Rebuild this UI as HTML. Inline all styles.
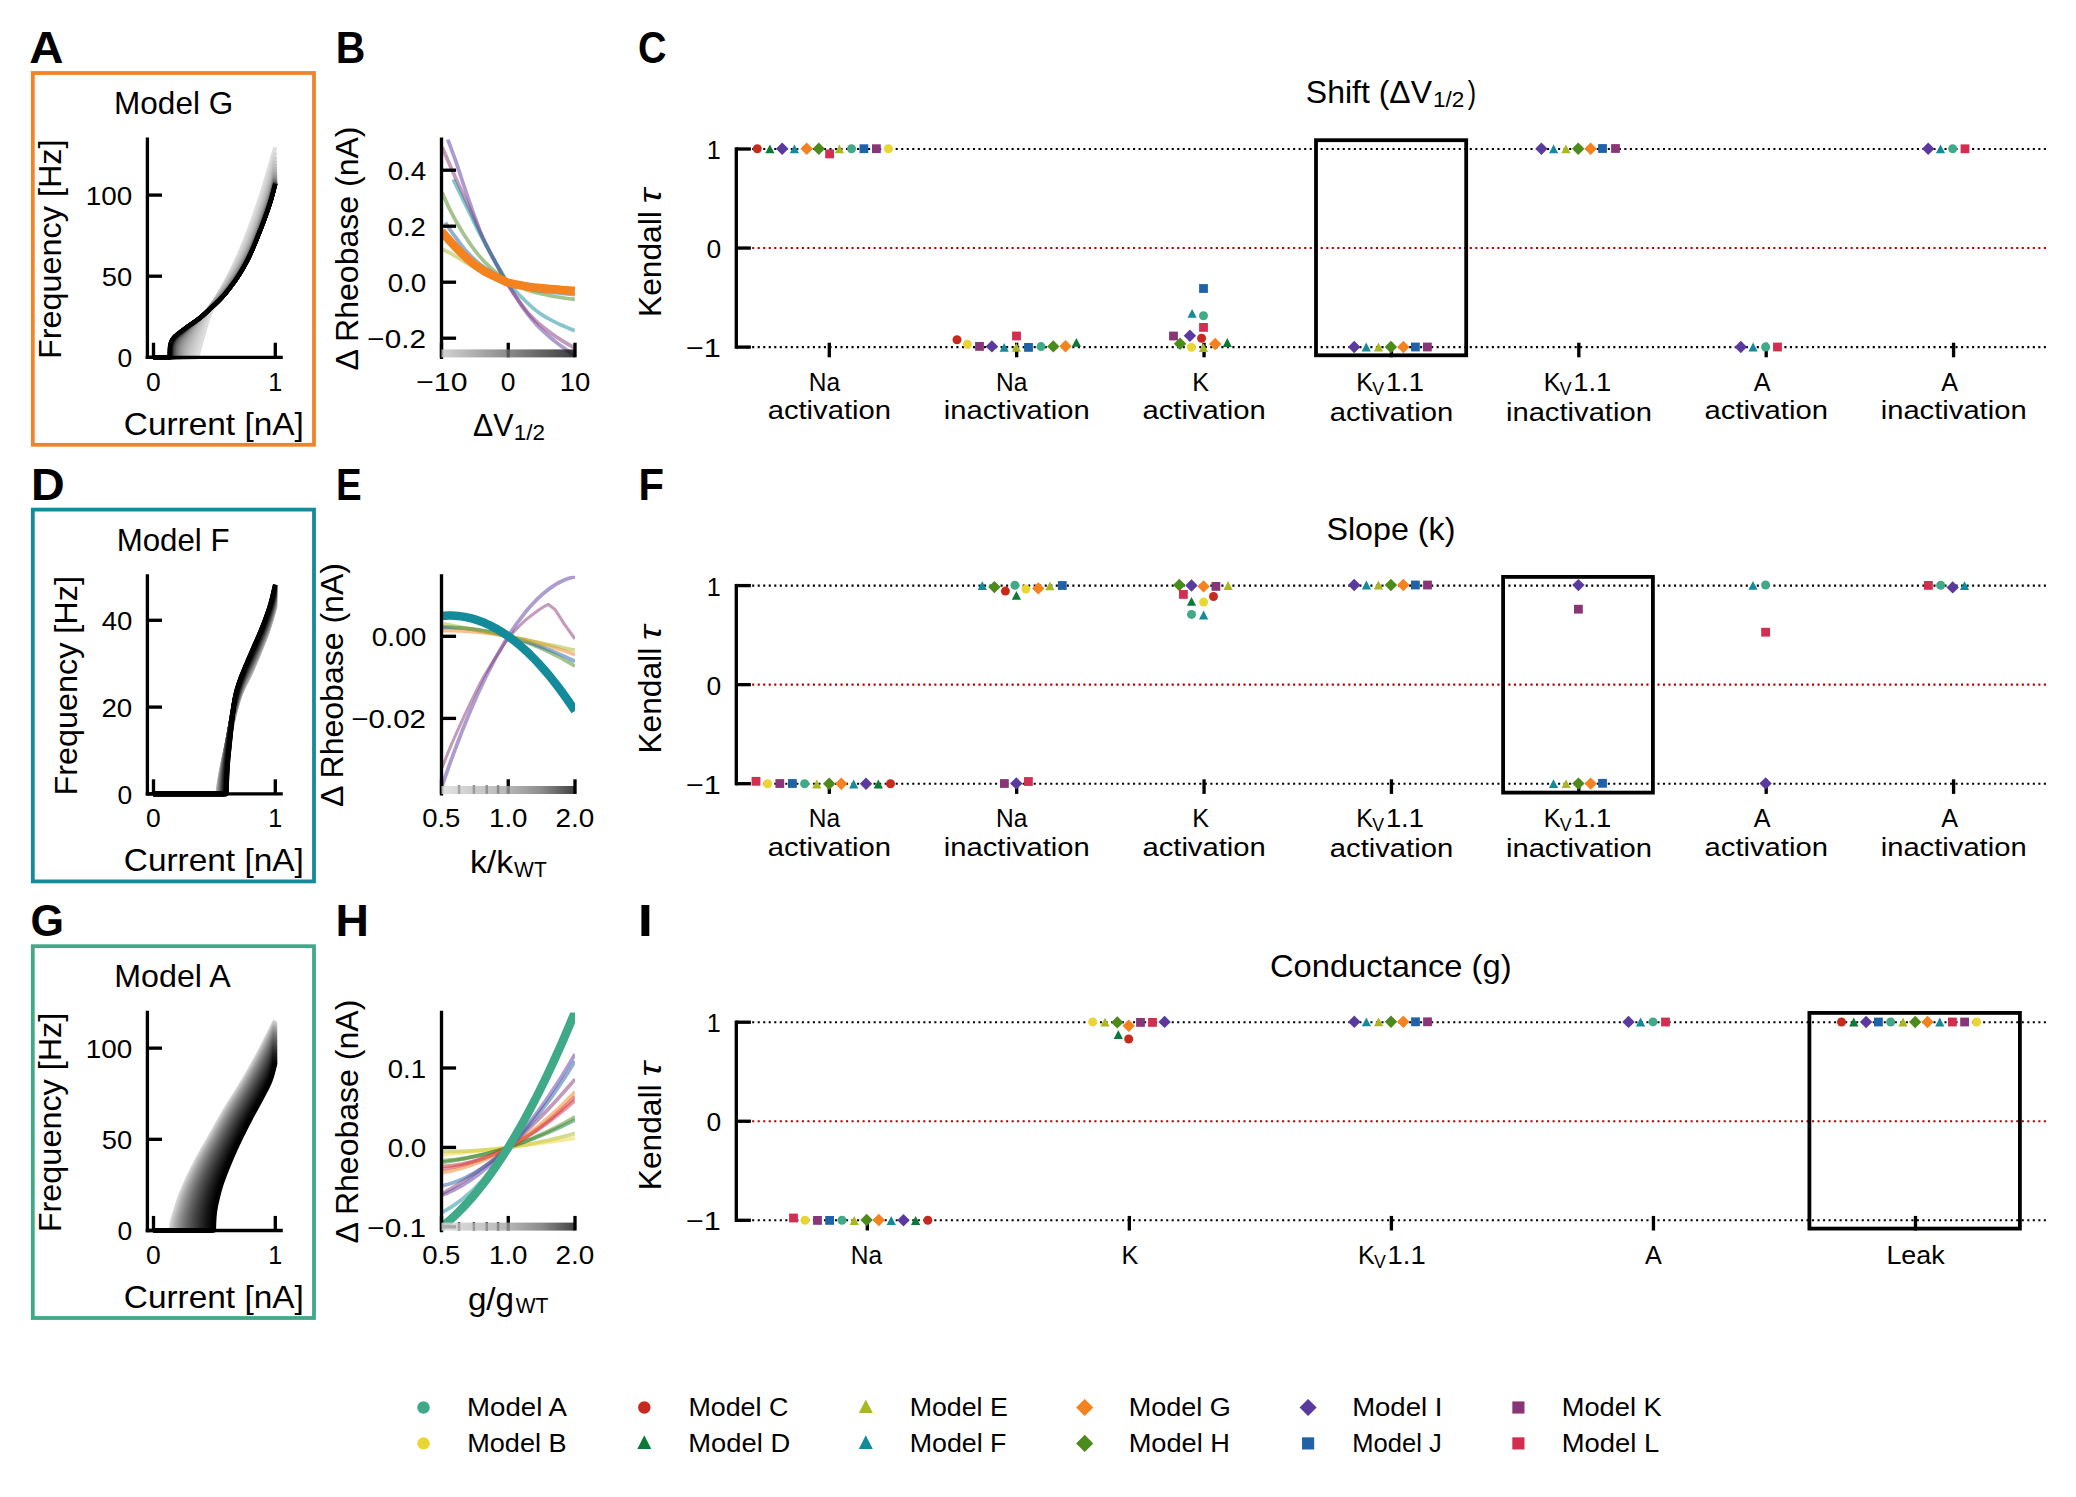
<!DOCTYPE html><html><head><meta charset="utf-8"><title>Figure</title><style>html,body{margin:0;padding:0;background:#fff;width:2076px;height:1497px;overflow:hidden}svg{display:block}text{font-family:"Liberation Sans",sans-serif}</style></head><body>
<svg width="2076" height="1497" viewBox="0 0 2076 1497" font-family="Liberation Sans, sans-serif">
<defs>
<linearGradient id="gbar" x1="0" x2="1" y1="0" y2="0"><stop offset="0" stop-color="#c7c7c7"/><stop offset="0.5" stop-color="#6d6d6d"/><stop offset="1" stop-color="#0e0e0e"/></linearGradient>
<linearGradient id="gbar2" x1="0" x2="1" y1="0" y2="0"><stop offset="0" stop-color="#dbdbdb"/><stop offset="0.5" stop-color="#a4a4a4"/><stop offset="0.75" stop-color="#6f6f6f"/><stop offset="1" stop-color="#131313"/></linearGradient>
<clipPath id="clipmid0"><rect x="441.5" y="139.2" width="133.5" height="218.1"/></clipPath>
<clipPath id="clipmid1"><rect x="441.5" y="575.8" width="133.5" height="218.1"/></clipPath>
<clipPath id="clipmid2"><rect x="441.5" y="1012.4" width="133.5" height="218.1"/></clipPath>
</defs>
<rect width="2076" height="1497" fill="#fff"/>
<text transform="translate(29.22 63) scale(1.0718 1)" font-size="44.25" font-weight="bold">A</text>
<text transform="translate(335.79 63) scale(0.9263 1)" font-size="44.25" font-weight="bold">B</text>
<text transform="translate(638.01 63) scale(0.8915 1)" font-size="44.25" font-weight="bold">C</text>
<text transform="translate(30.91 499.6) scale(1.0533 1)" font-size="44.25" font-weight="bold">D</text>
<text transform="translate(335.96 499.6) scale(0.8703 1)" font-size="44.25" font-weight="bold">E</text>
<text transform="translate(638.54 499.6) scale(0.9418 1)" font-size="44.25" font-weight="bold">F</text>
<text transform="translate(30.56 936.2) scale(0.9732 1)" font-size="44.25" font-weight="bold">G</text>
<text transform="translate(335.43 936.2) scale(1.0460 1)" font-size="44.25" font-weight="bold">H</text>
<text transform="translate(637.65 936.2) scale(1.2392 1)" font-size="44.25" font-weight="bold">I</text>
<rect x="32.8" y="73" width="281.2" height="371.8" fill="none" stroke="#f0842a" stroke-width="3.8"/>
<text transform="translate(114.1 114) scale(1.0178 1)" font-size="30.97">Model G</text>
<path d="M153.5 357.3 L197.28 357.3 L197.32 357.15 L197.4 356.83 L197.52 356.35 L197.68 355.74 L197.86 355.02 L198.07 354.19 L198.3 353.26 L198.56 352.24 L198.84 351.13 L199.15 349.96 L199.47 348.72 L199.82 347.44 L200.19 346.11 L200.58 344.73 L200.99 343.3 L201.42 341.81 L201.87 340.26 L202.34 338.64 L202.83 336.94 L203.33 335.14 L203.86 333.26 L204.4 331.31 L204.96 329.35 L205.53 327.39 L206.12 325.46 L206.73 323.49 L207.36 321.5 L208 319.51 L208.66 317.56 L209.34 315.68 L210.03 313.89 L210.73 312.2 L211.46 310.6 L212.19 309.04 L212.95 307.49 L213.72 305.9 L214.5 304.25 L215.3 302.54 L216.11 300.79 L216.94 299 L217.78 297.19 L218.64 295.37 L219.51 293.53 L220.4 291.7 L221.3 289.87 L222.21 288.05 L223.14 286.26 L224.08 284.47 L225.04 282.67 L226.01 280.86 L226.99 279.02 L227.99 277.14 L229 275.2 L230.02 273.2 L231.06 271.12 L232.11 268.96 L233.17 266.75 L234.25 264.49 L235.34 262.16 L236.44 259.78 L237.56 257.33 L238.69 254.8 L239.83 252.19 L240.98 249.5 L242.15 246.73 L243.33 243.88 L244.52 240.95 L245.73 237.93 L246.94 234.84 L248.17 231.66 L249.42 228.39 L250.67 225.03 L251.94 221.58 L253.22 218.04 L254.51 214.41 L255.81 210.69 L257.13 206.88 L258.45 202.98 L259.79 198.96 L261.14 194.82 L262.51 190.53 L263.88 186.11 L265.27 181.56 L266.67 176.93 L268.08 172.19 L269.5 167.33 L270.93 162.36 L272.38 157.32 L273.83 152.22 L275.3 147.24" fill="none" stroke="#dedede" stroke-width="4.2" stroke-linejoin="round" stroke-linecap="butt"/>
<path d="M153.5 357.3 L194.42 357.3 L194.45 356.8 L194.54 356.07 L194.66 355.39 L194.82 354.68 L195.01 353.9 L195.23 353.04 L195.47 352.11 L195.74 351.1 L196.03 350.03 L196.35 348.89 L196.69 347.7 L197.05 346.48 L197.43 345.22 L197.84 343.92 L198.26 342.58 L198.71 341.19 L199.17 339.74 L199.66 338.24 L200.16 336.67 L200.69 335.01 L201.23 333.27 L201.79 331.48 L202.37 329.67 L202.97 327.87 L203.58 326.09 L204.21 324.28 L204.86 322.45 L205.53 320.62 L206.21 318.83 L206.91 317.09 L207.63 315.44 L208.36 313.88 L209.11 312.4 L209.87 310.96 L210.65 309.52 L211.45 308.05 L212.26 306.53 L213.09 304.95 L213.93 303.34 L214.79 301.7 L215.67 300.03 L216.56 298.35 L217.46 296.65 L218.38 294.95 L219.31 293.25 L220.26 291.56 L221.22 289.88 L222.2 288.2 L223.19 286.51 L224.19 284.81 L225.21 283.08 L226.25 281.32 L227.29 279.49 L228.36 277.59 L229.43 275.61 L230.52 273.56 L231.62 271.46 L232.74 269.31 L233.87 267.09 L235.01 264.81 L236.17 262.46 L237.34 260.03 L238.52 257.52 L239.72 254.93 L240.93 252.25 L242.15 249.51 L243.39 246.68 L244.64 243.76 L245.9 240.77 L247.18 237.67 L248.46 234.49 L249.77 231.2 L251.08 227.82 L252.4 224.34 L253.74 220.76 L255.09 217.07 L256.46 213.26 L257.83 209.33 L259.22 205.27 L260.62 201.09 L262.04 196.77 L263.46 192.31 L264.9 187.73 L266.35 183.05 L267.81 178.25 L269.28 173.31 L270.77 168.24 L272.27 163.03 L273.78 157.64 L275.3 152.29" fill="none" stroke="#d7d7d7" stroke-width="4.2" stroke-linejoin="round" stroke-linecap="butt"/>
<path d="M153.5 357.3 L191.83 357.3 L191.87 356.48 L191.96 355.4 L192.09 354.52 L192.25 353.72 L192.44 352.9 L192.67 352.01 L192.92 351.07 L193.19 350.08 L193.5 349.03 L193.82 347.93 L194.17 346.79 L194.55 345.62 L194.94 344.43 L195.36 343.2 L195.8 341.93 L196.26 340.63 L196.74 339.29 L197.24 337.89 L197.76 336.43 L198.3 334.89 L198.86 333.29 L199.44 331.63 L200.04 329.96 L200.65 328.29 L201.29 326.65 L201.94 324.98 L202.61 323.29 L203.3 321.61 L204 319.95 L204.72 318.35 L205.46 316.82 L206.22 315.37 L206.99 313.99 L207.78 312.65 L208.59 311.31 L209.41 309.95 L210.25 308.54 L211.1 307.08 L211.97 305.59 L212.86 304.07 L213.76 302.52 L214.68 300.96 L215.61 299.39 L216.56 297.8 L217.52 296.21 L218.5 294.62 L219.49 293.03 L220.5 291.45 L221.52 289.86 L222.56 288.25 L223.61 286.61 L224.68 284.95 L225.76 283.21 L226.86 281.4 L227.97 279.51 L229.09 277.56 L230.23 275.55 L231.38 273.5 L232.55 271.37 L233.73 269.18 L234.92 266.91 L236.13 264.57 L237.35 262.14 L238.58 259.63 L239.83 257.05 L241.1 254.39 L242.37 251.65 L243.66 248.82 L244.96 245.91 L246.28 242.89 L247.61 239.77 L248.95 236.56 L250.3 233.23 L251.67 229.8 L253.05 226.26 L254.45 222.6 L255.86 218.79 L257.28 214.84 L258.71 210.75 L260.15 206.52 L261.61 202.18 L263.08 197.7 L264.57 193.09 L266.06 188.36 L267.57 183.51 L269.09 178.5 L270.63 173.33 L272.17 167.98 L273.73 162.33 L275.3 156.67" fill="none" stroke="#cfcfcf" stroke-width="4.2" stroke-linejoin="round" stroke-linecap="butt"/>
<path d="M153.5 357.3 L189.5 357.3 L189.54 356.19 L189.63 354.78 L189.76 353.74 L189.93 352.86 L190.13 351.99 L190.36 351.09 L190.62 350.14 L190.9 349.16 L191.21 348.13 L191.55 347.07 L191.91 345.97 L192.29 344.85 L192.7 343.71 L193.13 342.55 L193.58 341.36 L194.05 340.13 L194.55 338.88 L195.06 337.57 L195.6 336.22 L196.15 334.79 L196.73 333.3 L197.32 331.77 L197.94 330.22 L198.57 328.68 L199.22 327.15 L199.89 325.61 L200.58 324.04 L201.29 322.48 L202.01 320.95 L202.75 319.46 L203.51 318.04 L204.29 316.69 L205.09 315.4 L205.9 314.15 L206.73 312.9 L207.57 311.63 L208.43 310.32 L209.31 308.96 L210.2 307.57 L211.12 306.15 L212.04 304.72 L212.98 303.26 L213.94 301.79 L214.92 300.3 L215.91 298.8 L216.91 297.29 L217.93 295.79 L218.97 294.29 L220.02 292.77 L221.09 291.24 L222.17 289.68 L223.27 288.1 L224.38 286.44 L225.5 284.7 L226.64 282.89 L227.8 281.02 L228.97 279.1 L230.15 277.12 L231.35 275.08 L232.57 272.96 L233.79 270.77 L235.03 268.5 L236.29 266.15 L237.56 263.72 L238.84 261.21 L240.14 258.62 L241.45 255.96 L242.78 253.21 L244.12 250.37 L245.47 247.42 L246.83 244.36 L248.21 241.2 L249.61 237.93 L251.01 234.54 L252.43 231.04 L253.87 227.4 L255.31 223.59 L256.77 219.62 L258.24 215.49 L259.73 211.24 L261.23 206.87 L262.74 202.37 L264.27 197.73 L265.8 192.97 L267.36 188.07 L268.92 183 L270.49 177.75 L272.08 172.27 L273.69 166.4 L275.3 160.46" fill="none" stroke="#c8c8c8" stroke-width="4.2" stroke-linejoin="round" stroke-linecap="butt"/>
<path d="M153.5 357.3 L187.4 357.3 L187.44 355.93 L187.53 354.23 L187.67 353.04 L187.84 352.08 L188.04 351.18 L188.28 350.25 L188.54 349.3 L188.83 348.33 L189.15 347.33 L189.5 346.29 L189.87 345.23 L190.26 344.16 L190.68 343.07 L191.12 341.96 L191.58 340.84 L192.06 339.69 L192.57 338.51 L193.1 337.29 L193.65 336.02 L194.21 334.7 L194.8 333.31 L195.41 331.89 L196.04 330.45 L196.69 329.02 L197.36 327.6 L198.05 326.16 L198.75 324.71 L199.48 323.26 L200.22 321.83 L200.98 320.45 L201.76 319.12 L202.55 317.86 L203.37 316.65 L204.2 315.48 L205.05 314.3 L205.91 313.11 L206.8 311.88 L207.69 310.61 L208.61 309.31 L209.54 307.99 L210.49 306.64 L211.46 305.28 L212.44 303.89 L213.44 302.48 L214.45 301.06 L215.48 299.63 L216.53 298.2 L217.59 296.76 L218.67 295.31 L219.76 293.84 L220.87 292.35 L221.99 290.83 L223.13 289.24 L224.28 287.56 L225.45 285.83 L226.64 284.03 L227.83 282.18 L229.05 280.27 L230.28 278.29 L231.52 276.24 L232.78 274.12 L234.05 271.92 L235.33 269.63 L236.64 267.26 L237.95 264.81 L239.28 262.3 L240.62 259.7 L241.98 257.01 L243.35 254.23 L244.74 251.34 L246.14 248.34 L247.55 245.22 L248.98 241.99 L250.42 238.65 L251.87 235.18 L253.34 231.56 L254.82 227.75 L256.32 223.76 L257.83 219.61 L259.35 215.33 L260.89 210.94 L262.43 206.41 L264 201.76 L265.57 196.97 L267.16 192.03 L268.76 186.9 L270.38 181.58 L272.01 176 L273.65 169.94 L275.3 163.76" fill="none" stroke="#c0c0c0" stroke-width="4.2" stroke-linejoin="round" stroke-linecap="butt"/>
<path d="M153.5 357.3 L185.51 357.3 L185.55 355.69 L185.64 353.74 L185.78 352.41 L185.96 351.38 L186.17 350.44 L186.4 349.5 L186.67 348.55 L186.97 347.59 L187.3 346.6 L187.65 345.59 L188.03 344.57 L188.43 343.53 L188.85 342.49 L189.3 341.44 L189.78 340.37 L190.27 339.29 L190.79 338.18 L191.33 337.04 L191.89 335.85 L192.47 334.61 L193.07 333.32 L193.69 331.99 L194.34 330.65 L195 329.32 L195.68 328 L196.38 326.66 L197.1 325.3 L197.84 323.95 L198.6 322.62 L199.38 321.33 L200.17 320.08 L200.99 318.89 L201.82 317.76 L202.67 316.65 L203.53 315.54 L204.42 314.42 L205.32 313.26 L206.24 312.07 L207.17 310.85 L208.13 309.6 L209.1 308.33 L210.08 307.05 L211.09 305.73 L212.11 304.4 L213.14 303.04 L214.2 301.68 L215.26 300.3 L216.35 298.92 L217.45 297.52 L218.56 296.1 L219.7 294.66 L220.84 293.2 L222.01 291.67 L223.19 290.05 L224.38 288.37 L225.59 286.63 L226.81 284.85 L228.05 283 L229.31 281.08 L230.58 279.09 L231.86 277.02 L233.16 274.88 L234.47 272.65 L235.8 270.33 L237.15 267.94 L238.5 265.48 L239.88 262.94 L241.26 260.31 L242.66 257.59 L244.08 254.75 L245.51 251.79 L246.95 248.71 L248.41 245.52 L249.88 242.21 L251.37 238.76 L252.87 235.16 L254.38 231.36 L255.91 227.36 L257.45 223.18 L259.01 218.87 L260.57 214.47 L262.16 209.92 L263.75 205.25 L265.36 200.43 L266.99 195.46 L268.62 190.29 L270.27 184.91 L271.93 179.22 L273.61 173 L275.3 166.61" fill="none" stroke="#b9b9b9" stroke-width="4.2" stroke-linejoin="round" stroke-linecap="butt"/>
<path d="M153.5 357.3 L183.8 357.3 L183.84 355.48 L183.94 353.29 L184.08 351.84 L184.26 350.75 L184.47 349.78 L184.72 348.82 L184.99 347.87 L185.29 346.92 L185.62 345.95 L185.98 344.97 L186.37 343.97 L186.78 342.97 L187.21 341.97 L187.67 340.97 L188.15 339.95 L188.65 338.93 L189.18 337.88 L189.73 336.81 L190.3 335.7 L190.89 334.54 L191.51 333.33 L192.14 332.09 L192.8 330.84 L193.47 329.59 L194.17 328.35 L194.88 327.1 L195.62 325.83 L196.37 324.57 L197.14 323.32 L197.93 322.11 L198.75 320.94 L199.57 319.81 L200.42 318.74 L201.29 317.69 L202.17 316.64 L203.07 315.57 L203.99 314.48 L204.93 313.35 L205.88 312.2 L206.85 311.02 L207.84 309.82 L208.84 308.6 L209.87 307.35 L210.91 306.07 L211.96 304.77 L213.03 303.46 L214.12 302.14 L215.23 300.8 L216.35 299.44 L217.49 298.06 L218.64 296.67 L219.81 295.26 L220.99 293.77 L222.19 292.2 L223.41 290.57 L224.64 288.89 L225.89 287.16 L227.15 285.37 L228.43 283.5 L229.73 281.56 L231.04 279.54 L232.36 277.44 L233.7 275.26 L235.05 272.99 L236.42 270.65 L237.8 268.24 L239.2 265.75 L240.62 263.17 L242.04 260.49 L243.49 257.7 L244.94 254.77 L246.41 251.74 L247.9 248.58 L249.4 245.3 L250.91 241.87 L252.44 238.29 L253.98 234.49 L255.54 230.47 L257.11 226.27 L258.7 221.95 L260.29 217.52 L261.91 212.97 L263.53 208.27 L265.17 203.44 L266.83 198.43 L268.49 193.22 L270.18 187.79 L271.87 182.02 L273.58 175.65 L275.3 169.09" fill="none" stroke="#b2b2b2" stroke-width="4.2" stroke-linejoin="round" stroke-linecap="butt"/>
<path d="M153.5 357.3 L182.26 357.3 L182.31 355.29 L182.4 352.89 L182.55 351.32 L182.73 350.18 L182.94 349.19 L183.19 348.21 L183.47 347.26 L183.78 346.31 L184.12 345.36 L184.48 344.4 L184.87 343.43 L185.29 342.47 L185.73 341.51 L186.2 340.55 L186.68 339.58 L187.2 338.6 L187.73 337.62 L188.29 336.61 L188.87 335.56 L189.48 334.47 L190.1 333.34 L190.74 332.18 L191.41 331 L192.1 329.83 L192.8 328.67 L193.53 327.49 L194.28 326.3 L195.04 325.12 L195.83 323.95 L196.63 322.8 L197.46 321.69 L198.3 320.63 L199.16 319.61 L200.04 318.61 L200.94 317.61 L201.86 316.59 L202.79 315.55 L203.74 314.48 L204.71 313.39 L205.7 312.27 L206.71 311.13 L207.73 309.96 L208.77 308.76 L209.82 307.54 L210.9 306.29 L211.99 305.02 L213.09 303.74 L214.22 302.43 L215.36 301.11 L216.51 299.77 L217.69 298.41 L218.88 297.04 L220.08 295.59 L221.3 294.06 L222.54 292.48 L223.79 290.85 L225.06 289.16 L226.34 287.41 L227.64 285.59 L228.96 283.69 L230.29 281.72 L231.64 279.66 L233 277.52 L234.38 275.3 L235.77 273 L237.17 270.63 L238.6 268.18 L240.03 265.64 L241.48 263.01 L242.95 260.25 L244.43 257.36 L245.93 254.36 L247.44 251.23 L248.96 247.97 L250.5 244.57 L252.06 240.99 L253.63 237.19 L255.21 233.17 L256.81 228.95 L258.42 224.61 L260.04 220.17 L261.68 215.6 L263.34 210.89 L265 206.04 L266.68 201 L268.38 195.76 L270.09 190.28 L271.81 184.44 L273.55 177.95 L275.3 171.23" fill="none" stroke="#aaaaaa" stroke-width="4.2" stroke-linejoin="round" stroke-linecap="butt"/>
<path d="M153.5 357.3 L180.87 357.3 L180.92 355.11 L181.02 352.52 L181.17 350.86 L181.35 349.67 L181.57 348.65 L181.82 347.66 L182.1 346.71 L182.42 345.77 L182.76 344.84 L183.13 343.89 L183.52 342.95 L183.95 342.02 L184.39 341.09 L184.87 340.17 L185.36 339.24 L185.88 338.31 L186.43 337.38 L187 336.42 L187.58 335.44 L188.2 334.41 L188.83 333.34 L189.48 332.25 L190.16 331.15 L190.86 330.05 L191.57 328.95 L192.31 327.84 L193.07 326.72 L193.85 325.61 L194.64 324.5 L195.46 323.41 L196.3 322.36 L197.15 321.35 L198.03 320.37 L198.92 319.42 L199.83 318.46 L200.76 317.49 L201.71 316.5 L202.68 315.48 L203.66 314.43 L204.66 313.37 L205.68 312.27 L206.72 311.15 L207.78 310 L208.85 308.82 L209.94 307.61 L211.04 306.38 L212.17 305.13 L213.31 303.86 L214.46 302.57 L215.64 301.26 L216.83 299.93 L218.03 298.58 L219.26 297.17 L220.5 295.68 L221.75 294.13 L223.02 292.54 L224.31 290.89 L225.62 289.19 L226.93 287.4 L228.27 285.54 L229.62 283.6 L230.99 281.59 L232.37 279.48 L233.77 277.29 L235.18 275.03 L236.61 272.7 L238.05 270.29 L239.51 267.79 L240.98 265.19 L242.47 262.46 L243.97 259.6 L245.49 256.62 L247.02 253.52 L248.57 250.29 L250.13 246.9 L251.71 243.34 L253.3 239.54 L254.91 235.5 L256.53 231.27 L258.17 226.91 L259.82 222.46 L261.48 217.88 L263.16 213.16 L264.85 208.29 L266.56 203.23 L268.28 197.96 L270.01 192.44 L271.76 186.54 L273.52 179.94 L275.3 173.08" fill="none" stroke="#a3a3a3" stroke-width="4.2" stroke-linejoin="round" stroke-linecap="butt"/>
<path d="M153.5 357.3 L179.62 357.3 L179.67 354.96 L179.77 352.2 L179.92 350.44 L180.11 349.21 L180.33 348.17 L180.58 347.17 L180.87 346.21 L181.19 345.28 L181.53 344.36 L181.91 343.44 L182.31 342.52 L182.74 341.61 L183.19 340.71 L183.67 339.83 L184.17 338.94 L184.7 338.06 L185.25 337.17 L185.83 336.26 L186.42 335.33 L187.04 334.36 L187.69 333.35 L188.35 332.32 L189.03 331.28 L189.74 330.24 L190.47 329.2 L191.21 328.16 L191.98 327.1 L192.77 326.04 L193.58 324.99 L194.41 323.96 L195.25 322.96 L196.12 321.99 L197.01 321.05 L197.91 320.14 L198.83 319.22 L199.78 318.29 L200.74 317.34 L201.72 316.36 L202.71 315.35 L203.73 314.33 L204.76 313.28 L205.81 312.2 L206.88 311.09 L207.97 309.94 L209.07 308.77 L210.19 307.57 L211.33 306.35 L212.49 305.1 L213.66 303.83 L214.85 302.54 L216.05 301.24 L217.28 299.92 L218.52 298.54 L219.77 297.07 L221.04 295.56 L222.33 294.01 L223.64 292.39 L224.96 290.72 L226.29 288.97 L227.65 287.14 L229.02 285.24 L230.4 283.25 L231.8 281.18 L233.22 279.02 L234.65 276.79 L236.09 274.49 L237.56 272.11 L239.03 269.64 L240.53 267.07 L242.03 264.38 L243.56 261.54 L245.1 258.59 L246.65 255.51 L248.22 252.29 L249.8 248.92 L251.4 245.37 L253.01 241.57 L254.64 237.53 L256.28 233.28 L257.94 228.91 L259.61 224.45 L261.3 219.86 L263 215.13 L264.71 210.24 L266.44 205.16 L268.18 199.87 L269.94 194.31 L271.71 188.36 L273.5 181.66 L275.3 174.69" fill="none" stroke="#9b9b9b" stroke-width="4.2" stroke-linejoin="round" stroke-linecap="butt"/>
<path d="M153.5 357.3 L178.5 357.3 L178.54 354.82 L178.65 351.9 L178.8 350.06 L178.98 348.79 L179.21 347.73 L179.47 346.72 L179.76 345.76 L180.08 344.84 L180.43 343.94 L180.81 343.03 L181.21 342.13 L181.65 341.25 L182.11 340.38 L182.59 339.52 L183.1 338.67 L183.63 337.82 L184.19 336.98 L184.77 336.12 L185.38 335.23 L186 334.31 L186.65 333.35 L187.32 332.38 L188.02 331.4 L188.73 330.41 L189.47 329.43 L190.22 328.43 L191 327.43 L191.8 326.42 L192.62 325.43 L193.45 324.44 L194.31 323.48 L195.19 322.56 L196.08 321.66 L197 320.77 L197.93 319.89 L198.89 318.99 L199.86 318.07 L200.85 317.13 L201.86 316.16 L202.89 315.18 L203.93 314.16 L205 313.12 L206.08 312.04 L207.18 310.93 L208.29 309.78 L209.43 308.6 L210.58 307.4 L211.75 306.18 L212.93 304.93 L214.14 303.66 L215.36 302.38 L216.59 301.08 L217.85 299.72 L219.12 298.28 L220.41 296.8 L221.71 295.27 L223.03 293.69 L224.37 292.05 L225.72 290.33 L227.09 288.53 L228.47 286.65 L229.87 284.69 L231.29 282.65 L232.72 280.52 L234.17 278.31 L235.63 276.04 L237.11 273.69 L238.61 271.25 L240.12 268.7 L241.64 266.03 L243.18 263.22 L244.74 260.29 L246.31 257.22 L247.9 254.02 L249.5 250.67 L251.12 247.12 L252.75 243.33 L254.4 239.28 L256.06 235.02 L257.73 230.63 L259.43 226.17 L261.13 221.57 L262.85 216.83 L264.59 211.93 L266.34 206.83 L268.1 201.51 L269.88 195.93 L271.67 189.93 L273.48 183.15 L275.3 176.08" fill="none" stroke="#949494" stroke-width="4.2" stroke-linejoin="round" stroke-linecap="butt"/>
<path d="M153.5 357.3 L177.48 357.3 L177.53 354.69 L177.63 351.63 L177.78 349.73 L177.97 348.42 L178.2 347.34 L178.46 346.32 L178.76 345.36 L179.08 344.45 L179.43 343.55 L179.82 342.66 L180.23 341.78 L180.67 340.92 L181.13 340.08 L181.62 339.25 L182.13 338.43 L182.67 337.61 L183.24 336.81 L183.82 335.99 L184.43 335.14 L185.07 334.27 L185.72 333.36 L186.4 332.43 L187.1 331.5 L187.82 330.56 L188.57 329.63 L189.33 328.68 L190.12 327.72 L190.92 326.77 L191.75 325.81 L192.59 324.87 L193.46 323.95 L194.35 323.06 L195.25 322.19 L196.18 321.33 L197.12 320.47 L198.09 319.61 L199.07 318.72 L200.07 317.81 L201.09 316.87 L202.13 315.92 L203.18 314.94 L204.26 313.92 L205.35 312.87 L206.46 311.78 L207.59 310.66 L208.74 309.51 L209.9 308.33 L211.08 307.12 L212.28 305.89 L213.5 304.63 L214.73 303.36 L215.98 302.08 L217.25 300.74 L218.53 299.33 L219.83 297.87 L221.15 296.37 L222.48 294.82 L223.83 293.2 L225.2 291.5 L226.58 289.73 L227.98 287.87 L229.4 285.94 L230.83 283.92 L232.27 281.81 L233.74 279.63 L235.22 277.38 L236.71 275.05 L238.22 272.64 L239.75 270.12 L241.29 267.47 L242.85 264.68 L244.42 261.76 L246.01 258.71 L247.61 255.52 L249.23 252.18 L250.86 248.64 L252.51 244.84 L254.18 240.79 L255.86 236.52 L257.55 232.13 L259.26 227.65 L260.98 223.04 L262.72 218.29 L264.47 213.38 L266.24 208.27 L268.02 202.94 L269.82 197.33 L271.63 191.29 L273.46 184.44 L275.3 177.28" fill="none" stroke="#8d8d8d" stroke-width="4.2" stroke-linejoin="round" stroke-linecap="butt"/>
<path d="M153.5 357.3 L176.57 357.3 L176.61 354.58 L176.72 351.4 L176.87 349.42 L177.06 348.08 L177.29 346.99 L177.56 345.96 L177.85 345 L178.18 344.09 L178.54 343.21 L178.92 342.33 L179.34 341.46 L179.78 340.62 L180.25 339.8 L180.74 339 L181.26 338.21 L181.81 337.43 L182.38 336.65 L182.97 335.87 L183.58 335.06 L184.22 334.23 L184.89 333.36 L185.57 332.48 L186.28 331.59 L187.01 330.7 L187.76 329.81 L188.53 328.9 L189.32 327.99 L190.13 327.07 L190.97 326.16 L191.82 325.25 L192.7 324.37 L193.59 323.5 L194.5 322.66 L195.44 321.83 L196.39 320.99 L197.36 320.15 L198.35 319.29 L199.36 318.41 L200.39 317.5 L201.44 316.57 L202.51 315.62 L203.59 314.63 L204.7 313.6 L205.82 312.53 L206.96 311.43 L208.11 310.29 L209.29 309.13 L210.48 307.94 L211.69 306.72 L212.92 305.47 L214.16 304.22 L215.42 302.95 L216.7 301.62 L218 300.23 L219.31 298.8 L220.64 297.32 L221.99 295.79 L223.35 294.19 L224.73 292.51 L226.12 290.76 L227.54 288.93 L228.97 287.01 L230.41 285.01 L231.87 282.93 L233.35 280.76 L234.84 278.54 L236.35 276.23 L237.88 273.84 L239.42 271.34 L240.97 268.71 L242.54 265.93 L244.13 263.03 L245.73 259.99 L247.35 256.82 L248.99 253.48 L250.64 249.95 L252.3 246.16 L253.98 242.09 L255.67 237.82 L257.38 233.41 L259.11 228.93 L260.85 224.32 L262.6 219.56 L264.37 214.65 L266.16 209.52 L267.96 204.17 L269.77 198.53 L271.6 192.46 L273.44 185.56 L275.3 178.32" fill="none" stroke="#858585" stroke-width="4.2" stroke-linejoin="round" stroke-linecap="butt"/>
<path d="M153.5 357.3 L175.74 357.3 L175.79 354.48 L175.9 351.18 L176.05 349.14 L176.24 347.78 L176.47 346.67 L176.74 345.64 L177.04 344.68 L177.37 343.77 L177.73 342.9 L178.12 342.03 L178.54 341.18 L178.98 340.36 L179.45 339.56 L179.95 338.78 L180.48 338.01 L181.03 337.26 L181.6 336.52 L182.2 335.76 L182.82 334.99 L183.46 334.19 L184.13 333.37 L184.82 332.53 L185.53 331.68 L186.27 330.82 L187.02 329.96 L187.8 329.1 L188.6 328.22 L189.42 327.34 L190.26 326.46 L191.12 325.59 L192.01 324.73 L192.91 323.89 L193.83 323.07 L194.77 322.26 L195.73 321.45 L196.71 320.63 L197.71 319.79 L198.73 318.93 L199.77 318.05 L200.83 317.14 L201.9 316.21 L202.99 315.24 L204.11 314.24 L205.24 313.19 L206.39 312.1 L207.55 310.98 L208.74 309.83 L209.94 308.64 L211.16 307.43 L212.4 306.2 L213.65 304.96 L214.92 303.7 L216.21 302.39 L217.52 301.01 L218.84 299.6 L220.18 298.14 L221.54 296.62 L222.92 295.05 L224.31 293.39 L225.71 291.66 L227.14 289.84 L228.58 287.94 L230.04 285.96 L231.51 283.89 L233 281.74 L234.5 279.53 L236.02 277.25 L237.56 274.87 L239.12 272.39 L240.69 269.77 L242.27 267.01 L243.87 264.12 L245.49 261.1 L247.12 257.94 L248.77 254.61 L250.43 251.08 L252.11 247.29 L253.8 243.22 L255.51 238.94 L257.23 234.53 L258.97 230.04 L260.73 225.42 L262.5 220.66 L264.28 215.73 L266.08 210.59 L267.9 205.23 L269.72 199.58 L271.57 193.48 L273.43 186.52 L275.3 179.22" fill="none" stroke="#7e7e7e" stroke-width="4.2" stroke-linejoin="round" stroke-linecap="butt"/>
<path d="M153.5 357.3 L175 357.3 L175.05 354.38 L175.15 350.98 L175.31 348.9 L175.5 347.51 L175.74 346.38 L176 345.34 L176.31 344.38 L176.64 343.48 L177 342.62 L177.39 341.76 L177.81 340.93 L178.26 340.12 L178.74 339.34 L179.24 338.58 L179.77 337.84 L180.32 337.11 L180.9 336.39 L181.5 335.67 L182.13 334.93 L182.78 334.16 L183.45 333.37 L184.15 332.57 L184.86 331.75 L185.6 330.93 L186.37 330.11 L187.15 329.27 L187.95 328.43 L188.78 327.58 L189.63 326.73 L190.49 325.89 L191.38 325.06 L192.29 324.24 L193.22 323.44 L194.17 322.65 L195.14 321.86 L196.13 321.05 L197.13 320.23 L198.16 319.39 L199.2 318.53 L200.27 317.64 L201.35 316.73 L202.45 315.78 L203.57 314.79 L204.71 313.76 L205.87 312.69 L207.05 311.58 L208.24 310.43 L209.45 309.26 L210.68 308.06 L211.93 306.83 L213.19 305.6 L214.47 304.34 L215.77 303.04 L217.09 301.68 L218.42 300.28 L219.77 298.84 L221.14 297.35 L222.52 295.79 L223.93 294.14 L225.34 292.43 L226.78 290.63 L228.23 288.74 L229.7 286.78 L231.18 284.72 L232.68 282.59 L234.2 280.4 L235.73 278.13 L237.28 275.77 L238.85 273.3 L240.43 270.7 L242.02 267.95 L243.64 265.07 L245.26 262.06 L246.91 258.9 L248.57 255.58 L250.24 252.06 L251.93 248.27 L253.64 244.2 L255.36 239.9 L257.1 235.49 L258.85 231 L260.62 226.37 L262.4 221.61 L264.2 216.67 L266.01 211.52 L267.84 206.15 L269.68 200.48 L271.54 194.35 L273.41 187.35 L275.3 179.99" fill="none" stroke="#767676" stroke-width="4.2" stroke-linejoin="round" stroke-linecap="butt"/>
<path d="M153.5 357.3 L174.33 357.3 L174.38 354.3 L174.49 350.81 L174.64 348.67 L174.84 347.26 L175.07 346.12 L175.34 345.08 L175.64 344.12 L175.98 343.22 L176.34 342.36 L176.74 341.52 L177.16 340.7 L177.62 339.91 L178.09 339.15 L178.6 338.41 L179.13 337.68 L179.69 336.98 L180.27 336.28 L180.88 335.59 L181.51 334.87 L182.16 334.13 L182.84 333.37 L183.54 332.6 L184.26 331.81 L185 331.02 L185.77 330.23 L186.56 329.43 L187.37 328.61 L188.2 327.79 L189.05 326.97 L189.93 326.15 L190.82 325.34 L191.74 324.55 L192.67 323.76 L193.63 322.99 L194.6 322.21 L195.6 321.43 L196.61 320.62 L197.64 319.8 L198.7 318.95 L199.77 318.08 L200.86 317.19 L201.97 316.25 L203.1 315.28 L204.24 314.26 L205.41 313.19 L206.59 312.1 L207.79 310.96 L209.01 309.79 L210.25 308.6 L211.5 307.38 L212.78 306.15 L214.07 304.9 L215.37 303.61 L216.7 302.26 L218.04 300.88 L219.4 299.45 L220.78 297.97 L222.17 296.43 L223.58 294.8 L225.01 293.09 L226.45 291.3 L227.92 289.43 L229.39 287.48 L230.89 285.44 L232.4 283.32 L233.92 281.14 L235.47 278.89 L237.03 276.54 L238.6 274.08 L240.19 271.49 L241.8 268.75 L243.42 265.88 L245.06 262.88 L246.72 259.73 L248.39 256.42 L250.08 252.9 L251.78 249.11 L253.5 245.04 L255.23 240.74 L256.98 236.32 L258.74 231.82 L260.52 227.19 L262.32 222.42 L264.13 217.48 L265.95 212.32 L267.79 206.94 L269.65 201.25 L271.52 195.1 L273.4 188.06 L275.3 180.66" fill="none" stroke="#6f6f6f" stroke-width="4.2" stroke-linejoin="round" stroke-linecap="butt"/>
<path d="M153.5 357.3 L173.73 357.3 L173.77 354.23 L173.88 350.65 L174.04 348.47 L174.24 347.04 L174.47 345.89 L174.74 344.84 L175.05 343.88 L175.38 342.99 L175.75 342.14 L176.15 341.3 L176.58 340.5 L177.03 339.72 L177.51 338.97 L178.02 338.25 L178.56 337.54 L179.12 336.86 L179.7 336.19 L180.31 335.51 L180.94 334.82 L181.6 334.11 L182.28 333.38 L182.99 332.63 L183.71 331.87 L184.46 331.11 L185.24 330.34 L186.03 329.56 L186.84 328.78 L187.68 327.98 L188.54 327.18 L189.42 326.39 L190.32 325.6 L191.24 324.82 L192.18 324.05 L193.14 323.29 L194.12 322.53 L195.12 321.75 L196.14 320.96 L197.18 320.15 L198.24 319.32 L199.32 318.47 L200.41 317.59 L201.53 316.67 L202.66 315.7 L203.82 314.69 L204.99 313.64 L206.18 312.55 L207.39 311.42 L208.61 310.26 L209.86 309.07 L211.12 307.85 L212.4 306.62 L213.7 305.38 L215.02 304.1 L216.35 302.76 L217.7 301.39 L219.07 299.97 L220.45 298.5 L221.85 296.97 L223.27 295.36 L224.71 293.66 L226.16 291.89 L227.63 290.03 L229.12 288.09 L230.62 286.06 L232.14 283.95 L233.68 281.78 L235.23 279.54 L236.8 277.2 L238.38 274.75 L239.98 272.17 L241.6 269.44 L243.23 266.58 L244.88 263.59 L246.55 260.45 L248.23 257.14 L249.93 253.63 L251.64 249.83 L253.37 245.76 L255.11 241.45 L256.87 237.03 L258.64 232.53 L260.43 227.9 L262.24 223.12 L264.06 218.18 L265.89 213.01 L267.75 207.62 L269.61 201.92 L271.49 195.75 L273.39 188.68 L275.3 181.23" fill="none" stroke="#686868" stroke-width="4.2" stroke-linejoin="round" stroke-linecap="butt"/>
<path d="M153.5 357.3 L173.18 357.3 L173.23 354.16 L173.34 350.51 L173.5 348.29 L173.69 346.84 L173.93 345.68 L174.2 344.63 L174.51 343.67 L174.85 342.78 L175.22 341.94 L175.62 341.11 L176.05 340.31 L176.5 339.55 L176.99 338.81 L177.5 338.1 L178.04 337.41 L178.6 336.75 L179.19 336.1 L179.8 335.44 L180.44 334.78 L181.1 334.09 L181.78 333.38 L182.49 332.66 L183.22 331.93 L183.98 331.19 L184.75 330.44 L185.55 329.69 L186.37 328.92 L187.21 328.15 L188.07 327.37 L188.96 326.6 L189.86 325.82 L190.79 325.06 L191.73 324.3 L192.7 323.55 L193.68 322.8 L194.69 322.04 L195.72 321.26 L196.76 320.47 L197.82 319.65 L198.91 318.81 L200.01 317.93 L201.13 317.02 L202.27 316.07 L203.43 315.07 L204.61 314.02 L205.81 312.94 L207.02 311.81 L208.26 310.66 L209.51 309.47 L210.78 308.26 L212.06 307.03 L213.37 305.79 L214.69 304.52 L216.03 303.19 L217.39 301.83 L218.77 300.42 L220.16 298.97 L221.57 297.45 L222.99 295.84 L224.44 294.16 L225.9 292.39 L227.38 290.54 L228.87 288.61 L230.38 286.59 L231.91 284.49 L233.45 282.33 L235.01 280.1 L236.59 277.77 L238.18 275.33 L239.79 272.76 L241.42 270.04 L243.06 267.19 L244.72 264.2 L246.39 261.07 L248.08 257.76 L249.79 254.25 L251.51 250.46 L253.25 246.38 L255 242.07 L256.77 237.64 L258.55 233.14 L260.35 228.51 L262.17 223.73 L264 218.78 L265.84 213.6 L267.7 208.2 L269.58 202.49 L271.47 196.31 L273.38 189.21 L275.3 181.72" fill="none" stroke="#606060" stroke-width="4.2" stroke-linejoin="round" stroke-linecap="butt"/>
<path d="M153.5 357.3 L172.69 357.3 L172.74 354.1 L172.85 350.38 L173.01 348.13 L173.21 346.66 L173.44 345.49 L173.72 344.44 L174.03 343.48 L174.37 342.59 L174.74 341.75 L175.14 340.93 L175.57 340.15 L176.03 339.39 L176.52 338.67 L177.03 337.98 L177.57 337.3 L178.14 336.65 L178.73 336.02 L179.34 335.38 L179.98 334.74 L180.65 334.07 L181.34 333.38 L182.05 332.68 L182.78 331.97 L183.54 331.25 L184.32 330.53 L185.12 329.79 L185.94 329.05 L186.79 328.3 L187.65 327.54 L188.54 326.78 L189.45 326.02 L190.38 325.27 L191.33 324.53 L192.3 323.79 L193.29 323.05 L194.3 322.29 L195.33 321.53 L196.38 320.74 L197.45 319.93 L198.54 319.1 L199.65 318.24 L200.78 317.34 L201.92 316.39 L203.09 315.4 L204.27 314.36 L205.47 313.28 L206.7 312.16 L207.93 311 L209.19 309.82 L210.47 308.61 L211.76 307.38 L213.07 306.15 L214.4 304.88 L215.75 303.56 L217.11 302.21 L218.49 300.81 L219.89 299.36 L221.31 297.85 L222.74 296.25 L224.19 294.58 L225.66 292.82 L227.15 290.98 L228.65 289.05 L230.17 287.04 L231.7 284.95 L233.25 282.8 L234.82 280.58 L236.41 278.26 L238.01 275.83 L239.62 273.27 L241.26 270.55 L242.91 267.7 L244.57 264.72 L246.26 261.59 L247.95 258.29 L249.67 254.78 L251.4 250.99 L253.14 246.91 L254.9 242.6 L256.68 238.17 L258.47 233.66 L260.28 229.03 L262.11 224.24 L263.94 219.29 L265.8 214.11 L267.67 208.7 L269.55 202.99 L271.45 196.79 L273.37 189.66 L275.3 182.15" fill="none" stroke="#595959" stroke-width="4.2" stroke-linejoin="round" stroke-linecap="butt"/>
<path d="M153.5 357.3 L172.25 357.3 L172.3 354.04 L172.41 350.26 L172.57 347.98 L172.77 346.49 L173.01 345.32 L173.28 344.26 L173.59 343.3 L173.93 342.42 L174.3 341.59 L174.71 340.78 L175.14 340 L175.6 339.25 L176.09 338.54 L176.61 337.86 L177.15 337.2 L177.72 336.57 L178.31 335.95 L178.93 335.33 L179.57 334.7 L180.24 334.05 L180.93 333.38 L181.64 332.7 L182.38 332.01 L183.14 331.31 L183.93 330.61 L184.73 329.89 L185.56 329.16 L186.41 328.43 L187.28 327.69 L188.17 326.94 L189.08 326.2 L190.01 325.46 L190.97 324.72 L191.94 323.99 L192.94 323.26 L193.95 322.52 L194.99 321.76 L196.04 320.98 L197.12 320.18 L198.21 319.36 L199.32 318.5 L200.46 317.61 L201.61 316.67 L202.78 315.68 L203.97 314.65 L205.17 313.57 L206.4 312.45 L207.64 311.3 L208.91 310.12 L210.19 308.91 L211.49 307.69 L212.8 306.45 L214.14 305.18 L215.49 303.87 L216.86 302.53 L218.25 301.14 L219.65 299.7 L221.08 298.2 L222.52 296.6 L223.97 294.94 L225.45 293.19 L226.94 291.35 L228.45 289.44 L229.97 287.43 L231.51 285.35 L233.07 283.21 L234.65 280.99 L236.24 278.68 L237.85 276.25 L239.47 273.7 L241.11 270.99 L242.77 268.15 L244.44 265.17 L246.13 262.05 L247.84 258.75 L249.56 255.24 L251.29 251.45 L253.05 247.37 L254.82 243.05 L256.6 238.62 L258.4 234.11 L260.22 229.47 L262.05 224.69 L263.9 219.73 L265.76 214.55 L267.64 209.13 L269.53 203.41 L271.44 197.2 L273.36 190.05 L275.3 182.51" fill="none" stroke="#515151" stroke-width="4.2" stroke-linejoin="round" stroke-linecap="butt"/>
<path d="M153.5 357.3 L171.85 357.3 L171.9 353.99 L172.01 350.16 L172.17 347.85 L172.37 346.35 L172.61 345.17 L172.89 344.11 L173.2 343.15 L173.54 342.27 L173.91 341.44 L174.32 340.64 L174.75 339.86 L175.22 339.13 L175.71 338.43 L176.22 337.76 L176.77 337.11 L177.34 336.49 L177.93 335.88 L178.56 335.28 L179.2 334.67 L179.87 334.04 L180.57 333.39 L181.28 332.72 L182.02 332.05 L182.79 331.37 L183.57 330.68 L184.38 329.98 L185.21 329.26 L186.06 328.54 L186.94 327.82 L187.83 327.08 L188.75 326.35 L189.68 325.62 L190.64 324.89 L191.62 324.17 L192.62 323.45 L193.64 322.71 L194.68 321.96 L195.74 321.19 L196.81 320.4 L197.91 319.58 L199.03 318.73 L200.17 317.85 L201.32 316.91 L202.5 315.93 L203.69 314.9 L204.9 313.82 L206.13 312.71 L207.38 311.56 L208.65 310.38 L209.94 309.17 L211.24 307.95 L212.56 306.71 L213.9 305.45 L215.26 304.14 L216.64 302.8 L218.03 301.42 L219.44 299.99 L220.87 298.49 L222.31 296.91 L223.77 295.25 L225.25 293.5 L226.75 291.68 L228.27 289.76 L229.8 287.76 L231.34 285.69 L232.91 283.55 L234.49 281.34 L236.09 279.03 L237.7 276.62 L239.33 274.07 L240.98 271.36 L242.64 268.52 L244.32 265.55 L246.02 262.43 L247.73 259.14 L249.46 255.63 L251.2 251.84 L252.96 247.76 L254.74 243.44 L256.53 239 L258.34 234.49 L260.16 229.85 L262 225.06 L263.85 220.1 L265.72 214.92 L267.61 209.5 L269.51 203.77 L271.42 197.55 L273.35 190.38 L275.3 182.82" fill="none" stroke="#4a4a4a" stroke-width="4.2" stroke-linejoin="round" stroke-linecap="butt"/>
<path d="M153.5 357.3 L171.49 357.3 L171.54 353.95 L171.65 350.07 L171.81 347.73 L172.01 346.22 L172.25 345.03 L172.53 343.97 L172.84 343.01 L173.19 342.13 L173.56 341.31 L173.97 340.51 L174.4 339.74 L174.87 339.02 L175.36 338.33 L175.88 337.67 L176.43 337.03 L177 336.42 L177.6 335.83 L178.22 335.24 L178.87 334.64 L179.54 334.02 L180.24 333.39 L180.96 332.74 L181.7 332.08 L182.46 331.42 L183.25 330.74 L184.06 330.05 L184.9 329.35 L185.75 328.65 L186.63 327.93 L187.53 327.21 L188.45 326.49 L189.39 325.76 L190.35 325.05 L191.33 324.33 L192.33 323.61 L193.35 322.88 L194.4 322.13 L195.46 321.37 L196.54 320.59 L197.64 319.78 L198.76 318.93 L199.91 318.05 L201.07 317.12 L202.24 316.14 L203.44 315.11 L204.66 314.04 L205.89 312.93 L207.15 311.78 L208.42 310.6 L209.71 309.39 L211.02 308.17 L212.34 306.93 L213.69 305.67 L215.05 304.37 L216.43 303.04 L217.83 301.66 L219.24 300.24 L220.68 298.74 L222.13 297.16 L223.6 295.51 L225.08 293.77 L226.58 291.95 L228.1 290.04 L229.64 288.05 L231.19 285.98 L232.76 283.85 L234.35 281.64 L235.95 279.34 L237.57 276.93 L239.21 274.38 L240.86 271.68 L242.53 268.85 L244.21 265.88 L245.92 262.76 L247.63 259.47 L249.37 255.97 L251.12 252.17 L252.88 248.09 L254.67 243.77 L256.46 239.33 L258.28 234.82 L260.11 230.18 L261.95 225.39 L263.81 220.42 L265.69 215.24 L267.58 209.81 L269.49 204.08 L271.41 197.85 L273.35 190.66 L275.3 183.08" fill="none" stroke="#434343" stroke-width="4.2" stroke-linejoin="round" stroke-linecap="butt"/>
<path d="M153.5 357.3 L171.17 357.3 L171.22 353.91 L171.33 349.98 L171.49 347.62 L171.69 346.1 L171.93 344.91 L172.21 343.84 L172.52 342.88 L172.87 342.01 L173.24 341.19 L173.65 340.4 L174.09 339.64 L174.55 338.92 L175.05 338.23 L175.57 337.58 L176.12 336.96 L176.69 336.36 L177.29 335.78 L177.92 335.2 L178.57 334.61 L179.24 334.01 L179.94 333.39 L180.66 332.76 L181.41 332.11 L182.18 331.46 L182.97 330.79 L183.78 330.12 L184.62 329.43 L185.47 328.74 L186.35 328.03 L187.25 327.32 L188.18 326.61 L189.12 325.89 L190.08 325.18 L191.07 324.47 L192.07 323.75 L193.1 323.03 L194.14 322.29 L195.21 321.53 L196.3 320.75 L197.4 319.94 L198.53 319.11 L199.67 318.23 L200.83 317.3 L202.02 316.32 L203.22 315.3 L204.44 314.23 L205.68 313.12 L206.93 311.97 L208.21 310.79 L209.5 309.58 L210.82 308.36 L212.15 307.12 L213.5 305.86 L214.86 304.57 L216.25 303.24 L217.65 301.87 L219.07 300.44 L220.51 298.96 L221.96 297.38 L223.43 295.73 L224.92 294 L226.43 292.18 L227.95 290.28 L229.5 288.29 L231.05 286.22 L232.63 284.1 L234.22 281.89 L235.83 279.6 L237.45 277.19 L239.09 274.65 L240.75 271.95 L242.43 269.12 L244.12 266.16 L245.82 263.04 L247.55 259.75 L249.29 256.25 L251.04 252.46 L252.81 248.37 L254.6 244.05 L256.4 239.61 L258.22 235.09 L260.06 230.45 L261.91 225.66 L263.78 220.7 L265.66 215.51 L267.56 210.08 L269.47 204.34 L271.4 198.1 L273.34 190.9 L275.3 183.31" fill="none" stroke="#3b3b3b" stroke-width="4.2" stroke-linejoin="round" stroke-linecap="butt"/>
<path d="M153.5 357.3 L170.87 357.3 L170.92 353.87 L171.04 349.91 L171.2 347.52 L171.4 345.99 L171.64 344.8 L171.92 343.73 L172.23 342.77 L172.58 341.9 L172.96 341.08 L173.37 340.29 L173.81 339.54 L174.27 338.83 L174.77 338.15 L175.29 337.51 L175.84 336.89 L176.42 336.3 L177.02 335.73 L177.64 335.17 L178.3 334.59 L178.97 334 L179.67 333.39 L180.4 332.77 L181.14 332.14 L181.91 331.5 L182.71 330.84 L183.52 330.18 L184.36 329.5 L185.22 328.82 L186.1 328.12 L187.01 327.42 L187.93 326.71 L188.88 326 L189.84 325.3 L190.83 324.59 L191.84 323.88 L192.87 323.16 L193.92 322.42 L194.99 321.67 L196.07 320.89 L197.18 320.09 L198.31 319.26 L199.46 318.38 L200.62 317.46 L201.81 316.48 L203.02 315.46 L204.24 314.39 L205.48 313.28 L206.74 312.13 L208.02 310.95 L209.32 309.74 L210.64 308.52 L211.97 307.28 L213.32 306.02 L214.69 304.73 L216.08 303.41 L217.49 302.04 L218.91 300.62 L220.35 299.14 L221.81 297.57 L223.29 295.92 L224.78 294.19 L226.29 292.38 L227.82 290.48 L229.37 288.49 L230.93 286.43 L232.51 284.31 L234.1 282.11 L235.72 279.82 L237.35 277.41 L238.99 274.87 L240.65 272.18 L242.33 269.35 L244.03 266.39 L245.74 263.28 L247.47 259.99 L249.21 256.49 L250.97 252.7 L252.75 248.61 L254.54 244.29 L256.35 239.84 L258.18 235.33 L260.02 230.68 L261.87 225.89 L263.74 220.93 L265.63 215.73 L267.53 210.3 L269.45 204.56 L271.39 198.31 L273.34 191.11 L275.3 183.5" fill="none" stroke="#343434" stroke-width="4.2" stroke-linejoin="round" stroke-linecap="butt"/>
<path d="M153.5 357.3 L170.61 357.3 L170.66 353.84 L170.77 349.84 L170.93 347.44 L171.14 345.89 L171.38 344.7 L171.66 343.63 L171.97 342.67 L172.32 341.8 L172.7 340.99 L173.11 340.2 L173.55 339.45 L174.02 338.75 L174.51 338.08 L175.04 337.44 L175.59 336.83 L176.17 336.25 L176.77 335.69 L177.4 335.14 L178.05 334.57 L178.73 333.99 L179.43 333.39 L180.16 332.78 L180.91 332.16 L181.68 331.53 L182.47 330.89 L183.29 330.23 L184.13 329.56 L184.99 328.89 L185.88 328.2 L186.78 327.5 L187.71 326.8 L188.66 326.1 L189.63 325.4 L190.62 324.69 L191.63 323.99 L192.66 323.27 L193.71 322.54 L194.78 321.79 L195.88 321.02 L196.99 320.22 L198.12 319.39 L199.27 318.51 L200.44 317.59 L201.63 316.62 L202.83 315.59 L204.06 314.53 L205.31 313.41 L206.57 312.27 L207.85 311.08 L209.15 309.87 L210.47 308.65 L211.81 307.42 L213.17 306.16 L214.54 304.87 L215.93 303.55 L217.34 302.19 L218.77 300.77 L220.22 299.29 L221.68 297.72 L223.16 296.08 L224.66 294.35 L226.17 292.54 L227.7 290.65 L229.25 288.66 L230.82 286.6 L232.4 284.48 L234 282.29 L235.62 280 L237.25 277.6 L238.9 275.06 L240.57 272.37 L242.25 269.55 L243.95 266.59 L245.67 263.47 L247.4 260.19 L249.15 256.69 L250.91 252.9 L252.69 248.81 L254.49 244.49 L256.3 240.04 L258.13 235.53 L259.98 230.88 L261.84 226.09 L263.71 221.12 L265.61 215.92 L267.51 210.49 L269.44 204.74 L271.38 198.49 L273.33 191.28 L275.3 183.66" fill="none" stroke="#2c2c2c" stroke-width="4.2" stroke-linejoin="round" stroke-linecap="butt"/>
<path d="M153.5 357.3 L170.37 357.3 L170.42 353.81 L170.54 349.77 L170.7 347.36 L170.9 345.81 L171.14 344.61 L171.43 343.53 L171.74 342.58 L172.09 341.71 L172.47 340.9 L172.88 340.12 L173.32 339.38 L173.79 338.67 L174.29 338.01 L174.81 337.39 L175.36 336.78 L175.94 336.21 L176.55 335.66 L177.18 335.11 L177.83 334.55 L178.51 333.98 L179.21 333.39 L179.94 332.79 L180.69 332.18 L181.47 331.56 L182.26 330.92 L183.08 330.28 L183.93 329.62 L184.79 328.95 L185.68 328.27 L186.58 327.58 L187.51 326.88 L188.46 326.18 L189.44 325.49 L190.43 324.79 L191.44 324.08 L192.47 323.37 L193.53 322.64 L194.6 321.89 L195.7 321.12 L196.81 320.32 L197.94 319.5 L199.09 318.63 L200.27 317.71 L201.46 316.73 L202.67 315.71 L203.9 314.64 L205.15 313.53 L206.41 312.38 L207.7 311.2 L209 309.99 L210.33 308.76 L211.67 307.53 L213.03 306.27 L214.4 304.98 L215.8 303.67 L217.21 302.31 L218.64 300.89 L220.09 299.42 L221.56 297.85 L223.04 296.21 L224.54 294.49 L226.06 292.68 L227.59 290.79 L229.15 288.8 L230.72 286.75 L232.3 284.63 L233.91 282.44 L235.53 280.15 L237.16 277.75 L238.82 275.22 L240.49 272.53 L242.18 269.71 L243.88 266.75 L245.6 263.64 L247.34 260.36 L249.09 256.86 L250.86 253.06 L252.64 248.97 L254.44 244.65 L256.26 240.2 L258.09 235.69 L259.94 231.04 L261.81 226.25 L263.69 221.28 L265.58 216.08 L267.5 210.65 L269.42 204.9 L271.37 198.64 L273.33 191.42 L275.3 183.79" fill="none" stroke="#252525" stroke-width="4.2" stroke-linejoin="round" stroke-linecap="butt"/>
<path d="M153.5 357.3 L170.16 357.3 L170.21 353.78 L170.32 349.72 L170.48 347.29 L170.69 345.73 L170.93 344.53 L171.21 343.45 L171.53 342.49 L171.88 341.63 L172.26 340.82 L172.67 340.05 L173.11 339.31 L173.58 338.61 L174.08 337.95 L174.61 337.33 L175.16 336.73 L175.74 336.17 L176.35 335.63 L176.98 335.09 L177.63 334.54 L178.31 333.97 L179.02 333.39 L179.75 332.8 L180.5 332.2 L181.28 331.58 L182.07 330.96 L182.9 330.32 L183.74 329.67 L184.61 329 L185.49 328.33 L186.4 327.65 L187.33 326.95 L188.29 326.26 L189.26 325.56 L190.25 324.87 L191.27 324.16 L192.31 323.45 L193.36 322.72 L194.44 321.98 L195.53 321.21 L196.65 320.42 L197.78 319.59 L198.94 318.72 L200.11 317.8 L201.31 316.83 L202.52 315.81 L203.75 314.74 L205 313.63 L206.27 312.48 L207.56 311.29 L208.87 310.08 L210.19 308.86 L211.54 307.62 L212.9 306.36 L214.28 305.08 L215.68 303.76 L217.09 302.41 L218.53 301 L219.98 299.52 L221.45 297.96 L222.93 296.32 L224.44 294.6 L225.96 292.79 L227.5 290.9 L229.05 288.92 L230.63 286.87 L232.22 284.75 L233.82 282.56 L235.45 280.28 L237.09 277.88 L238.74 275.35 L240.42 272.66 L242.11 269.84 L243.82 266.88 L245.54 263.78 L247.28 260.49 L249.04 256.99 L250.81 253.2 L252.6 249.11 L254.4 244.79 L256.22 240.34 L258.06 235.82 L259.91 231.18 L261.78 226.38 L263.66 221.41 L265.56 216.21 L267.48 210.78 L269.41 205.02 L271.36 198.77 L273.32 191.54 L275.3 183.9" fill="none" stroke="#1e1e1e" stroke-width="4.2" stroke-linejoin="round" stroke-linecap="butt"/>
<path d="M153.5 357.3 L169.97 357.3 L170.02 353.76 L170.13 349.67 L170.29 347.22 L170.5 345.66 L170.74 344.45 L171.02 343.38 L171.34 342.42 L171.69 341.56 L172.07 340.75 L172.48 339.98 L172.92 339.24 L173.4 338.55 L173.89 337.9 L174.42 337.29 L174.98 336.69 L175.56 336.13 L176.16 335.6 L176.8 335.07 L177.45 334.52 L178.14 333.97 L178.84 333.39 L179.57 332.81 L180.33 332.21 L181.1 331.61 L181.9 330.99 L182.73 330.35 L183.57 329.71 L184.44 329.05 L185.33 328.38 L186.24 327.7 L187.17 327.01 L188.13 326.32 L189.1 325.63 L190.1 324.93 L191.12 324.23 L192.15 323.52 L193.21 322.8 L194.29 322.05 L195.39 321.29 L196.5 320.49 L197.64 319.67 L198.8 318.8 L199.98 317.88 L201.17 316.91 L202.39 315.89 L203.62 314.82 L204.87 313.71 L206.15 312.56 L207.44 311.37 L208.75 310.16 L210.07 308.93 L211.42 307.69 L212.78 306.44 L214.17 305.16 L215.57 303.84 L216.99 302.49 L218.42 301.08 L219.88 299.61 L221.35 298.05 L222.84 296.41 L224.34 294.69 L225.87 292.88 L227.41 290.99 L228.97 289.02 L230.54 286.97 L232.14 284.85 L233.75 282.66 L235.37 280.38 L237.02 277.99 L238.68 275.46 L240.35 272.77 L242.05 269.95 L243.76 266.99 L245.48 263.89 L247.23 260.6 L248.99 257.11 L250.76 253.31 L252.55 249.22 L254.36 244.9 L256.19 240.45 L258.03 235.93 L259.88 231.29 L261.75 226.49 L263.64 221.52 L265.55 216.32 L267.47 210.88 L269.4 205.13 L271.35 198.87 L273.32 191.63 L275.3 183.99" fill="none" stroke="#161616" stroke-width="4.2" stroke-linejoin="round" stroke-linecap="butt"/>
<path d="M153.5 357.3 L169.79 357.3 L169.84 353.74 L169.96 349.62 L170.12 347.16 L170.32 345.6 L170.57 344.39 L170.85 343.31 L171.17 342.35 L171.52 341.49 L171.9 340.69 L172.31 339.92 L172.76 339.19 L173.23 338.5 L173.73 337.85 L174.26 337.24 L174.81 336.66 L175.39 336.1 L176 335.57 L176.63 335.05 L177.29 334.51 L177.98 333.96 L178.68 333.39 L179.41 332.82 L180.17 332.23 L180.95 331.63 L181.75 331.01 L182.57 330.38 L183.42 329.74 L184.29 329.09 L185.18 328.42 L186.09 327.75 L187.03 327.06 L187.98 326.37 L188.96 325.68 L189.96 324.99 L190.98 324.29 L192.02 323.58 L193.08 322.86 L194.16 322.11 L195.26 321.35 L196.37 320.56 L197.51 319.73 L198.67 318.87 L199.85 317.95 L201.05 316.97 L202.27 315.95 L203.5 314.88 L204.76 313.77 L206.03 312.62 L207.33 311.43 L208.64 310.22 L209.97 308.99 L211.32 307.75 L212.68 306.5 L214.07 305.22 L215.47 303.9 L216.89 302.55 L218.33 301.14 L219.79 299.67 L221.26 298.11 L222.75 296.48 L224.26 294.76 L225.79 292.96 L227.33 291.07 L228.89 289.09 L230.47 287.04 L232.07 284.93 L233.68 282.74 L235.31 280.46 L236.95 278.07 L238.62 275.54 L240.3 272.85 L241.99 270.03 L243.71 267.08 L245.44 263.97 L247.18 260.69 L248.94 257.19 L250.72 253.4 L252.52 249.31 L254.33 244.98 L256.16 240.53 L258 236.02 L259.86 231.37 L261.73 226.57 L263.62 221.6 L265.53 216.4 L267.45 210.96 L269.39 205.21 L271.35 198.95 L273.31 191.7 L275.3 184.05" fill="none" stroke="#0f0f0f" stroke-width="4.2" stroke-linejoin="round" stroke-linecap="butt"/>
<path d="M153.5 357.3 L169.64 357.3 L169.69 353.72 L169.8 349.58 L169.96 347.11 L170.17 345.54 L170.41 344.33 L170.7 343.25 L171.01 342.29 L171.36 341.43 L171.75 340.63 L172.16 339.87 L172.6 339.14 L173.08 338.46 L173.58 337.81 L174.11 337.21 L174.66 336.62 L175.24 336.08 L175.85 335.55 L176.49 335.03 L177.15 334.5 L177.83 333.95 L178.54 333.4 L179.27 332.82 L180.03 332.24 L180.81 331.64 L181.61 331.03 L182.44 330.41 L183.28 329.77 L184.15 329.12 L185.05 328.46 L185.96 327.79 L186.9 327.11 L187.85 326.42 L188.83 325.73 L189.83 325.04 L190.85 324.34 L191.89 323.63 L192.95 322.91 L194.03 322.16 L195.14 321.4 L196.26 320.61 L197.4 319.78 L198.56 318.92 L199.74 318 L200.94 317.03 L202.16 316 L203.4 314.93 L204.65 313.82 L205.93 312.67 L207.22 311.48 L208.54 310.27 L209.87 309.04 L211.22 307.8 L212.59 306.54 L213.98 305.26 L215.38 303.95 L216.8 302.6 L218.24 301.19 L219.7 299.72 L221.18 298.16 L222.67 296.53 L224.18 294.81 L225.71 293.01 L227.26 291.12 L228.82 289.15 L230.4 287.1 L232 284.99 L233.62 282.8 L235.25 280.52 L236.9 278.13 L238.56 275.6 L240.24 272.92 L241.94 270.1 L243.66 267.14 L245.39 264.04 L247.14 260.76 L248.9 257.26 L250.69 253.47 L252.48 249.37 L254.3 245.05 L256.13 240.6 L257.97 236.08 L259.83 231.43 L261.71 226.64 L263.61 221.67 L265.52 216.46 L267.44 211.03 L269.38 205.27 L271.34 199 L273.31 191.76 L275.3 184.11" fill="none" stroke="#070707" stroke-width="4.2" stroke-linejoin="round" stroke-linecap="butt"/>
<path d="M153.5 357.3 L169.5 357.3 L169.55 353.7 L169.66 349.55 L169.82 347.07 L170.03 345.49 L170.27 344.28 L170.56 343.2 L170.87 342.24 L171.22 341.38 L171.61 340.59 L172.02 339.82 L172.47 339.1 L172.94 338.42 L173.44 337.78 L173.97 337.18 L174.53 336.6 L175.11 336.05 L175.72 335.53 L176.36 335.02 L177.02 334.49 L177.7 333.95 L178.41 333.4 L179.14 332.83 L179.9 332.25 L180.68 331.66 L181.49 331.05 L182.31 330.43 L183.16 329.8 L184.03 329.15 L184.93 328.49 L185.84 327.82 L186.78 327.14 L187.74 326.45 L188.72 325.76 L189.72 325.07 L190.74 324.37 L191.78 323.66 L192.84 322.94 L193.93 322.2 L195.03 321.43 L196.15 320.64 L197.29 319.82 L198.46 318.95 L199.64 318.03 L200.84 317.06 L202.06 316.03 L203.3 314.96 L204.56 313.85 L205.84 312.69 L207.13 311.51 L208.45 310.29 L209.78 309.06 L211.13 307.82 L212.51 306.56 L213.89 305.29 L215.3 303.98 L216.73 302.62 L218.17 301.22 L219.63 299.75 L221.11 298.19 L222.6 296.56 L224.12 294.84 L225.65 293.04 L227.2 291.15 L228.76 289.18 L230.34 287.13 L231.94 285.02 L233.56 282.83 L235.19 280.55 L236.85 278.16 L238.51 275.63 L240.2 272.95 L241.9 270.13 L243.62 267.18 L245.35 264.07 L247.1 260.79 L248.87 257.29 L250.65 253.5 L252.45 249.41 L254.27 245.08 L256.1 240.63 L257.95 236.12 L259.81 231.47 L261.69 226.67 L263.59 221.7 L265.5 216.5 L267.43 211.06 L269.37 205.3 L271.33 199.04 L273.31 191.79 L275.3 184.13" fill="none" stroke="#000000" stroke-width="4.2" stroke-linejoin="round" stroke-linecap="butt"/>
<line x1="147.4" y1="139.2" x2="147.4" y2="357.3" stroke="#000" stroke-width="3.33" stroke-linecap="square"/>
<line x1="147.4" y1="357.3" x2="281.1" y2="357.3" stroke="#000" stroke-width="3.33" stroke-linecap="square"/>
<line x1="147.4" y1="357.3" x2="161.98" y2="357.3" stroke="#000" stroke-width="3.33" stroke-linecap="butt"/>
<text transform="translate(117.48 367.2) scale(0.9960 1)" font-size="26.55">0</text>
<line x1="147.4" y1="276.2" x2="161.98" y2="276.2" stroke="#000" stroke-width="3.33" stroke-linecap="butt"/>
<text transform="translate(101.85 286.1) scale(1.0307 1)" font-size="26.55">50</text>
<line x1="147.4" y1="195.1" x2="161.98" y2="195.1" stroke="#000" stroke-width="3.33" stroke-linecap="butt"/>
<text transform="translate(85.76 205) scale(1.0493 1)" font-size="26.55">100</text>
<line x1="153.5" y1="357.3" x2="153.5" y2="342.72" stroke="#000" stroke-width="3.33" stroke-linecap="butt"/>
<text transform="translate(146.11 390.8) scale(0.9960 1)" font-size="26.55">0</text>
<line x1="275.3" y1="357.3" x2="275.3" y2="342.72" stroke="#000" stroke-width="3.33" stroke-linecap="butt"/>
<text transform="translate(268.21 390.8) scale(0.9472 1)" font-size="26.55">1</text>
<text transform="translate(123.85 434.6) scale(1.0780 1)" font-size="30.97">Current [nA]</text>
<text transform="translate(61.1 0) rotate(-90) translate(-358.98 0) scale(1.0455 1)" font-size="30.97">Frequency [Hz]</text>
<rect x="32.8" y="509.6" width="281.2" height="371.8" fill="none" stroke="#16899a" stroke-width="3.8"/>
<text transform="translate(116.67 550.6) scale(1.0092 1)" font-size="30.97">Model F</text>
<path d="M153.5 793.9 L217.67 793.9 L217.7 793.69 L217.76 793.21 L217.85 792.5 L217.96 791.59 L218.09 790.51 L218.25 789.28 L218.42 787.94 L218.61 786.52 L218.82 785.05 L219.05 783.55 L219.29 782.03 L219.55 780.47 L219.82 778.84 L220.11 777.16 L220.41 775.42 L220.73 773.63 L221.06 771.81 L221.41 769.96 L221.77 768.09 L222.14 766.23 L222.53 764.37 L222.93 762.54 L223.34 760.73 L223.76 758.92 L224.2 757.1 L224.65 755.26 L225.11 753.39 L225.59 751.48 L226.08 749.51 L226.57 747.48 L227.08 745.43 L227.61 743.37 L228.14 741.27 L228.69 739.13 L229.24 736.92 L229.81 734.62 L230.39 732.2 L230.98 729.63 L231.58 726.93 L232.19 724.15 L232.81 721.34 L233.45 718.56 L234.09 715.87 L234.74 713.27 L235.41 710.71 L236.08 708.19 L236.77 705.77 L237.47 703.44 L238.17 701.2 L238.89 699.03 L239.61 696.93 L240.35 694.91 L241.1 692.97 L241.85 691.12 L242.62 689.32 L243.4 687.61 L244.18 686.01 L244.98 684.46 L245.78 682.93 L246.6 681.38 L247.42 679.8 L248.26 678.15 L249.1 676.42 L249.95 674.59 L250.81 672.68 L251.68 670.72 L252.57 668.71 L253.46 666.66 L254.35 664.56 L255.26 662.43 L256.18 660.26 L257.11 658.05 L258.04 655.8 L258.99 653.51 L259.94 651.2 L260.9 648.87 L261.88 646.51 L262.86 644.11 L263.84 641.66 L264.84 639.13 L265.85 636.51 L266.87 633.77 L267.89 630.89 L268.92 627.78 L269.96 624.49 L271.01 621.05 L272.07 617.5 L273.14 613.84 L274.22 610.13 L275.3 606.58" fill="none" stroke="#bdbdbd" stroke-width="4.6" stroke-linejoin="round" stroke-linecap="butt"/>
<path d="M153.5 793.9 L218.03 793.9 L218.06 793.67 L218.12 793.15 L218.21 792.37 L218.32 791.38 L218.45 790.21 L218.6 788.9 L218.78 787.47 L218.97 785.98 L219.17 784.42 L219.4 782.83 L219.64 781.26 L219.89 779.65 L220.17 777.99 L220.45 776.26 L220.75 774.49 L221.07 772.66 L221.4 770.8 L221.74 768.91 L222.1 767 L222.47 765.08 L222.86 763.17 L223.25 761.28 L223.66 759.4 L224.09 757.52 L224.52 755.63 L224.97 753.73 L225.43 751.8 L225.9 749.83 L226.38 747.8 L226.88 745.72 L227.39 743.63 L227.9 741.54 L228.43 739.42 L228.98 737.28 L229.53 735.07 L230.09 732.79 L230.67 730.4 L231.25 727.87 L231.85 725.21 L232.46 722.48 L233.08 719.72 L233.71 716.99 L234.35 714.35 L235 711.8 L235.66 709.28 L236.33 706.81 L237.01 704.42 L237.7 702.13 L238.4 699.92 L239.12 697.78 L239.84 695.71 L240.57 693.71 L241.31 691.79 L242.06 689.95 L242.82 688.17 L243.59 686.46 L244.38 684.86 L245.17 683.31 L245.97 681.78 L246.78 680.23 L247.6 678.65 L248.42 677 L249.26 675.27 L250.11 673.45 L250.97 671.54 L251.83 669.59 L252.71 667.6 L253.59 665.56 L254.49 663.48 L255.39 661.36 L256.3 659.21 L257.22 657.01 L258.15 654.78 L259.09 652.51 L260.04 650.21 L260.99 647.88 L261.96 645.54 L262.93 643.15 L263.92 640.7 L264.91 638.18 L265.91 635.57 L266.92 632.84 L267.94 629.97 L268.96 626.88 L270 623.6 L271.04 620.17 L272.09 616.61 L273.15 612.95 L274.22 609.23 L275.3 605.67" fill="none" stroke="#b5b5b5" stroke-width="4.6" stroke-linejoin="round" stroke-linecap="butt"/>
<path d="M153.5 793.9 L218.39 793.9 L218.42 793.65 L218.48 793.08 L218.57 792.23 L218.68 791.17 L218.81 789.92 L218.96 788.52 L219.13 787 L219.32 785.43 L219.53 783.78 L219.75 782.12 L219.99 780.49 L220.24 778.84 L220.51 777.13 L220.8 775.37 L221.1 773.56 L221.41 771.7 L221.74 769.8 L222.08 767.86 L222.43 765.91 L222.8 763.94 L223.19 761.98 L223.58 760.02 L223.99 758.08 L224.41 756.13 L224.84 754.17 L225.28 752.2 L225.74 750.21 L226.21 748.17 L226.69 746.09 L227.18 743.95 L227.69 741.82 L228.2 739.7 L228.73 737.58 L229.27 735.43 L229.82 733.23 L230.38 730.96 L230.95 728.6 L231.53 726.1 L232.12 723.49 L232.73 720.81 L233.34 718.1 L233.97 715.42 L234.6 712.83 L235.25 710.33 L235.91 707.85 L236.57 705.42 L237.25 703.07 L237.94 700.82 L238.64 698.64 L239.34 696.53 L240.06 694.48 L240.79 692.51 L241.52 690.6 L242.27 688.78 L243.03 687.01 L243.79 685.31 L244.57 683.71 L245.36 682.16 L246.15 680.63 L246.96 679.08 L247.77 677.5 L248.59 675.85 L249.43 674.12 L250.27 672.3 L251.12 670.41 L251.98 668.47 L252.85 666.49 L253.73 664.46 L254.62 662.4 L255.51 660.3 L256.42 658.16 L257.33 655.98 L258.26 653.76 L259.19 651.5 L260.13 649.21 L261.08 646.9 L262.04 644.56 L263.01 642.18 L263.99 639.75 L264.97 637.23 L265.97 634.63 L266.97 631.91 L267.98 629.05 L269 625.98 L270.03 622.71 L271.07 619.29 L272.11 615.73 L273.17 612.06 L274.23 608.33 L275.3 604.75" fill="none" stroke="#adadad" stroke-width="4.6" stroke-linejoin="round" stroke-linecap="butt"/>
<path d="M153.5 793.9 L218.75 793.9 L218.78 793.63 L218.84 793.01 L218.92 792.1 L219.03 790.95 L219.17 789.63 L219.32 788.13 L219.49 786.53 L219.67 784.88 L219.88 783.14 L220.1 781.4 L220.34 779.71 L220.59 778.02 L220.86 776.28 L221.14 774.48 L221.44 772.63 L221.75 770.73 L222.08 768.79 L222.42 766.82 L222.77 764.81 L223.14 762.8 L223.51 760.78 L223.91 758.76 L224.31 756.75 L224.73 754.74 L225.16 752.71 L225.6 750.67 L226.05 748.62 L226.52 746.52 L227 744.37 L227.49 742.19 L227.99 740.02 L228.5 737.87 L229.02 735.73 L229.56 733.57 L230.1 731.38 L230.66 729.13 L231.23 726.79 L231.81 724.34 L232.4 721.77 L233 719.13 L233.61 716.48 L234.23 713.85 L234.86 711.31 L235.5 708.85 L236.16 706.42 L236.82 704.04 L237.49 701.73 L238.17 699.51 L238.87 697.36 L239.57 695.28 L240.28 693.26 L241.01 691.3 L241.74 689.42 L242.48 687.61 L243.23 685.85 L243.99 684.16 L244.76 682.57 L245.54 681.02 L246.33 679.48 L247.13 677.93 L247.94 676.34 L248.76 674.7 L249.59 672.97 L250.43 671.16 L251.27 669.28 L252.13 667.35 L252.99 665.38 L253.86 663.37 L254.75 661.32 L255.64 659.23 L256.54 657.11 L257.45 654.94 L258.37 652.74 L259.29 650.5 L260.23 648.22 L261.17 645.92 L262.13 643.59 L263.09 641.22 L264.06 638.79 L265.04 636.29 L266.03 633.69 L267.02 630.99 L268.03 628.14 L269.04 625.08 L270.06 621.83 L271.09 618.41 L272.13 614.85 L273.18 611.17 L274.24 607.42 L275.3 603.84" fill="none" stroke="#a5a5a5" stroke-width="4.6" stroke-linejoin="round" stroke-linecap="butt"/>
<path d="M153.5 793.9 L219.11 793.9 L219.14 793.61 L219.2 792.94 L219.28 791.96 L219.39 790.74 L219.52 789.33 L219.67 787.75 L219.84 786.06 L220.03 784.34 L220.23 782.51 L220.45 780.69 L220.69 778.94 L220.94 777.2 L221.2 775.42 L221.49 773.59 L221.78 771.7 L222.09 769.76 L222.42 767.78 L222.75 765.77 L223.1 763.72 L223.47 761.65 L223.84 759.58 L224.23 757.5 L224.64 755.43 L225.05 753.34 L225.48 751.25 L225.92 749.14 L226.37 747.03 L226.83 744.87 L227.3 742.66 L227.79 740.43 L228.29 738.22 L228.8 736.04 L229.32 733.88 L229.85 731.72 L230.39 729.54 L230.94 727.3 L231.51 724.99 L232.08 722.57 L232.67 720.05 L233.27 717.46 L233.87 714.86 L234.49 712.29 L235.12 709.79 L235.76 707.38 L236.4 704.99 L237.06 702.65 L237.73 700.38 L238.41 698.19 L239.1 696.09 L239.8 694.03 L240.51 692.03 L241.22 690.1 L241.95 688.24 L242.69 686.44 L243.44 684.7 L244.19 683.01 L244.96 681.42 L245.73 679.87 L246.52 678.33 L247.31 676.78 L248.12 675.19 L248.93 673.55 L249.75 671.82 L250.58 670.02 L251.42 668.14 L252.27 666.23 L253.13 664.27 L254 662.27 L254.88 660.24 L255.76 658.17 L256.66 656.06 L257.56 653.91 L258.47 651.72 L259.39 649.49 L260.32 647.23 L261.26 644.93 L262.21 642.61 L263.17 640.25 L264.13 637.83 L265.1 635.34 L266.09 632.76 L267.08 630.06 L268.07 627.22 L269.08 624.18 L270.1 620.94 L271.12 617.53 L272.15 613.96 L273.19 610.28 L274.24 606.52 L275.3 602.92" fill="none" stroke="#9d9d9d" stroke-width="4.6" stroke-linejoin="round" stroke-linecap="butt"/>
<path d="M153.5 793.9 L219.47 793.9 L219.5 793.59 L219.56 792.87 L219.64 791.83 L219.75 790.53 L219.88 789.04 L220.03 787.37 L220.2 785.59 L220.38 783.79 L220.58 781.87 L220.8 779.97 L221.04 778.17 L221.29 776.38 L221.55 774.57 L221.83 772.69 L222.12 770.77 L222.43 768.8 L222.75 766.78 L223.09 764.72 L223.44 762.63 L223.8 760.51 L224.17 758.38 L224.56 756.25 L224.96 754.1 L225.37 751.95 L225.8 749.78 L226.23 747.61 L226.68 745.43 L227.14 743.22 L227.61 740.95 L228.09 738.67 L228.59 736.41 L229.09 734.21 L229.61 732.04 L230.14 729.87 L230.68 727.69 L231.23 725.48 L231.79 723.19 L232.36 720.81 L232.94 718.33 L233.54 715.79 L234.14 713.24 L234.75 710.72 L235.38 708.27 L236.01 705.91 L236.65 703.56 L237.31 701.27 L237.97 699.04 L238.65 696.88 L239.33 694.81 L240.02 692.78 L240.73 690.81 L241.44 688.9 L242.16 687.05 L242.9 685.27 L243.64 683.54 L244.39 681.86 L245.15 680.27 L245.92 678.72 L246.7 677.18 L247.49 675.63 L248.29 674.04 L249.1 672.39 L249.92 670.68 L250.74 668.88 L251.58 667.01 L252.42 665.11 L253.27 663.16 L254.14 661.18 L255.01 659.16 L255.89 657.1 L256.78 655.01 L257.67 652.87 L258.58 650.7 L259.5 648.49 L260.42 646.23 L261.35 643.95 L262.29 641.64 L263.24 639.29 L264.2 636.88 L265.17 634.39 L266.14 631.82 L267.13 629.13 L268.12 626.31 L269.12 623.28 L270.13 620.05 L271.15 616.64 L272.17 613.08 L273.21 609.39 L274.25 605.61 L275.3 602.01" fill="none" stroke="#959595" stroke-width="4.6" stroke-linejoin="round" stroke-linecap="butt"/>
<path d="M153.5 793.9 L219.83 793.9 L219.86 793.57 L219.91 792.8 L220 791.69 L220.11 790.32 L220.24 788.75 L220.38 786.99 L220.55 785.13 L220.73 783.24 L220.94 781.23 L221.15 779.25 L221.39 777.4 L221.63 775.57 L221.9 773.71 L222.17 771.8 L222.47 769.84 L222.77 767.83 L223.09 765.77 L223.42 763.67 L223.77 761.53 L224.13 759.37 L224.5 757.18 L224.89 754.99 L225.28 752.78 L225.69 750.56 L226.11 748.32 L226.55 746.09 L226.99 743.84 L227.45 741.57 L227.92 739.24 L228.4 736.9 L228.89 734.61 L229.39 732.38 L229.91 730.19 L230.43 728.02 L230.97 725.84 L231.51 723.65 L232.07 721.39 L232.64 719.05 L233.22 716.61 L233.8 714.12 L234.4 711.62 L235.01 709.15 L235.63 706.75 L236.26 704.43 L236.9 702.13 L237.55 699.88 L238.21 697.69 L238.88 695.57 L239.56 693.53 L240.25 691.53 L240.95 689.58 L241.66 687.7 L242.38 685.87 L243.11 684.1 L243.84 682.38 L244.59 680.71 L245.35 679.13 L246.11 677.58 L246.89 676.03 L247.67 674.48 L248.47 672.89 L249.27 671.24 L250.08 669.53 L250.9 667.73 L251.73 665.88 L252.57 663.98 L253.42 662.05 L254.27 660.08 L255.14 658.08 L256.01 656.04 L256.9 653.96 L257.79 651.84 L258.69 649.68 L259.6 647.48 L260.52 645.24 L261.44 642.97 L262.38 640.67 L263.32 638.32 L264.27 635.92 L265.23 633.45 L266.2 630.88 L267.18 628.21 L268.17 625.39 L269.16 622.38 L270.16 619.17 L271.17 615.76 L272.19 612.2 L273.22 608.5 L274.26 604.71 L275.3 601.09" fill="none" stroke="#8e8e8e" stroke-width="4.6" stroke-linejoin="round" stroke-linecap="butt"/>
<path d="M153.5 793.9 L220.19 793.9 L220.21 793.54 L220.27 792.73 L220.36 791.56 L220.47 790.1 L220.59 788.46 L220.74 786.61 L220.91 784.66 L221.09 782.69 L221.29 780.6 L221.5 778.54 L221.74 776.63 L221.98 774.75 L222.24 772.85 L222.52 770.91 L222.81 768.91 L223.11 766.87 L223.43 764.77 L223.76 762.62 L224.11 760.44 L224.46 758.23 L224.83 755.99 L225.21 753.73 L225.61 751.45 L226.01 749.16 L226.43 746.86 L226.86 744.56 L227.31 742.25 L227.76 739.91 L228.23 737.53 L228.7 735.14 L229.19 732.81 L229.69 730.55 L230.2 728.34 L230.72 726.17 L231.25 724 L231.8 721.82 L232.35 719.59 L232.91 717.28 L233.49 714.89 L234.07 712.45 L234.67 710 L235.27 707.58 L235.89 705.24 L236.52 702.96 L237.15 700.71 L237.8 698.5 L238.45 696.35 L239.12 694.26 L239.79 692.25 L240.48 690.28 L241.17 688.36 L241.88 686.49 L242.59 684.69 L243.31 682.93 L244.05 681.22 L244.79 679.57 L245.54 677.98 L246.3 676.43 L247.07 674.89 L247.85 673.33 L248.64 671.74 L249.44 670.09 L250.24 668.38 L251.06 666.59 L251.88 664.75 L252.72 662.86 L253.56 660.94 L254.41 658.99 L255.27 657 L256.14 654.97 L257.02 652.91 L257.9 650.81 L258.8 648.66 L259.7 646.48 L260.61 644.25 L261.53 641.98 L262.46 639.69 L263.4 637.36 L264.35 634.96 L265.3 632.5 L266.26 629.94 L267.23 627.28 L268.21 624.48 L269.2 621.48 L270.2 618.28 L271.2 614.88 L272.21 611.32 L273.23 607.61 L274.26 603.81 L275.3 600.17" fill="none" stroke="#868686" stroke-width="4.6" stroke-linejoin="round" stroke-linecap="butt"/>
<path d="M153.5 793.9 L220.55 793.9 L220.57 793.52 L220.63 792.66 L220.72 791.42 L220.82 789.89 L220.95 788.16 L221.1 786.22 L221.26 784.19 L221.44 782.15 L221.64 779.96 L221.85 777.82 L222.08 775.85 L222.33 773.93 L222.59 772 L222.86 770.02 L223.15 767.99 L223.45 765.9 L223.77 763.76 L224.1 761.58 L224.44 759.35 L224.79 757.08 L225.16 754.79 L225.54 752.47 L225.93 750.13 L226.34 747.77 L226.75 745.4 L227.18 743.03 L227.62 740.66 L228.07 738.26 L228.53 735.82 L229.01 733.38 L229.49 731 L229.99 728.72 L230.49 726.5 L231.01 724.32 L231.54 722.15 L232.08 719.99 L232.63 717.79 L233.19 715.52 L233.76 713.17 L234.34 710.78 L234.93 708.38 L235.53 706.01 L236.15 703.72 L236.77 701.48 L237.4 699.28 L238.04 697.11 L238.69 695 L239.35 692.95 L240.03 690.97 L240.71 689.03 L241.4 687.13 L242.1 685.29 L242.8 683.5 L243.52 681.77 L244.25 680.07 L244.99 678.42 L245.73 676.83 L246.49 675.28 L247.26 673.74 L248.03 672.18 L248.81 670.58 L249.61 668.94 L250.41 667.23 L251.22 665.45 L252.04 663.61 L252.86 661.74 L253.7 659.83 L254.55 657.89 L255.4 655.92 L256.26 653.9 L257.14 651.86 L258.02 649.77 L258.9 647.64 L259.8 645.47 L260.71 643.25 L261.62 641 L262.55 638.72 L263.48 636.39 L264.42 634.01 L265.36 631.55 L266.32 629.01 L267.29 626.35 L268.26 623.56 L269.24 620.58 L270.23 617.39 L271.23 614 L272.23 610.43 L273.25 606.72 L274.27 602.9 L275.3 599.26" fill="none" stroke="#7e7e7e" stroke-width="4.6" stroke-linejoin="round" stroke-linecap="butt"/>
<path d="M153.5 793.9 L220.91 793.9 L220.93 793.5 L220.99 792.6 L221.08 791.29 L221.18 789.68 L221.31 787.87 L221.45 785.84 L221.62 783.72 L221.8 781.6 L221.99 779.32 L222.21 777.11 L222.43 775.08 L222.68 773.12 L222.94 771.14 L223.21 769.13 L223.49 767.06 L223.79 764.93 L224.11 762.75 L224.43 760.53 L224.77 758.25 L225.13 755.94 L225.49 753.59 L225.87 751.21 L226.26 748.8 L226.66 746.37 L227.07 743.94 L227.5 741.5 L227.93 739.07 L228.38 736.61 L228.84 734.11 L229.31 731.62 L229.79 729.2 L230.29 726.88 L230.79 724.65 L231.3 722.46 L231.83 720.31 L232.36 718.16 L232.91 715.99 L233.47 713.75 L234.03 711.45 L234.61 709.11 L235.2 706.76 L235.8 704.44 L236.4 702.2 L237.02 700.01 L237.65 697.85 L238.29 695.72 L238.93 693.65 L239.59 691.64 L240.26 689.69 L240.93 687.78 L241.62 685.91 L242.31 684.09 L243.02 682.32 L243.73 680.6 L244.46 678.91 L245.19 677.27 L245.93 675.69 L246.68 674.14 L247.44 672.59 L248.21 671.03 L248.99 669.43 L249.77 667.79 L250.57 666.08 L251.37 664.3 L252.19 662.48 L253.01 660.62 L253.84 658.72 L254.68 656.8 L255.53 654.84 L256.39 652.84 L257.25 650.81 L258.13 648.74 L259.01 646.62 L259.9 644.46 L260.8 642.26 L261.71 640.02 L262.63 637.74 L263.55 635.43 L264.49 633.05 L265.43 630.6 L266.38 628.07 L267.34 625.43 L268.31 622.65 L269.28 619.68 L270.26 616.51 L271.25 613.12 L272.25 609.55 L273.26 605.83 L274.28 602 L275.3 598.34" fill="none" stroke="#767676" stroke-width="4.6" stroke-linejoin="round" stroke-linecap="butt"/>
<path d="M153.5 793.9 L221.27 793.9 L221.29 793.48 L221.35 792.53 L221.43 791.15 L221.54 789.47 L221.66 787.58 L221.81 785.46 L221.97 783.25 L222.15 781.05 L222.35 778.69 L222.56 776.39 L222.78 774.31 L223.03 772.3 L223.28 770.29 L223.55 768.23 L223.84 766.13 L224.13 763.97 L224.45 761.75 L224.77 759.48 L225.11 757.16 L225.46 754.8 L225.82 752.39 L226.19 749.95 L226.58 747.47 L226.98 744.98 L227.39 742.47 L227.81 739.97 L228.25 737.48 L228.69 734.96 L229.15 732.4 L229.61 729.86 L230.09 727.4 L230.58 725.05 L231.08 722.8 L231.59 720.61 L232.12 718.46 L232.65 716.33 L233.19 714.19 L233.74 711.99 L234.31 709.73 L234.88 707.44 L235.46 705.14 L236.06 702.88 L236.66 700.68 L237.27 698.54 L237.9 696.42 L238.53 694.34 L239.17 692.31 L239.83 690.33 L240.49 688.41 L241.16 686.53 L241.84 684.69 L242.53 682.89 L243.23 681.13 L243.94 679.43 L244.66 677.75 L245.39 676.12 L246.12 674.54 L246.87 672.99 L247.62 671.44 L248.39 669.88 L249.16 668.28 L249.94 666.64 L250.73 664.93 L251.53 663.16 L252.34 661.35 L253.16 659.5 L253.98 657.61 L254.82 655.7 L255.66 653.76 L256.51 651.77 L257.37 649.76 L258.24 647.7 L259.12 645.6 L260.01 643.46 L260.9 641.27 L261.8 639.04 L262.71 636.77 L263.63 634.46 L264.56 632.09 L265.5 629.66 L266.44 627.13 L267.39 624.5 L268.35 621.73 L269.32 618.78 L270.3 615.62 L271.28 612.24 L272.27 608.67 L273.27 604.93 L274.28 601.09 L275.3 597.43" fill="none" stroke="#6e6e6e" stroke-width="4.6" stroke-linejoin="round" stroke-linecap="butt"/>
<path d="M153.5 793.9 L221.63 793.9 L221.65 793.46 L221.71 792.46 L221.79 791.02 L221.9 789.26 L222.02 787.29 L222.16 785.08 L222.33 782.78 L222.5 780.5 L222.7 778.05 L222.91 775.68 L223.13 773.54 L223.37 771.48 L223.63 769.43 L223.9 767.34 L224.18 765.2 L224.47 763 L224.78 760.74 L225.11 758.43 L225.44 756.07 L225.79 753.65 L226.15 751.19 L226.52 748.69 L226.91 746.15 L227.3 743.59 L227.71 741.01 L228.13 738.44 L228.56 735.89 L229 733.31 L229.45 730.69 L229.92 728.09 L230.39 725.59 L230.88 723.22 L231.38 720.95 L231.88 718.76 L232.4 716.62 L232.93 714.51 L233.47 712.39 L234.02 710.23 L234.58 708.01 L235.15 705.76 L235.73 703.52 L236.32 701.31 L236.92 699.16 L237.53 697.06 L238.15 694.99 L238.78 692.95 L239.41 690.96 L240.06 689.02 L240.72 687.13 L241.39 685.28 L242.06 683.46 L242.75 681.68 L243.44 679.95 L244.15 678.26 L244.86 676.6 L245.59 674.97 L246.32 673.39 L247.06 671.84 L247.81 670.29 L248.57 668.73 L249.33 667.13 L250.11 665.48 L250.9 663.78 L251.69 662.02 L252.49 660.21 L253.31 658.37 L254.13 656.51 L254.95 654.61 L255.79 652.67 L256.64 650.71 L257.49 648.71 L258.36 646.67 L259.23 644.58 L260.11 642.45 L261 640.27 L261.89 638.05 L262.8 635.8 L263.71 633.5 L264.63 631.14 L265.56 628.71 L266.5 626.19 L267.44 623.57 L268.4 620.82 L269.36 617.87 L270.33 614.73 L271.31 611.36 L272.29 607.79 L273.29 604.04 L274.29 600.19 L275.3 596.51" fill="none" stroke="#666666" stroke-width="4.6" stroke-linejoin="round" stroke-linecap="butt"/>
<path d="M153.5 793.9 L221.99 793.9 L222.01 793.44 L222.07 792.39 L222.15 790.88 L222.25 789.04 L222.38 786.99 L222.52 784.7 L222.68 782.31 L222.86 779.96 L223.05 777.41 L223.26 774.96 L223.48 772.76 L223.72 770.66 L223.97 768.58 L224.24 766.45 L224.52 764.27 L224.82 762.03 L225.12 759.74 L225.44 757.38 L225.78 754.97 L226.12 752.51 L226.48 749.99 L226.85 747.43 L227.23 744.82 L227.62 742.19 L228.03 739.55 L228.44 736.91 L228.87 734.3 L229.31 731.65 L229.76 728.98 L230.22 726.33 L230.69 723.79 L231.18 721.39 L231.67 719.11 L232.18 716.91 L232.69 714.77 L233.22 712.68 L233.75 710.59 L234.3 708.46 L234.85 706.29 L235.42 704.09 L235.99 701.9 L236.58 699.74 L237.18 697.64 L237.78 695.59 L238.4 693.56 L239.02 691.57 L239.65 689.62 L240.3 687.71 L240.95 685.85 L241.61 684.02 L242.29 682.24 L242.97 680.48 L243.66 678.77 L244.36 677.09 L245.07 675.44 L245.78 673.82 L246.51 672.25 L247.25 670.7 L247.99 669.14 L248.75 667.57 L249.51 665.97 L250.28 664.33 L251.06 662.63 L251.85 660.88 L252.65 659.08 L253.45 657.25 L254.27 655.4 L255.09 653.51 L255.92 651.59 L256.76 649.64 L257.61 647.66 L258.47 645.63 L259.34 643.57 L260.21 641.45 L261.09 639.28 L261.98 637.07 L262.88 634.82 L263.79 632.53 L264.7 630.18 L265.63 627.76 L266.56 625.25 L267.5 622.65 L268.44 619.9 L269.4 616.97 L270.36 613.85 L271.33 610.48 L272.31 606.9 L273.3 603.15 L274.3 599.29 L275.3 595.6" fill="none" stroke="#5e5e5e" stroke-width="4.6" stroke-linejoin="round" stroke-linecap="butt"/>
<path d="M153.5 793.9 L222.35 793.9 L222.37 793.42 L222.43 792.32 L222.51 790.75 L222.61 788.83 L222.74 786.7 L222.88 784.32 L223.04 781.84 L223.21 779.41 L223.4 776.78 L223.61 774.24 L223.83 771.99 L224.07 769.85 L224.32 767.72 L224.59 765.56 L224.86 763.34 L225.16 761.07 L225.46 758.73 L225.78 756.34 L226.11 753.88 L226.45 751.37 L226.81 748.8 L227.17 746.17 L227.55 743.5 L227.94 740.8 L228.35 738.09 L228.76 735.38 L229.19 732.71 L229.62 730 L230.07 727.27 L230.53 724.57 L231 721.99 L231.48 719.56 L231.97 717.26 L232.47 715.06 L232.98 712.93 L233.5 710.85 L234.03 708.79 L234.57 706.7 L235.13 704.57 L235.69 702.42 L236.26 700.28 L236.84 698.17 L237.43 696.12 L238.03 694.12 L238.64 692.14 L239.27 690.18 L239.9 688.27 L240.53 686.4 L241.18 684.57 L241.84 682.77 L242.51 681.01 L243.19 679.28 L243.87 677.58 L244.57 675.92 L245.27 674.28 L245.98 672.67 L246.71 671.1 L247.44 669.55 L248.18 667.99 L248.93 666.42 L249.68 664.82 L250.45 663.18 L251.22 661.48 L252.01 659.73 L252.8 657.95 L253.6 656.13 L254.41 654.29 L255.23 652.42 L256.05 650.51 L256.89 648.58 L257.73 646.61 L258.58 644.6 L259.44 642.55 L260.31 640.44 L261.19 638.28 L262.07 636.09 L262.96 633.85 L263.87 631.56 L264.77 629.22 L265.69 626.81 L266.62 624.32 L267.55 621.72 L268.49 618.99 L269.44 616.07 L270.4 612.96 L271.36 609.6 L272.33 606.02 L273.32 602.26 L274.3 598.38 L275.3 594.68" fill="none" stroke="#565656" stroke-width="4.6" stroke-linejoin="round" stroke-linecap="butt"/>
<path d="M153.5 793.9 L222.71 793.9 L222.73 793.4 L222.79 792.25 L222.87 790.61 L222.97 788.62 L223.09 786.41 L223.23 783.93 L223.39 781.37 L223.56 778.86 L223.76 776.14 L223.96 773.53 L224.18 771.22 L224.42 769.03 L224.67 766.87 L224.93 764.67 L225.21 762.41 L225.5 760.1 L225.8 757.72 L226.12 755.29 L226.44 752.79 L226.78 750.22 L227.14 747.6 L227.5 744.91 L227.88 742.17 L228.27 739.41 L228.67 736.62 L229.08 733.85 L229.5 731.11 L229.93 728.35 L230.38 725.55 L230.83 722.81 L231.3 720.18 L231.77 717.73 L232.26 715.41 L232.76 713.21 L233.27 711.08 L233.78 709.02 L234.31 706.99 L234.85 704.93 L235.4 702.85 L235.96 700.75 L236.52 698.66 L237.1 696.6 L237.69 694.6 L238.29 692.64 L238.89 690.71 L239.51 688.8 L240.14 686.93 L240.77 685.09 L241.42 683.29 L242.07 681.52 L242.73 679.79 L243.4 678.08 L244.09 676.4 L244.78 674.75 L245.47 673.12 L246.18 671.52 L246.9 669.96 L247.63 668.4 L248.36 666.85 L249.1 665.27 L249.86 663.67 L250.62 662.03 L251.39 660.33 L252.17 658.59 L252.95 656.81 L253.75 655.01 L254.55 653.18 L255.36 651.32 L256.18 649.43 L257.01 647.51 L257.85 645.56 L258.7 643.56 L259.55 641.53 L260.41 639.44 L261.28 637.29 L262.16 635.1 L263.05 632.87 L263.94 630.6 L264.85 628.27 L265.76 625.87 L266.68 623.38 L267.6 620.79 L268.54 618.07 L269.48 615.17 L270.43 612.07 L271.39 608.72 L272.35 605.14 L273.33 601.37 L274.31 597.48 L275.3 593.77" fill="none" stroke="#4f4f4f" stroke-width="4.6" stroke-linejoin="round" stroke-linecap="butt"/>
<path d="M153.5 793.9 L223.07 793.9 L223.09 793.38 L223.15 792.18 L223.23 790.48 L223.33 788.41 L223.45 786.11 L223.59 783.55 L223.75 780.9 L223.92 778.31 L224.11 775.5 L224.31 772.81 L224.53 770.45 L224.76 768.21 L225.01 766.01 L225.27 763.77 L225.55 761.48 L225.84 759.13 L226.14 756.72 L226.45 754.24 L226.78 751.69 L227.12 749.08 L227.47 746.4 L227.83 743.65 L228.2 740.85 L228.59 738.01 L228.98 735.16 L229.39 732.33 L229.81 729.52 L230.24 726.7 L230.68 723.84 L231.13 721.04 L231.6 718.38 L232.07 715.89 L232.55 713.57 L233.05 711.35 L233.55 709.24 L234.07 707.19 L234.59 705.19 L235.13 703.17 L235.67 701.13 L236.23 699.08 L236.79 697.04 L237.36 695.03 L237.95 693.08 L238.54 691.17 L239.14 689.28 L239.75 687.41 L240.38 685.58 L241.01 683.78 L241.65 682.01 L242.3 680.27 L242.95 678.56 L243.62 676.87 L244.3 675.22 L244.98 673.58 L245.68 671.97 L246.38 670.37 L247.09 668.81 L247.82 667.26 L248.55 665.7 L249.28 664.12 L250.03 662.52 L250.79 660.88 L251.55 659.18 L252.32 657.45 L253.11 655.68 L253.9 653.89 L254.69 652.07 L255.5 650.23 L256.32 648.35 L257.14 646.45 L257.97 644.51 L258.81 642.53 L259.66 640.51 L260.51 638.43 L261.38 636.3 L262.25 634.12 L263.13 631.9 L264.02 629.63 L264.92 627.31 L265.82 624.92 L266.73 622.44 L267.65 619.86 L268.58 617.16 L269.52 614.27 L270.46 611.19 L271.42 607.84 L272.37 604.25 L273.34 600.48 L274.32 596.57 L275.3 592.85" fill="none" stroke="#474747" stroke-width="4.6" stroke-linejoin="round" stroke-linecap="butt"/>
<path d="M153.5 793.9 L223.42 793.9 L223.45 793.36 L223.51 792.12 L223.58 790.34 L223.69 788.19 L223.81 785.82 L223.94 783.17 L224.1 780.43 L224.27 777.77 L224.46 774.87 L224.66 772.1 L224.88 769.68 L225.11 767.4 L225.36 765.15 L225.62 762.88 L225.89 760.55 L226.18 758.17 L226.48 755.71 L226.79 753.19 L227.11 750.6 L227.45 747.94 L227.8 745.2 L228.15 742.39 L228.53 739.52 L228.91 736.62 L229.3 733.7 L229.71 730.8 L230.12 727.93 L230.55 725.05 L230.99 722.13 L231.44 719.28 L231.9 716.58 L232.37 714.06 L232.85 711.72 L233.34 709.5 L233.84 707.39 L234.35 705.36 L234.87 703.39 L235.4 701.4 L235.94 699.41 L236.49 697.41 L237.05 695.42 L237.62 693.47 L238.2 691.56 L238.79 689.7 L239.39 687.85 L240 686.03 L240.62 684.23 L241.24 682.47 L241.88 680.73 L242.52 679.02 L243.18 677.34 L243.84 675.67 L244.51 674.03 L245.19 672.41 L245.88 670.81 L246.58 669.22 L247.29 667.66 L248 666.11 L248.73 664.55 L249.46 662.97 L250.2 661.37 L250.96 659.72 L251.71 658.04 L252.48 656.31 L253.26 654.55 L254.04 652.76 L254.84 650.96 L255.64 649.13 L256.45 647.27 L257.26 645.38 L258.09 643.46 L258.92 641.49 L259.77 639.49 L260.62 637.42 L261.47 635.3 L262.34 633.14 L263.22 630.93 L264.1 628.67 L264.99 626.35 L265.89 623.97 L266.79 621.5 L267.71 618.94 L268.63 616.24 L269.56 613.37 L270.5 610.3 L271.44 606.95 L272.39 603.37 L273.36 599.59 L274.32 595.67 L275.3 591.94" fill="none" stroke="#3f3f3f" stroke-width="4.6" stroke-linejoin="round" stroke-linecap="butt"/>
<path d="M153.5 793.9 L223.78 793.9 L223.81 793.34 L223.86 792.05 L223.94 790.21 L224.04 787.98 L224.16 785.53 L224.3 782.79 L224.45 779.96 L224.63 777.22 L224.81 774.23 L225.01 771.38 L225.23 768.9 L225.46 766.58 L225.71 764.3 L225.96 761.99 L226.23 759.63 L226.52 757.2 L226.81 754.71 L227.12 752.14 L227.45 749.51 L227.78 746.8 L228.12 744 L228.48 741.13 L228.85 738.2 L229.23 735.23 L229.62 732.24 L230.02 729.27 L230.44 726.34 L230.86 723.39 L231.3 720.42 L231.74 717.52 L232.2 714.77 L232.67 712.23 L233.14 709.87 L233.63 707.65 L234.13 705.55 L234.63 703.53 L235.15 701.59 L235.68 699.64 L236.22 697.69 L236.76 695.74 L237.32 693.8 L237.89 691.9 L238.46 690.04 L239.05 688.22 L239.64 686.42 L240.24 684.64 L240.86 682.89 L241.48 681.16 L242.11 679.46 L242.75 677.77 L243.4 676.11 L244.06 674.47 L244.73 672.85 L245.4 671.25 L246.09 669.65 L246.78 668.07 L247.48 666.52 L248.19 664.96 L248.91 663.4 L249.64 661.82 L250.38 660.21 L251.12 658.57 L251.88 656.89 L252.64 655.16 L253.41 653.41 L254.19 651.64 L254.98 649.85 L255.77 648.03 L256.58 646.19 L257.39 644.32 L258.21 642.41 L259.04 640.46 L259.87 638.47 L260.72 636.42 L261.57 634.31 L262.43 632.15 L263.3 629.95 L264.18 627.7 L265.06 625.4 L265.95 623.02 L266.85 620.57 L267.76 618.01 L268.68 615.33 L269.6 612.47 L270.53 609.41 L271.47 606.07 L272.41 602.49 L273.37 598.7 L274.33 594.77 L275.3 591.02" fill="none" stroke="#373737" stroke-width="4.6" stroke-linejoin="round" stroke-linecap="butt"/>
<path d="M153.5 793.9 L224.14 793.9 L224.17 793.32 L224.22 791.98 L224.3 790.07 L224.4 787.77 L224.52 785.24 L224.66 782.41 L224.81 779.49 L224.98 776.67 L225.16 773.59 L225.36 770.67 L225.58 768.13 L225.81 765.76 L226.05 763.44 L226.31 761.1 L226.58 758.7 L226.86 756.23 L227.15 753.7 L227.46 751.1 L227.78 748.41 L228.11 745.65 L228.45 742.8 L228.81 739.87 L229.17 736.87 L229.55 733.83 L229.94 730.77 L230.34 727.74 L230.75 724.75 L231.17 721.74 L231.6 718.71 L232.05 715.76 L232.5 712.97 L232.96 710.4 L233.44 708.03 L233.92 705.8 L234.41 703.7 L234.92 701.71 L235.43 699.78 L235.96 697.88 L236.49 695.97 L237.03 694.06 L237.58 692.18 L238.15 690.33 L238.72 688.52 L239.3 686.75 L239.89 684.99 L240.49 683.26 L241.1 681.54 L241.71 679.85 L242.34 678.18 L242.98 676.52 L243.62 674.89 L244.28 673.27 L244.94 671.66 L245.61 670.08 L246.29 668.5 L246.98 666.92 L247.68 665.37 L248.38 663.82 L249.1 662.25 L249.82 660.67 L250.55 659.06 L251.29 657.42 L252.04 655.74 L252.8 654.02 L253.56 652.28 L254.34 650.52 L255.12 648.74 L255.91 646.94 L256.71 645.11 L257.51 643.25 L258.33 641.36 L259.15 639.42 L259.98 637.45 L260.82 635.41 L261.67 633.32 L262.52 631.17 L263.38 628.98 L264.25 626.74 L265.13 624.44 L266.02 622.08 L266.91 619.63 L267.81 617.08 L268.72 614.41 L269.64 611.57 L270.56 608.53 L271.5 605.19 L272.44 601.61 L273.38 597.81 L274.34 593.86 L275.3 590.11" fill="none" stroke="#2f2f2f" stroke-width="4.6" stroke-linejoin="round" stroke-linecap="butt"/>
<path d="M153.5 793.9 L224.5 793.9 L224.53 793.3 L224.58 791.91 L224.66 789.94 L224.76 787.56 L224.88 784.94 L225.01 782.02 L225.16 779.02 L225.33 776.12 L225.52 772.96 L225.72 769.95 L225.93 767.36 L226.16 764.94 L226.4 762.59 L226.65 760.2 L226.92 757.77 L227.2 755.27 L227.49 752.69 L227.8 750.05 L228.11 747.32 L228.44 744.51 L228.78 741.61 L229.14 738.61 L229.5 735.55 L229.87 732.44 L230.26 729.31 L230.66 726.21 L231.06 723.16 L231.48 720.09 L231.91 717 L232.35 713.99 L232.8 711.17 L233.26 708.57 L233.73 706.18 L234.21 703.95 L234.7 701.86 L235.2 699.88 L235.71 697.98 L236.23 696.11 L236.76 694.25 L237.3 692.39 L237.85 690.56 L238.41 688.76 L238.98 687 L239.55 685.27 L240.14 683.56 L240.73 681.87 L241.34 680.2 L241.95 678.54 L242.57 676.9 L243.2 675.27 L243.85 673.66 L244.49 672.07 L245.15 670.48 L245.82 668.91 L246.49 667.34 L247.18 665.77 L247.87 664.22 L248.57 662.67 L249.28 661.1 L250 659.52 L250.73 657.91 L251.46 656.27 L252.2 654.59 L252.96 652.88 L253.72 651.15 L254.48 649.4 L255.26 647.63 L256.05 645.84 L256.84 644.03 L257.64 642.19 L258.45 640.31 L259.26 638.39 L260.09 636.43 L260.92 634.41 L261.76 632.32 L262.61 630.19 L263.47 628 L264.33 625.77 L265.2 623.48 L266.08 621.13 L266.97 618.69 L267.87 616.16 L268.77 613.5 L269.68 610.67 L270.6 607.64 L271.52 604.31 L272.46 600.72 L273.4 596.92 L274.34 592.96 L275.3 589.19" fill="none" stroke="#272727" stroke-width="4.6" stroke-linejoin="round" stroke-linecap="butt"/>
<path d="M153.5 793.9 L224.86 793.9 L224.89 793.28 L224.94 791.84 L225.02 789.8 L225.12 787.35 L225.23 784.65 L225.37 781.64 L225.52 778.55 L225.69 775.58 L225.87 772.32 L226.07 769.23 L226.28 766.59 L226.5 764.13 L226.74 761.73 L227 759.31 L227.26 756.84 L227.54 754.3 L227.83 751.69 L228.13 749 L228.45 746.23 L228.77 743.37 L229.11 740.41 L229.46 737.35 L229.82 734.22 L230.2 731.04 L230.58 727.85 L230.97 724.68 L231.38 721.57 L231.79 718.44 L232.22 715.29 L232.66 712.23 L233.1 709.36 L233.56 706.74 L234.03 704.33 L234.5 702.1 L234.99 700.01 L235.49 698.05 L235.99 696.18 L236.51 694.35 L237.03 692.53 L237.57 690.72 L238.11 688.94 L238.67 687.19 L239.23 685.48 L239.81 683.8 L240.39 682.14 L240.98 680.49 L241.58 678.85 L242.19 677.23 L242.81 675.62 L243.43 674.02 L244.07 672.44 L244.71 670.86 L245.37 669.3 L246.03 667.74 L246.7 666.18 L247.38 664.63 L248.07 663.08 L248.76 661.52 L249.47 659.95 L250.18 658.37 L250.9 656.76 L251.63 655.12 L252.37 653.44 L253.11 651.73 L253.87 650.01 L254.63 648.28 L255.4 646.52 L256.18 644.75 L256.97 642.95 L257.76 641.12 L258.57 639.26 L259.38 637.36 L260.2 635.41 L261.02 633.4 L261.86 631.33 L262.7 629.2 L263.55 627.03 L264.41 624.81 L265.27 622.53 L266.15 620.18 L267.03 617.75 L267.92 615.23 L268.81 612.58 L269.72 609.77 L270.63 606.75 L271.55 603.43 L272.48 599.84 L273.41 596.02 L274.35 592.05 L275.3 588.28" fill="none" stroke="#1f1f1f" stroke-width="4.6" stroke-linejoin="round" stroke-linecap="butt"/>
<path d="M153.5 793.9 L225.22 793.9 L225.25 793.26 L225.3 791.77 L225.38 789.67 L225.47 787.13 L225.59 784.36 L225.72 781.26 L225.87 778.08 L226.04 775.03 L226.22 771.69 L226.42 768.52 L226.63 765.82 L226.85 763.31 L227.09 760.88 L227.34 758.42 L227.6 755.91 L227.88 753.33 L228.17 750.68 L228.47 747.95 L228.78 745.13 L229.11 742.22 L229.44 739.21 L229.79 736.09 L230.15 732.9 L230.52 729.65 L230.9 726.39 L231.29 723.15 L231.69 719.98 L232.1 716.79 L232.53 713.58 L232.96 710.47 L233.4 707.56 L233.86 704.91 L234.32 702.48 L234.79 700.25 L235.28 698.17 L235.77 696.22 L236.27 694.38 L236.79 692.58 L237.31 690.81 L237.84 689.05 L238.38 687.32 L238.93 685.62 L239.49 683.96 L240.06 682.33 L240.64 680.71 L241.22 679.1 L241.82 677.5 L242.42 675.92 L243.04 674.34 L243.66 672.77 L244.29 671.21 L244.93 669.66 L245.58 668.11 L246.24 666.57 L246.9 665.02 L247.58 663.48 L248.26 661.93 L248.95 660.37 L249.65 658.81 L250.36 657.22 L251.07 655.61 L251.8 653.96 L252.53 652.29 L253.27 650.59 L254.02 648.88 L254.78 647.15 L255.54 645.41 L256.32 643.65 L257.1 641.87 L257.89 640.05 L258.69 638.21 L259.49 636.32 L260.3 634.39 L261.13 632.4 L261.95 630.34 L262.79 628.22 L263.63 626.06 L264.49 623.84 L265.35 621.57 L266.21 619.23 L267.09 616.82 L267.97 614.3 L268.86 611.66 L269.76 608.87 L270.66 605.87 L271.58 602.55 L272.5 598.96 L273.42 595.13 L274.36 591.15 L275.3 587.36" fill="none" stroke="#181818" stroke-width="4.6" stroke-linejoin="round" stroke-linecap="butt"/>
<path d="M153.5 793.9 L225.58 793.9 L225.61 793.23 L225.66 791.7 L225.74 789.53 L225.83 786.92 L225.95 784.06 L226.08 780.88 L226.23 777.61 L226.39 774.48 L226.57 771.05 L226.77 767.8 L226.98 765.04 L227.2 762.49 L227.44 760.02 L227.68 757.53 L227.95 754.98 L228.22 752.37 L228.51 749.68 L228.81 746.9 L229.12 744.04 L229.44 741.08 L229.77 738.01 L230.12 734.83 L230.47 731.57 L230.84 728.26 L231.22 724.92 L231.6 721.62 L232 718.38 L232.41 715.13 L232.83 711.87 L233.26 708.71 L233.7 705.76 L234.15 703.07 L234.61 700.64 L235.08 698.39 L235.56 696.32 L236.05 694.39 L236.55 692.58 L237.06 690.82 L237.58 689.09 L238.11 687.38 L238.65 685.7 L239.19 684.06 L239.75 682.44 L240.31 680.85 L240.88 679.28 L241.47 677.72 L242.06 676.16 L242.66 674.61 L243.27 673.06 L243.89 671.52 L244.51 669.99 L245.15 668.46 L245.79 666.93 L246.44 665.4 L247.11 663.87 L247.78 662.33 L248.45 660.78 L249.14 659.23 L249.83 657.66 L250.54 656.07 L251.25 654.45 L251.97 652.81 L252.7 651.14 L253.43 649.45 L254.17 647.75 L254.93 646.03 L255.69 644.3 L256.45 642.56 L257.23 640.79 L258.01 638.99 L258.81 637.16 L259.6 635.29 L260.41 633.37 L261.23 631.39 L262.05 629.34 L262.88 627.24 L263.72 625.08 L264.56 622.88 L265.42 620.62 L266.28 618.29 L267.15 615.88 L268.02 613.38 L268.91 610.75 L269.8 607.97 L270.7 604.98 L271.6 601.67 L272.52 598.07 L273.44 594.24 L274.36 590.25 L275.3 586.44" fill="none" stroke="#101010" stroke-width="4.6" stroke-linejoin="round" stroke-linecap="butt"/>
<path d="M153.5 793.9 L225.94 793.9 L225.97 793.21 L226.02 791.64 L226.09 789.4 L226.19 786.71 L226.3 783.77 L226.44 780.5 L226.58 777.14 L226.75 773.94 L226.93 770.41 L227.12 767.09 L227.33 764.27 L227.55 761.68 L227.78 759.17 L228.03 756.64 L228.29 754.05 L228.56 751.4 L228.85 748.67 L229.14 745.86 L229.45 742.95 L229.77 739.94 L230.1 736.81 L230.44 733.57 L230.8 730.25 L231.16 726.86 L231.53 723.46 L231.92 720.1 L232.32 716.79 L232.72 713.48 L233.14 710.16 L233.57 706.94 L234 703.95 L234.45 701.24 L234.91 698.79 L235.38 696.54 L235.85 694.48 L236.34 692.56 L236.83 690.78 L237.34 689.06 L237.85 687.37 L238.38 685.71 L238.91 684.08 L239.45 682.49 L240 680.92 L240.56 679.38 L241.13 677.85 L241.71 676.33 L242.3 674.81 L242.9 673.3 L243.5 671.78 L244.11 670.26 L244.74 668.76 L245.37 667.26 L246.01 665.75 L246.65 664.23 L247.31 662.71 L247.97 661.18 L248.65 659.64 L249.33 658.08 L250.02 656.51 L250.72 654.92 L251.42 653.3 L252.14 651.66 L252.86 649.99 L253.59 648.31 L254.33 646.61 L255.07 644.91 L255.83 643.2 L256.59 641.46 L257.36 639.71 L258.14 637.92 L258.92 636.11 L259.72 634.25 L260.52 632.35 L261.33 630.38 L262.15 628.35 L262.97 626.25 L263.8 624.11 L264.64 621.91 L265.49 619.66 L266.34 617.34 L267.21 614.94 L268.08 612.45 L268.95 609.83 L269.84 607.07 L270.73 604.09 L271.63 600.79 L272.54 597.19 L273.45 593.35 L274.37 589.34 L275.3 585.53" fill="none" stroke="#080808" stroke-width="4.6" stroke-linejoin="round" stroke-linecap="butt"/>
<path d="M153.5 793.9 L226.3 793.9 L226.32 793.19 L226.38 791.57 L226.45 789.26 L226.55 786.5 L226.66 783.48 L226.79 780.11 L226.94 776.67 L227.1 773.39 L227.28 769.78 L227.47 766.37 L227.68 763.5 L227.9 760.86 L228.13 758.31 L228.37 755.74 L228.63 753.12 L228.9 750.44 L229.18 747.67 L229.48 744.81 L229.78 741.85 L230.1 738.79 L230.43 735.61 L230.77 732.31 L231.12 728.92 L231.48 725.47 L231.85 722 L232.24 718.57 L232.63 715.2 L233.03 711.83 L233.45 708.45 L233.87 705.18 L234.31 702.15 L234.75 699.41 L235.2 696.94 L235.67 694.69 L236.14 692.63 L236.62 690.74 L237.11 688.98 L237.62 687.29 L238.13 685.65 L238.65 684.04 L239.18 682.46 L239.71 680.92 L240.26 679.4 L240.82 677.91 L241.38 676.42 L241.96 674.94 L242.54 673.47 L243.13 671.99 L243.73 670.5 L244.34 669.01 L244.96 667.54 L245.58 666.05 L246.22 664.56 L246.86 663.06 L247.51 661.55 L248.17 660.03 L248.84 658.49 L249.52 656.93 L250.2 655.36 L250.9 653.77 L251.6 652.15 L252.31 650.51 L253.02 648.84 L253.75 647.16 L254.48 645.48 L255.22 643.79 L255.97 642.09 L256.73 640.37 L257.49 638.63 L258.26 636.86 L259.04 635.06 L259.83 633.22 L260.63 631.33 L261.43 629.38 L262.24 627.36 L263.06 625.27 L263.89 623.13 L264.72 620.95 L265.56 618.7 L266.41 616.39 L267.26 614 L268.13 611.52 L269 608.92 L269.88 606.17 L270.76 603.21 L271.66 599.91 L272.56 596.31 L273.46 592.46 L274.38 588.44 L275.3 584.61" fill="none" stroke="#000000" stroke-width="4.6" stroke-linejoin="round" stroke-linecap="butt"/>
<path d="M153.5 793.9 L226.3 793.9 L226.32 793.19 L226.38 791.57 L226.45 789.26 L226.55 786.5 L226.66 783.48 L226.79 780.11 L226.94 776.67 L227.1 773.39 L227.28 769.78 L227.47 766.37 L227.68 763.5 L227.9 760.86 L228.13 758.31 L228.37 755.74 L228.63 753.12 L228.9 750.44 L229.18 747.67 L229.48 744.81 L229.78 741.85 L230.1 738.79 L230.43 735.61 L230.77 732.31 L231.12 728.92 L231.48 725.47 L231.85 722 L232.24 718.57 L232.63 715.2 L233.03 711.83 L233.45 708.45 L233.87 705.18 L234.31 702.15 L234.75 699.41 L235.2 696.94 L235.67 694.69 L236.14 692.63 L236.62 690.74 L237.11 688.98 L237.62 687.29 L238.13 685.65 L238.65 684.04 L239.18 682.46 L239.71 680.92 L240.26 679.4 L240.82 677.91 L241.38 676.42 L241.96 674.94 L242.54 673.47 L243.13 671.99 L243.73 670.5 L244.34 669.01 L244.96 667.54 L245.58 666.05 L246.22 664.56 L246.86 663.06 L247.51 661.55 L248.17 660.03 L248.84 658.49 L249.52 656.93 L250.2 655.36 L250.9 653.77 L251.6 652.15 L252.31 650.51 L253.02 648.84 L253.75 647.16 L254.48 645.48 L255.22 643.79 L255.97 642.09 L256.73 640.37 L257.49 638.63 L258.26 636.86 L259.04 635.06 L259.83 633.22 L260.63 631.33 L261.43 629.38 L262.24 627.36 L263.06 625.27 L263.89 623.13 L264.72 620.95 L265.56 618.7 L266.41 616.39 L267.26 614 L268.13 611.52 L269 608.92 L269.88 606.17 L270.76 603.21 L271.66 599.91 L272.56 596.31 L273.46 592.46 L274.38 588.44 L275.3 584.61" fill="none" stroke="#000" stroke-width="4.6" stroke-linejoin="round" stroke-linecap="butt"/>
<line x1="147.4" y1="575.8" x2="147.4" y2="793.9" stroke="#000" stroke-width="3.33" stroke-linecap="square"/>
<line x1="147.4" y1="793.9" x2="281.1" y2="793.9" stroke="#000" stroke-width="3.33" stroke-linecap="square"/>
<line x1="147.4" y1="793.9" x2="161.98" y2="793.9" stroke="#000" stroke-width="3.33" stroke-linecap="butt"/>
<text transform="translate(117.48 803.8) scale(0.9960 1)" font-size="26.55">0</text>
<line x1="147.4" y1="707.1" x2="161.98" y2="707.1" stroke="#000" stroke-width="3.33" stroke-linecap="butt"/>
<text transform="translate(101.43 717) scale(1.0454 1)" font-size="26.55">20</text>
<line x1="147.4" y1="620.3" x2="161.98" y2="620.3" stroke="#000" stroke-width="3.33" stroke-linecap="butt"/>
<text transform="translate(101.64 630.2) scale(1.0382 1)" font-size="26.55">40</text>
<line x1="153.5" y1="793.9" x2="153.5" y2="779.32" stroke="#000" stroke-width="3.33" stroke-linecap="butt"/>
<text transform="translate(146.11 827.4) scale(0.9960 1)" font-size="26.55">0</text>
<line x1="275.3" y1="793.9" x2="275.3" y2="779.32" stroke="#000" stroke-width="3.33" stroke-linecap="butt"/>
<text transform="translate(268.21 827.4) scale(0.9472 1)" font-size="26.55">1</text>
<text transform="translate(123.85 871.2) scale(1.0780 1)" font-size="30.97">Current [nA]</text>
<text transform="translate(76.9 0) rotate(-90) translate(-795.58 0) scale(1.0455 1)" font-size="30.97">Frequency [Hz]</text>
<rect x="32.8" y="946.2" width="281.2" height="371.8" fill="none" stroke="#42a888" stroke-width="3.8"/>
<text transform="translate(114.3 987.2) scale(1.0398 1)" font-size="30.97">Model A</text>
<path d="M153.5 1230.5 L170.6 1230.5 L170.65 1230.19 L170.76 1229.47 L170.92 1228.41 L171.12 1227.08 L171.37 1225.54 L171.65 1223.89 L171.96 1222.21 L172.31 1220.65 L172.69 1219.21 L173.1 1217.84 L173.54 1216.48 L174 1215.03 L174.5 1213.46 L175.03 1211.73 L175.58 1209.86 L176.15 1207.9 L176.76 1205.89 L177.39 1203.88 L178.04 1201.87 L178.72 1199.91 L179.42 1197.99 L180.14 1196.07 L180.89 1194.14 L181.67 1192.2 L182.46 1190.24 L183.28 1188.28 L184.12 1186.3 L184.98 1184.31 L185.87 1182.32 L186.77 1180.32 L187.7 1178.32 L188.65 1176.31 L189.62 1174.28 L190.61 1172.24 L191.62 1170.19 L192.65 1168.12 L193.7 1166.04 L194.77 1163.95 L195.86 1161.85 L196.98 1159.73 L198.11 1157.61 L199.26 1155.49 L200.43 1153.38 L201.62 1151.28 L202.82 1149.18 L204.05 1147.06 L205.3 1144.92 L206.56 1142.75 L207.84 1140.55 L209.14 1138.29 L210.46 1135.98 L211.8 1133.61 L213.16 1131.18 L214.53 1128.7 L215.93 1126.18 L217.34 1123.63 L218.76 1121.05 L220.21 1118.47 L221.67 1115.89 L223.15 1113.32 L224.65 1110.77 L226.16 1108.25 L227.7 1105.76 L229.25 1103.29 L230.81 1100.83 L232.39 1098.35 L234 1095.85 L235.61 1093.31 L237.25 1090.71 L238.9 1088.04 L240.56 1085.28 L242.25 1082.44 L243.95 1079.54 L245.66 1076.59 L247.4 1073.58 L249.14 1070.52 L250.91 1067.4 L252.69 1064.23 L254.49 1061.01 L256.3 1057.72 L258.13 1054.33 L259.98 1050.84 L261.84 1047.25 L263.71 1043.57 L265.6 1039.83 L267.51 1036.06 L269.44 1032.22 L271.38 1028.31 L273.33 1024.33 L275.3 1020.4" fill="none" stroke="#dedede" stroke-width="4.6" stroke-linejoin="round" stroke-linecap="butt"/>
<path d="M153.5 1230.5 L171.13 1230.5 L171.18 1230.18 L171.29 1229.45 L171.45 1228.36 L171.65 1227 L171.9 1225.45 L172.17 1223.8 L172.49 1222.11 L172.83 1220.55 L173.21 1219.1 L173.62 1217.73 L174.05 1216.37 L174.52 1214.92 L175.01 1213.36 L175.54 1211.63 L176.08 1209.76 L176.66 1207.81 L177.26 1205.81 L177.88 1203.8 L178.53 1201.79 L179.21 1199.84 L179.91 1197.92 L180.63 1196.01 L181.37 1194.08 L182.14 1192.15 L182.93 1190.19 L183.75 1188.23 L184.58 1186.26 L185.44 1184.28 L186.32 1182.3 L187.22 1180.31 L188.15 1178.31 L189.09 1176.3 L190.05 1174.28 L191.04 1172.25 L192.04 1170.21 L193.07 1168.15 L194.12 1166.07 L195.18 1163.99 L196.27 1161.89 L197.37 1159.78 L198.5 1157.66 L199.64 1155.55 L200.81 1153.45 L201.99 1151.35 L203.19 1149.25 L204.41 1147.14 L205.65 1145.01 L206.91 1142.85 L208.19 1140.65 L209.48 1138.41 L210.79 1136.1 L212.13 1133.74 L213.47 1131.31 L214.84 1128.84 L216.23 1126.33 L217.63 1123.79 L219.05 1121.23 L220.49 1118.66 L221.94 1116.09 L223.42 1113.53 L224.91 1110.98 L226.41 1108.47 L227.94 1106 L229.48 1103.54 L231.04 1101.08 L232.61 1098.61 L234.21 1096.12 L235.81 1093.59 L237.44 1091 L239.08 1088.34 L240.74 1085.6 L242.41 1082.77 L244.11 1079.88 L245.81 1076.94 L247.54 1073.95 L249.28 1070.9 L251.03 1067.8 L252.81 1064.64 L254.59 1061.43 L256.4 1058.16 L258.22 1054.79 L260.05 1051.32 L261.9 1047.74 L263.77 1044.08 L265.65 1040.35 L267.55 1036.59 L269.47 1032.76 L271.4 1028.84 L273.34 1024.86 L275.3 1020.92" fill="none" stroke="#d8d8d8" stroke-width="4.6" stroke-linejoin="round" stroke-linecap="butt"/>
<path d="M153.5 1230.5 L171.69 1230.5 L171.74 1230.18 L171.85 1229.42 L172.01 1228.31 L172.21 1226.93 L172.45 1225.36 L172.73 1223.7 L173.04 1222.01 L173.38 1220.45 L173.76 1218.99 L174.16 1217.62 L174.6 1216.26 L175.06 1214.81 L175.55 1213.24 L176.07 1211.52 L176.62 1209.66 L177.19 1207.71 L177.79 1205.72 L178.41 1203.71 L179.05 1201.72 L179.72 1199.76 L180.42 1197.85 L181.14 1195.94 L181.88 1194.02 L182.64 1192.09 L183.43 1190.14 L184.24 1188.19 L185.07 1186.22 L185.93 1184.25 L186.8 1182.27 L187.7 1180.29 L188.61 1178.3 L189.55 1176.3 L190.51 1174.29 L191.49 1172.26 L192.49 1170.22 L193.51 1168.17 L194.55 1166.1 L195.61 1164.02 L196.69 1161.93 L197.79 1159.83 L198.91 1157.72 L200.05 1155.61 L201.21 1153.52 L202.38 1151.43 L203.58 1149.34 L204.79 1147.23 L206.03 1145.11 L207.28 1142.95 L208.55 1140.76 L209.84 1138.52 L211.14 1136.23 L212.47 1133.87 L213.81 1131.46 L215.17 1129 L216.54 1126.5 L217.94 1123.97 L219.35 1121.42 L220.78 1118.86 L222.23 1116.3 L223.7 1113.75 L225.18 1111.21 L226.68 1108.71 L228.19 1106.25 L229.73 1103.79 L231.28 1101.35 L232.84 1098.89 L234.43 1096.4 L236.03 1093.88 L237.64 1091.31 L239.28 1088.66 L240.93 1085.92 L242.59 1083.11 L244.27 1080.24 L245.97 1077.31 L247.69 1074.33 L249.42 1071.3 L251.16 1068.21 L252.93 1065.07 L254.7 1061.88 L256.5 1058.62 L258.31 1055.27 L260.13 1051.82 L261.98 1048.26 L263.83 1044.61 L265.71 1040.9 L267.59 1037.16 L269.5 1033.33 L271.42 1029.41 L273.35 1025.42 L275.3 1021.47" fill="none" stroke="#d3d3d3" stroke-width="4.6" stroke-linejoin="round" stroke-linecap="butt"/>
<path d="M153.5 1230.5 L172.28 1230.5 L172.33 1230.17 L172.44 1229.39 L172.6 1228.25 L172.8 1226.84 L173.04 1225.26 L173.31 1223.59 L173.62 1221.9 L173.96 1220.34 L174.33 1218.88 L174.74 1217.51 L175.17 1216.14 L175.63 1214.69 L176.12 1213.13 L176.64 1211.4 L177.18 1209.55 L177.75 1207.61 L178.34 1205.62 L178.96 1203.62 L179.6 1201.63 L180.27 1199.69 L180.96 1197.78 L181.67 1195.87 L182.41 1193.96 L183.17 1192.03 L183.95 1190.09 L184.76 1188.14 L185.58 1186.18 L186.43 1184.22 L187.3 1182.24 L188.19 1180.27 L189.11 1178.28 L190.04 1176.29 L190.99 1174.29 L191.97 1172.27 L192.96 1170.24 L193.98 1168.19 L195.01 1166.13 L196.07 1164.06 L197.14 1161.98 L198.23 1159.88 L199.35 1157.78 L200.48 1155.68 L201.63 1153.59 L202.8 1151.51 L203.99 1149.42 L205.19 1147.33 L206.42 1145.21 L207.66 1143.06 L208.93 1140.87 L210.21 1138.64 L211.51 1136.36 L212.82 1134.01 L214.16 1131.61 L215.51 1129.16 L216.88 1126.67 L218.27 1124.15 L219.67 1121.61 L221.09 1119.06 L222.53 1116.52 L223.99 1113.98 L225.46 1111.45 L226.95 1108.96 L228.46 1106.51 L229.98 1104.07 L231.53 1101.63 L233.08 1099.18 L234.66 1096.7 L236.25 1094.19 L237.86 1091.63 L239.48 1088.99 L241.12 1086.27 L242.78 1083.47 L244.45 1080.61 L246.14 1077.7 L247.84 1074.74 L249.56 1071.72 L251.3 1068.65 L253.05 1065.53 L254.82 1062.35 L256.61 1059.11 L258.41 1055.77 L260.22 1052.34 L262.05 1048.8 L263.9 1045.18 L265.76 1041.48 L267.64 1037.75 L269.53 1033.93 L271.44 1030.01 L273.36 1026 L275.3 1022.05" fill="none" stroke="#cdcdcd" stroke-width="4.6" stroke-linejoin="round" stroke-linecap="butt"/>
<path d="M153.5 1230.5 L172.9 1230.5 L172.94 1230.16 L173.05 1229.36 L173.21 1228.19 L173.41 1226.76 L173.65 1225.16 L173.92 1223.48 L174.23 1221.79 L174.57 1220.22 L174.94 1218.76 L175.34 1217.39 L175.77 1216.01 L176.23 1214.57 L176.71 1213 L177.23 1211.28 L177.76 1209.43 L178.33 1207.5 L178.92 1205.52 L179.53 1203.53 L180.17 1201.55 L180.84 1199.61 L181.52 1197.7 L182.23 1195.8 L182.97 1193.89 L183.72 1191.96 L184.5 1190.03 L185.3 1188.09 L186.12 1186.14 L186.96 1184.18 L187.83 1182.22 L188.72 1180.25 L189.62 1178.27 L190.55 1176.29 L191.5 1174.29 L192.47 1172.28 L193.46 1170.26 L194.46 1168.22 L195.49 1166.17 L196.54 1164.1 L197.61 1162.02 L198.69 1159.94 L199.8 1157.84 L200.93 1155.75 L202.07 1153.67 L203.23 1151.6 L204.41 1149.52 L205.61 1147.42 L206.83 1145.31 L208.07 1143.17 L209.32 1140.99 L210.6 1138.77 L211.89 1136.49 L213.2 1134.16 L214.52 1131.76 L215.87 1129.33 L217.23 1126.85 L218.61 1124.34 L220 1121.82 L221.42 1119.28 L222.85 1116.74 L224.3 1114.22 L225.76 1111.71 L227.24 1109.23 L228.74 1106.78 L230.26 1104.35 L231.79 1101.92 L233.34 1099.48 L234.9 1097.02 L236.48 1094.52 L238.08 1091.96 L239.69 1089.34 L241.33 1086.63 L242.97 1083.85 L244.63 1081.01 L246.31 1078.11 L248.01 1075.16 L249.72 1072.16 L251.44 1069.11 L253.19 1066 L254.94 1062.84 L256.72 1059.62 L258.51 1056.3 L260.31 1052.89 L262.13 1049.37 L263.97 1045.77 L265.82 1042.09 L267.68 1038.37 L269.56 1034.55 L271.46 1030.63 L273.37 1026.62 L275.3 1022.65" fill="none" stroke="#c8c8c8" stroke-width="4.6" stroke-linejoin="round" stroke-linecap="butt"/>
<path d="M153.5 1230.5 L173.54 1230.5 L173.59 1230.15 L173.7 1229.32 L173.85 1228.12 L174.05 1226.67 L174.29 1225.06 L174.56 1223.37 L174.86 1221.67 L175.2 1220.1 L175.57 1218.64 L175.97 1217.26 L176.4 1215.88 L176.85 1214.44 L177.33 1212.87 L177.84 1211.16 L178.38 1209.32 L178.94 1207.39 L179.53 1205.42 L180.14 1203.44 L180.77 1201.46 L181.43 1199.52 L182.11 1197.62 L182.82 1195.73 L183.55 1193.82 L184.3 1191.9 L185.07 1189.97 L185.87 1188.04 L186.68 1186.09 L187.52 1184.14 L188.38 1182.19 L189.26 1180.23 L190.16 1178.26 L191.08 1176.28 L192.03 1174.29 L192.99 1172.29 L193.97 1170.28 L194.97 1168.25 L195.99 1166.2 L197.04 1164.14 L198.1 1162.08 L199.18 1160 L200.28 1157.91 L201.39 1155.82 L202.53 1153.75 L203.69 1151.68 L204.86 1149.61 L206.05 1147.53 L207.26 1145.42 L208.49 1143.29 L209.74 1141.12 L211 1138.91 L212.29 1136.64 L213.59 1134.31 L214.9 1131.93 L216.24 1129.5 L217.59 1127.04 L218.96 1124.54 L220.35 1122.03 L221.76 1119.51 L223.18 1116.98 L224.62 1114.47 L226.07 1111.97 L227.54 1109.5 L229.03 1107.07 L230.54 1104.65 L232.06 1102.23 L233.6 1099.8 L235.16 1097.34 L236.73 1094.86 L238.31 1092.31 L239.92 1089.71 L241.54 1087.01 L243.18 1084.24 L244.83 1081.42 L246.5 1078.54 L248.18 1075.61 L249.88 1072.62 L251.59 1069.58 L253.33 1066.49 L255.07 1063.35 L256.83 1060.15 L258.61 1056.86 L260.41 1053.47 L262.21 1049.97 L264.04 1046.38 L265.88 1042.72 L267.73 1039.02 L269.6 1035.21 L271.49 1031.28 L273.39 1027.26 L275.3 1023.29" fill="none" stroke="#c2c2c2" stroke-width="4.6" stroke-linejoin="round" stroke-linecap="butt"/>
<path d="M153.5 1230.5 L174.21 1230.5 L174.26 1230.14 L174.37 1229.29 L174.52 1228.06 L174.72 1226.57 L174.95 1224.94 L175.22 1223.25 L175.53 1221.54 L175.86 1219.97 L176.23 1218.51 L176.62 1217.12 L177.05 1215.75 L177.5 1214.3 L177.98 1212.74 L178.49 1211.03 L179.02 1209.19 L179.58 1207.27 L180.16 1205.31 L180.77 1203.34 L181.4 1201.37 L182.05 1199.43 L182.73 1197.54 L183.43 1195.65 L184.15 1193.74 L184.9 1191.83 L185.67 1189.91 L186.46 1187.98 L187.27 1186.05 L188.1 1184.1 L188.95 1182.16 L189.83 1180.2 L190.72 1178.25 L191.64 1176.28 L192.58 1174.3 L193.53 1172.3 L194.51 1170.29 L195.5 1168.27 L196.52 1166.24 L197.55 1164.19 L198.61 1162.13 L199.68 1160.06 L200.77 1157.98 L201.88 1155.9 L203.01 1153.84 L204.16 1151.78 L205.33 1149.71 L206.51 1147.63 L207.71 1145.54 L208.93 1143.41 L210.17 1141.25 L211.43 1139.05 L212.7 1136.79 L213.99 1134.47 L215.3 1132.1 L216.63 1129.69 L217.97 1127.23 L219.34 1124.75 L220.71 1122.25 L222.11 1119.74 L223.52 1117.23 L224.95 1114.73 L226.4 1112.25 L227.86 1109.79 L229.34 1107.37 L230.84 1104.96 L232.35 1102.55 L233.88 1100.13 L235.42 1097.69 L236.98 1095.21 L238.56 1092.68 L240.15 1090.09 L241.76 1087.41 L243.39 1084.65 L245.03 1081.84 L246.69 1078.98 L248.36 1076.07 L250.05 1073.1 L251.75 1070.08 L253.47 1067.01 L255.21 1063.89 L256.96 1060.71 L258.72 1057.44 L260.5 1054.07 L262.3 1050.59 L264.11 1047.03 L265.94 1043.39 L267.78 1039.69 L269.64 1035.89 L271.51 1031.96 L273.4 1027.93 L275.3 1023.95" fill="none" stroke="#bdbdbd" stroke-width="4.6" stroke-linejoin="round" stroke-linecap="butt"/>
<path d="M153.5 1230.5 L174.91 1230.5 L174.96 1230.13 L175.07 1229.26 L175.22 1227.99 L175.42 1226.48 L175.65 1224.83 L175.92 1223.12 L176.22 1221.41 L176.55 1219.84 L176.92 1218.37 L177.31 1216.99 L177.73 1215.61 L178.18 1214.16 L178.66 1212.6 L179.16 1210.89 L179.69 1209.06 L180.24 1207.15 L180.82 1205.2 L181.42 1203.23 L182.05 1201.27 L182.7 1199.34 L183.37 1197.45 L184.07 1195.56 L184.78 1193.67 L185.53 1191.76 L186.29 1189.84 L187.07 1187.92 L187.88 1186 L188.7 1184.06 L189.55 1182.13 L190.42 1180.18 L191.31 1178.23 L192.22 1176.27 L193.15 1174.3 L194.1 1172.31 L195.07 1170.31 L196.06 1168.3 L197.06 1166.28 L198.09 1164.24 L199.14 1162.18 L200.2 1160.12 L201.29 1158.05 L202.39 1155.98 L203.51 1153.92 L204.65 1151.87 L205.81 1149.81 L206.99 1147.74 L208.18 1145.66 L209.39 1143.54 L210.62 1141.39 L211.87 1139.19 L213.14 1136.94 L214.42 1134.64 L215.72 1132.28 L217.04 1129.88 L218.37 1127.44 L219.72 1124.97 L221.09 1122.49 L222.48 1119.99 L223.88 1117.49 L225.3 1115.01 L226.74 1112.53 L228.19 1110.09 L229.66 1107.68 L231.14 1105.28 L232.64 1102.88 L234.16 1100.47 L235.7 1098.04 L237.25 1095.58 L238.81 1093.06 L240.4 1090.48 L241.99 1087.82 L243.61 1085.08 L245.24 1082.29 L246.88 1079.45 L248.55 1076.55 L250.22 1073.6 L251.91 1070.6 L253.62 1067.55 L255.35 1064.45 L257.08 1061.29 L258.84 1058.04 L260.61 1054.69 L262.39 1051.24 L264.19 1047.7 L266 1044.08 L267.83 1040.4 L269.68 1036.6 L271.54 1032.67 L273.41 1028.63 L275.3 1024.63" fill="none" stroke="#b7b7b7" stroke-width="4.6" stroke-linejoin="round" stroke-linecap="butt"/>
<path d="M153.5 1230.5 L175.64 1230.5 L175.69 1230.12 L175.8 1229.22 L175.95 1227.92 L176.14 1226.37 L176.37 1224.71 L176.64 1222.99 L176.94 1221.28 L177.27 1219.7 L177.63 1218.23 L178.02 1216.84 L178.44 1215.46 L178.88 1214.01 L179.36 1212.45 L179.86 1210.75 L180.38 1208.93 L180.93 1207.02 L181.5 1205.08 L182.1 1203.12 L182.72 1201.17 L183.37 1199.25 L184.04 1197.36 L184.73 1195.48 L185.44 1193.58 L186.18 1191.68 L186.93 1189.78 L187.71 1187.86 L188.51 1185.95 L189.33 1184.02 L190.17 1182.09 L191.04 1180.16 L191.92 1178.22 L192.82 1176.27 L193.75 1174.3 L194.69 1172.33 L195.65 1170.34 L196.63 1168.33 L197.63 1166.31 L198.65 1164.28 L199.69 1162.24 L200.75 1160.19 L201.82 1158.12 L202.92 1156.06 L204.03 1154.02 L205.16 1151.97 L206.31 1149.92 L207.48 1147.86 L208.67 1145.78 L209.87 1143.67 L211.09 1141.53 L212.33 1139.34 L213.59 1137.11 L214.86 1134.81 L216.15 1132.47 L217.46 1130.08 L218.78 1127.65 L220.13 1125.2 L221.49 1122.73 L222.86 1120.25 L224.25 1117.76 L225.66 1115.29 L227.09 1112.83 L228.53 1110.4 L229.99 1108 L231.46 1105.61 L232.95 1103.23 L234.46 1100.83 L235.98 1098.41 L237.52 1095.96 L239.08 1093.46 L240.65 1090.89 L242.24 1088.25 L243.84 1085.53 L245.46 1082.75 L247.09 1079.93 L248.74 1077.05 L250.4 1074.12 L252.08 1071.14 L253.78 1068.11 L255.49 1065.03 L257.22 1061.89 L258.96 1058.66 L260.71 1055.34 L262.48 1051.91 L264.27 1048.39 L266.07 1044.8 L267.89 1041.13 L269.72 1037.34 L271.56 1033.41 L273.42 1029.35 L275.3 1025.35" fill="none" stroke="#b2b2b2" stroke-width="4.6" stroke-linejoin="round" stroke-linecap="butt"/>
<path d="M153.5 1230.5 L176.4 1230.5 L176.44 1230.11 L176.55 1229.18 L176.7 1227.85 L176.89 1226.27 L177.12 1224.58 L177.39 1222.86 L177.68 1221.14 L178.01 1219.55 L178.37 1218.08 L178.76 1216.69 L179.17 1215.31 L179.62 1213.86 L180.08 1212.3 L180.58 1210.6 L181.1 1208.79 L181.65 1206.89 L182.22 1204.96 L182.81 1203.01 L183.43 1201.06 L184.07 1199.15 L184.73 1197.26 L185.42 1195.39 L186.12 1193.5 L186.85 1191.61 L187.6 1189.71 L188.38 1187.8 L189.17 1185.89 L189.99 1183.98 L190.82 1182.06 L191.68 1180.13 L192.55 1178.2 L193.45 1176.26 L194.36 1174.31 L195.3 1172.34 L196.25 1170.36 L197.23 1168.36 L198.22 1166.35 L199.23 1164.33 L200.26 1162.3 L201.31 1160.25 L202.38 1158.2 L203.47 1156.15 L204.57 1154.11 L205.7 1152.07 L206.84 1150.03 L208 1147.98 L209.17 1145.91 L210.37 1143.81 L211.58 1141.67 L212.81 1139.5 L214.06 1137.27 L215.32 1134.99 L216.6 1132.66 L217.9 1130.28 L219.21 1127.87 L220.55 1125.43 L221.89 1122.98 L223.26 1120.51 L224.64 1118.05 L226.04 1115.59 L227.45 1113.14 L228.89 1110.73 L230.33 1108.34 L231.8 1105.96 L233.28 1103.59 L234.77 1101.2 L236.28 1098.8 L237.81 1096.36 L239.35 1093.87 L240.91 1091.32 L242.49 1088.69 L244.08 1085.99 L245.68 1083.24 L247.3 1080.43 L248.94 1077.57 L250.59 1074.66 L252.26 1071.7 L253.94 1068.69 L255.64 1065.63 L257.35 1062.51 L259.08 1059.31 L260.82 1056.01 L262.58 1052.61 L264.35 1049.12 L266.14 1045.54 L267.94 1041.89 L269.76 1038.11 L271.59 1034.17 L273.44 1030.1 L275.3 1026.09" fill="none" stroke="#acacac" stroke-width="4.6" stroke-linejoin="round" stroke-linecap="butt"/>
<path d="M153.5 1230.5 L177.18 1230.5 L177.23 1230.1 L177.33 1229.14 L177.48 1227.77 L177.68 1226.16 L177.9 1224.45 L178.16 1222.72 L178.46 1220.99 L178.78 1219.4 L179.14 1217.93 L179.52 1216.54 L179.94 1215.15 L180.37 1213.7 L180.84 1212.14 L181.33 1210.45 L181.85 1208.64 L182.39 1206.76 L182.95 1204.83 L183.54 1202.89 L184.15 1200.95 L184.79 1199.04 L185.45 1197.17 L186.13 1195.29 L186.83 1193.41 L187.55 1191.53 L188.3 1189.64 L189.07 1187.74 L189.85 1185.84 L190.66 1183.93 L191.49 1182.02 L192.34 1180.11 L193.21 1178.19 L194.1 1176.25 L195.01 1174.31 L195.93 1172.35 L196.88 1170.38 L197.85 1168.4 L198.83 1166.4 L199.84 1164.38 L200.86 1162.36 L201.9 1160.33 L202.96 1158.28 L204.04 1156.24 L205.14 1154.21 L206.25 1152.18 L207.38 1150.15 L208.53 1148.1 L209.7 1146.04 L210.88 1143.95 L212.09 1141.83 L213.31 1139.66 L214.54 1137.45 L215.8 1135.18 L217.07 1132.86 L218.35 1130.5 L219.66 1128.1 L220.98 1125.68 L222.32 1123.24 L223.67 1120.79 L225.04 1118.34 L226.43 1115.89 L227.83 1113.46 L229.25 1111.06 L230.69 1108.69 L232.14 1106.32 L233.61 1103.96 L235.09 1101.59 L236.59 1099.2 L238.11 1096.77 L239.64 1094.3 L241.19 1091.77 L242.75 1089.15 L244.33 1086.47 L245.92 1083.74 L247.53 1080.95 L249.15 1078.11 L250.79 1075.22 L252.44 1072.28 L254.11 1069.29 L255.8 1066.26 L257.5 1063.16 L259.21 1059.99 L260.94 1056.71 L262.68 1053.34 L264.44 1049.87 L266.21 1046.32 L268 1042.68 L269.81 1038.9 L271.62 1034.96 L273.45 1030.89 L275.3 1026.86" fill="none" stroke="#a6a6a6" stroke-width="4.6" stroke-linejoin="round" stroke-linecap="butt"/>
<path d="M153.5 1230.5 L177.99 1230.5 L178.04 1230.09 L178.15 1229.1 L178.29 1227.69 L178.48 1226.05 L178.71 1224.32 L178.97 1222.58 L179.26 1220.84 L179.58 1219.25 L179.94 1217.77 L180.32 1216.38 L180.73 1214.99 L181.16 1213.53 L181.62 1211.98 L182.11 1210.29 L182.62 1208.49 L183.16 1206.62 L183.72 1204.7 L184.3 1202.77 L184.91 1200.84 L185.54 1198.94 L186.19 1197.06 L186.87 1195.2 L187.56 1193.32 L188.28 1191.44 L189.02 1189.56 L189.78 1187.67 L190.56 1185.78 L191.36 1183.89 L192.19 1181.99 L193.03 1180.08 L193.89 1178.17 L194.77 1176.25 L195.67 1174.31 L196.59 1172.37 L197.53 1170.4 L198.49 1168.43 L199.47 1166.44 L200.46 1164.44 L201.48 1162.42 L202.51 1160.4 L203.56 1158.37 L204.63 1156.33 L205.72 1154.31 L206.82 1152.29 L207.94 1150.27 L209.08 1148.23 L210.24 1146.18 L211.42 1144.1 L212.61 1141.98 L213.82 1139.83 L215.05 1137.63 L216.29 1135.37 L217.55 1133.07 L218.83 1130.72 L220.12 1128.34 L221.43 1125.93 L222.76 1123.51 L224.1 1121.07 L225.46 1118.64 L226.84 1116.21 L228.23 1113.8 L229.64 1111.41 L231.06 1109.05 L232.5 1106.7 L233.95 1104.35 L235.43 1101.99 L236.91 1099.61 L238.42 1097.2 L239.93 1094.74 L241.47 1092.22 L243.02 1089.63 L244.58 1086.97 L246.16 1084.25 L247.76 1081.49 L249.37 1078.67 L250.99 1075.8 L252.63 1072.88 L254.29 1069.92 L255.96 1066.9 L257.64 1063.84 L259.34 1060.68 L261.06 1057.44 L262.79 1054.09 L264.53 1050.65 L266.29 1047.12 L268.06 1043.5 L269.85 1039.73 L271.65 1035.78 L273.47 1031.7 L275.3 1027.66" fill="none" stroke="#a1a1a1" stroke-width="4.6" stroke-linejoin="round" stroke-linecap="butt"/>
<path d="M153.5 1230.5 L178.84 1230.5 L178.88 1230.08 L178.98 1229.06 L179.13 1227.61 L179.32 1225.93 L179.54 1224.18 L179.8 1222.43 L180.09 1220.69 L180.41 1219.09 L180.76 1217.61 L181.14 1216.21 L181.54 1214.82 L181.97 1213.36 L182.43 1211.81 L182.91 1210.13 L183.42 1208.34 L183.95 1206.47 L184.51 1204.57 L185.09 1202.65 L185.69 1200.72 L186.32 1198.83 L186.96 1196.96 L187.63 1195.1 L188.32 1193.23 L189.03 1191.36 L189.77 1189.48 L190.52 1187.6 L191.29 1185.72 L192.09 1183.84 L192.9 1181.95 L193.74 1180.05 L194.59 1178.15 L195.47 1176.24 L196.36 1174.32 L197.27 1172.38 L198.2 1170.43 L199.15 1168.46 L200.12 1166.49 L201.11 1164.49 L202.11 1162.49 L203.14 1160.48 L204.18 1158.45 L205.24 1156.43 L206.32 1154.42 L207.41 1152.41 L208.53 1150.39 L209.66 1148.37 L210.8 1146.32 L211.97 1144.25 L213.15 1142.15 L214.35 1140.01 L215.57 1137.81 L216.8 1135.57 L218.05 1133.28 L219.31 1130.95 L220.6 1128.58 L221.9 1126.19 L223.21 1123.79 L224.54 1121.37 L225.89 1118.95 L227.25 1116.54 L228.63 1114.14 L230.03 1111.77 L231.44 1109.42 L232.87 1107.08 L234.31 1104.75 L235.77 1102.4 L237.24 1100.04 L238.73 1097.64 L240.24 1095.2 L241.76 1092.7 L243.3 1090.12 L244.85 1087.48 L246.41 1084.79 L247.99 1082.04 L249.59 1079.25 L251.2 1076.41 L252.83 1073.51 L254.47 1070.56 L256.13 1067.57 L257.8 1064.53 L259.48 1061.41 L261.18 1058.19 L262.9 1054.87 L264.62 1051.45 L266.37 1047.94 L268.13 1044.35 L269.9 1040.58 L271.68 1036.63 L273.48 1032.53 L275.3 1028.49" fill="none" stroke="#9b9b9b" stroke-width="4.6" stroke-linejoin="round" stroke-linecap="butt"/>
<path d="M153.5 1230.5 L179.7 1230.5 L179.75 1230.07 L179.85 1229.02 L180 1227.52 L180.18 1225.81 L180.41 1224.04 L180.66 1222.27 L180.95 1220.53 L181.26 1218.93 L181.61 1217.44 L181.99 1216.04 L182.39 1214.64 L182.81 1213.19 L183.27 1211.64 L183.75 1209.96 L184.25 1208.18 L184.78 1206.32 L185.33 1204.43 L185.9 1202.52 L186.5 1200.6 L187.12 1198.71 L187.76 1196.85 L188.42 1195 L189.1 1193.13 L189.81 1191.27 L190.54 1189.4 L191.28 1187.53 L192.05 1185.66 L192.84 1183.79 L193.64 1181.91 L194.47 1180.03 L195.32 1178.13 L196.18 1176.23 L197.07 1174.32 L197.97 1172.39 L198.9 1170.45 L199.84 1168.5 L200.8 1166.53 L201.78 1164.55 L202.77 1162.56 L203.79 1160.55 L204.82 1158.54 L205.87 1156.53 L206.94 1154.53 L208.02 1152.53 L209.13 1150.52 L210.25 1148.5 L211.38 1146.47 L212.54 1144.41 L213.71 1142.32 L214.9 1140.19 L216.1 1138.01 L217.33 1135.78 L218.56 1133.5 L219.82 1131.19 L221.09 1128.84 L222.38 1126.46 L223.68 1124.07 L225 1121.68 L226.33 1119.27 L227.69 1116.88 L229.05 1114.5 L230.44 1112.14 L231.84 1109.81 L233.25 1107.48 L234.68 1105.16 L236.13 1102.83 L237.59 1100.48 L239.06 1098.1 L240.56 1095.67 L242.06 1093.19 L243.58 1090.63 L245.12 1088.01 L246.67 1085.34 L248.24 1082.62 L249.82 1079.85 L251.42 1077.03 L253.03 1074.15 L254.66 1071.23 L256.3 1068.27 L257.95 1065.25 L259.62 1062.15 L261.31 1058.96 L263.01 1055.67 L264.72 1052.28 L266.45 1048.8 L268.19 1045.22 L269.95 1041.46 L271.72 1037.51 L273.5 1033.4 L275.3 1029.34" fill="none" stroke="#969696" stroke-width="4.6" stroke-linejoin="round" stroke-linecap="butt"/>
<path d="M153.5 1230.5 L180.6 1230.5 L180.65 1230.06 L180.75 1228.97 L180.89 1227.44 L181.08 1225.68 L181.3 1223.89 L181.55 1222.11 L181.83 1220.36 L182.15 1218.76 L182.49 1217.27 L182.86 1215.86 L183.26 1214.46 L183.68 1213.01 L184.13 1211.46 L184.6 1209.79 L185.1 1208.01 L185.63 1206.16 L186.17 1204.28 L186.74 1202.38 L187.33 1200.48 L187.94 1198.6 L188.58 1196.74 L189.24 1194.89 L189.91 1193.04 L190.61 1191.18 L191.33 1189.32 L192.07 1187.46 L192.83 1185.6 L193.61 1183.74 L194.41 1181.87 L195.23 1180 L196.07 1178.12 L196.93 1176.22 L197.8 1174.32 L198.7 1172.41 L199.61 1170.48 L200.55 1168.54 L201.5 1166.58 L202.47 1164.61 L203.45 1162.63 L204.46 1160.63 L205.48 1158.63 L206.52 1156.63 L207.58 1154.64 L208.65 1152.65 L209.75 1150.65 L210.86 1148.65 L211.98 1146.62 L213.13 1144.57 L214.29 1142.49 L215.46 1140.37 L216.66 1138.21 L217.87 1135.99 L219.1 1133.73 L220.34 1131.43 L221.6 1129.1 L222.87 1126.74 L224.16 1124.37 L225.47 1121.99 L226.79 1119.61 L228.13 1117.23 L229.49 1114.86 L230.86 1112.52 L232.24 1110.2 L233.65 1107.9 L235.06 1105.59 L236.49 1103.27 L237.94 1100.93 L239.4 1098.57 L240.88 1096.16 L242.37 1093.7 L243.88 1091.16 L245.4 1088.56 L246.94 1085.91 L248.49 1083.21 L250.06 1080.47 L251.64 1077.67 L253.24 1074.82 L254.85 1071.92 L256.48 1068.98 L258.12 1065.99 L259.77 1062.92 L261.44 1059.76 L263.12 1056.5 L264.82 1053.14 L266.53 1049.69 L268.26 1046.12 L270 1042.37 L271.75 1038.42 L273.52 1034.29 L275.3 1030.22" fill="none" stroke="#909090" stroke-width="4.6" stroke-linejoin="round" stroke-linecap="butt"/>
<path d="M153.5 1230.5 L181.52 1230.5 L181.57 1230.04 L181.67 1228.92 L181.81 1227.35 L182 1225.55 L182.21 1223.73 L182.46 1221.95 L182.75 1220.19 L183.06 1218.58 L183.4 1217.09 L183.76 1215.68 L184.16 1214.27 L184.58 1212.82 L185.02 1211.27 L185.49 1209.61 L185.98 1207.84 L186.5 1206 L187.04 1204.13 L187.6 1202.24 L188.19 1200.35 L188.8 1198.48 L189.43 1196.62 L190.08 1194.78 L190.75 1192.93 L191.44 1191.08 L192.15 1189.23 L192.88 1187.39 L193.64 1185.54 L194.41 1183.68 L195.2 1181.83 L196.01 1179.97 L196.84 1178.1 L197.69 1176.22 L198.56 1174.33 L199.45 1172.42 L200.35 1170.51 L201.28 1168.57 L202.22 1166.63 L203.18 1164.67 L204.15 1162.7 L205.15 1160.72 L206.16 1158.73 L207.19 1156.74 L208.24 1154.76 L209.31 1152.78 L210.39 1150.79 L211.49 1148.79 L212.6 1146.78 L213.73 1144.74 L214.88 1142.67 L216.05 1140.56 L217.23 1138.41 L218.43 1136.21 L219.64 1133.97 L220.87 1131.68 L222.12 1129.37 L223.38 1127.03 L224.66 1124.68 L225.96 1122.32 L227.27 1119.95 L228.59 1117.59 L229.93 1115.24 L231.29 1112.92 L232.66 1110.61 L234.05 1108.32 L235.45 1106.03 L236.87 1103.73 L238.31 1101.4 L239.75 1099.06 L241.22 1096.67 L242.7 1094.22 L244.19 1091.7 L245.7 1089.13 L247.22 1086.5 L248.76 1083.83 L250.31 1081.1 L251.87 1078.33 L253.45 1075.5 L255.05 1072.63 L256.66 1069.72 L258.28 1066.76 L259.92 1063.72 L261.57 1060.59 L263.24 1057.36 L264.92 1054.02 L266.62 1050.6 L268.33 1047.05 L270.05 1043.31 L271.78 1039.35 L273.54 1035.21 L275.3 1031.13" fill="none" stroke="#8b8b8b" stroke-width="4.6" stroke-linejoin="round" stroke-linecap="butt"/>
<path d="M153.5 1230.5 L182.48 1230.5 L182.52 1230.03 L182.62 1228.88 L182.76 1227.25 L182.94 1225.42 L183.16 1223.58 L183.41 1221.78 L183.69 1220.02 L183.99 1218.4 L184.33 1216.9 L184.69 1215.49 L185.08 1214.08 L185.5 1212.63 L185.94 1211.08 L186.4 1209.42 L186.89 1207.66 L187.4 1205.84 L187.94 1203.98 L188.49 1202.1 L189.07 1200.22 L189.68 1198.35 L190.3 1196.51 L190.94 1194.67 L191.61 1192.83 L192.29 1190.99 L193 1189.15 L193.72 1187.31 L194.47 1185.47 L195.23 1183.63 L196.01 1181.78 L196.82 1179.93 L197.64 1178.08 L198.48 1176.21 L199.34 1174.33 L200.22 1172.44 L201.11 1170.53 L202.03 1168.61 L202.96 1166.68 L203.91 1164.73 L204.88 1162.77 L205.86 1160.8 L206.87 1158.83 L207.89 1156.85 L208.92 1154.88 L209.98 1152.91 L211.05 1150.93 L212.13 1148.95 L213.24 1146.94 L214.36 1144.91 L215.5 1142.86 L216.65 1140.76 L217.82 1138.62 L219.01 1136.44 L220.21 1134.21 L221.43 1131.94 L222.66 1129.65 L223.91 1127.33 L225.18 1124.99 L226.46 1122.65 L227.76 1120.31 L229.07 1117.96 L230.4 1115.63 L231.74 1113.33 L233.1 1111.04 L234.47 1108.76 L235.86 1106.48 L237.26 1104.2 L238.68 1101.89 L240.12 1099.56 L241.56 1097.18 L243.03 1094.76 L244.5 1092.26 L246 1089.71 L247.5 1087.11 L249.03 1084.46 L250.56 1081.76 L252.11 1079.01 L253.68 1076.21 L255.26 1073.36 L256.85 1070.48 L258.46 1067.54 L260.08 1064.54 L261.71 1061.44 L263.36 1058.24 L265.03 1054.94 L266.7 1051.54 L268.4 1048.01 L270.1 1044.28 L271.82 1040.32 L273.55 1036.16 L275.3 1032.06" fill="none" stroke="#858585" stroke-width="4.6" stroke-linejoin="round" stroke-linecap="butt"/>
<path d="M153.5 1230.5 L183.46 1230.5 L183.5 1230.02 L183.6 1228.83 L183.74 1227.16 L183.92 1225.28 L184.13 1223.41 L184.38 1221.61 L184.65 1219.83 L184.96 1218.21 L185.29 1216.71 L185.65 1215.29 L186.04 1213.88 L186.45 1212.43 L186.88 1210.88 L187.34 1209.23 L187.83 1207.48 L188.33 1205.67 L188.86 1203.82 L189.41 1201.96 L189.99 1200.08 L190.58 1198.22 L191.2 1196.38 L191.83 1194.55 L192.49 1192.72 L193.17 1190.89 L193.87 1189.06 L194.58 1187.23 L195.32 1185.4 L196.08 1183.57 L196.85 1181.74 L197.65 1179.9 L198.46 1178.06 L199.29 1176.2 L200.14 1174.34 L201.01 1172.46 L201.9 1170.56 L202.8 1168.65 L203.72 1166.73 L204.66 1164.8 L205.62 1162.85 L206.6 1160.89 L207.59 1158.93 L208.6 1156.96 L209.62 1155 L210.67 1153.04 L211.73 1151.08 L212.8 1149.1 L213.89 1147.11 L215 1145.09 L216.13 1143.05 L217.27 1140.97 L218.43 1138.84 L219.6 1136.67 L220.79 1134.46 L222 1132.21 L223.22 1129.93 L224.45 1127.64 L225.71 1125.32 L226.97 1123 L228.26 1120.67 L229.56 1118.35 L230.87 1116.03 L232.2 1113.74 L233.54 1111.47 L234.9 1109.21 L236.28 1106.95 L237.66 1104.68 L239.07 1102.39 L240.49 1100.07 L241.92 1097.72 L243.37 1095.31 L244.83 1092.84 L246.31 1090.31 L247.8 1087.73 L249.3 1085.11 L250.82 1082.43 L252.36 1079.71 L253.91 1076.93 L255.47 1074.12 L257.04 1071.26 L258.63 1068.36 L260.24 1065.38 L261.86 1062.31 L263.49 1059.14 L265.14 1055.88 L266.8 1052.5 L268.47 1049 L270.16 1045.28 L271.86 1041.31 L273.57 1037.14 L275.3 1033.03" fill="none" stroke="#808080" stroke-width="4.6" stroke-linejoin="round" stroke-linecap="butt"/>
<path d="M153.5 1230.5 L184.47 1230.5 L184.51 1230 L184.61 1228.78 L184.75 1227.06 L184.92 1225.14 L185.13 1223.25 L185.38 1221.43 L185.65 1219.65 L185.95 1218.02 L186.28 1216.52 L186.63 1215.1 L187.02 1213.68 L187.42 1212.22 L187.85 1210.68 L188.31 1209.03 L188.79 1207.3 L189.29 1205.49 L189.81 1203.66 L190.36 1201.81 L190.92 1199.94 L191.51 1198.09 L192.12 1196.26 L192.75 1194.43 L193.4 1192.61 L194.07 1190.78 L194.76 1188.96 L195.47 1187.15 L196.2 1185.33 L196.95 1183.51 L197.71 1181.69 L198.5 1179.87 L199.3 1178.04 L200.13 1176.19 L200.97 1174.34 L201.83 1172.47 L202.7 1170.59 L203.6 1168.7 L204.51 1166.79 L205.44 1164.87 L206.39 1162.93 L207.35 1160.98 L208.33 1159.03 L209.33 1157.08 L210.34 1155.13 L211.38 1153.18 L212.42 1151.23 L213.49 1149.26 L214.57 1147.28 L215.67 1145.27 L216.78 1143.24 L217.91 1141.18 L219.05 1139.07 L220.21 1136.91 L221.39 1134.72 L222.58 1132.49 L223.79 1130.23 L225.01 1127.95 L226.25 1125.65 L227.51 1123.35 L228.77 1121.04 L230.06 1118.74 L231.36 1116.45 L232.67 1114.18 L234 1111.92 L235.35 1109.68 L236.7 1107.43 L238.08 1105.17 L239.47 1102.9 L240.87 1100.6 L242.29 1098.27 L243.72 1095.88 L245.16 1093.43 L246.62 1090.93 L248.1 1088.37 L249.59 1085.77 L251.09 1083.13 L252.61 1080.43 L254.14 1077.68 L255.69 1074.89 L257.24 1072.06 L258.82 1069.19 L260.4 1066.24 L262.01 1063.21 L263.62 1060.08 L265.25 1056.84 L266.89 1053.5 L268.54 1050.01 L270.21 1046.3 L271.9 1042.33 L273.59 1038.14 L275.3 1034.02" fill="none" stroke="#7a7a7a" stroke-width="4.6" stroke-linejoin="round" stroke-linecap="butt"/>
<path d="M153.5 1230.5 L185.5 1230.5 L185.55 1229.99 L185.64 1228.72 L185.78 1226.96 L185.96 1225 L186.16 1223.08 L186.4 1221.24 L186.67 1219.46 L186.97 1217.82 L187.3 1216.32 L187.65 1214.89 L188.02 1213.47 L188.43 1212.01 L188.85 1210.47 L189.3 1208.83 L189.77 1207.1 L190.27 1205.31 L190.79 1203.49 L191.32 1201.65 L191.89 1199.8 L192.47 1197.96 L193.07 1196.13 L193.69 1194.31 L194.33 1192.49 L195 1190.68 L195.68 1188.87 L196.38 1187.06 L197.1 1185.26 L197.84 1183.45 L198.6 1181.65 L199.38 1179.84 L200.17 1178.02 L200.98 1176.19 L201.82 1174.34 L202.67 1172.49 L203.53 1170.62 L204.42 1168.74 L205.32 1166.84 L206.24 1164.93 L207.17 1163.01 L208.13 1161.08 L209.1 1159.14 L210.08 1157.19 L211.09 1155.26 L212.11 1153.32 L213.14 1151.38 L214.19 1149.43 L215.26 1147.46 L216.35 1145.46 L217.45 1143.44 L218.56 1141.39 L219.69 1139.3 L220.84 1137.16 L222.01 1134.98 L223.18 1132.77 L224.38 1130.53 L225.59 1128.27 L226.81 1126 L228.05 1123.72 L229.31 1121.43 L230.58 1119.15 L231.86 1116.87 L233.16 1114.62 L234.47 1112.38 L235.8 1110.15 L237.15 1107.92 L238.5 1105.68 L239.88 1103.43 L241.26 1101.15 L242.66 1098.83 L244.08 1096.47 L245.51 1094.04 L246.95 1091.56 L248.41 1089.03 L249.88 1086.46 L251.37 1083.84 L252.87 1081.17 L254.38 1078.45 L255.91 1075.69 L257.45 1072.89 L259.01 1070.05 L260.57 1067.14 L262.16 1064.13 L263.75 1061.03 L265.36 1057.83 L266.99 1054.52 L268.62 1051.06 L270.27 1047.35 L271.93 1043.38 L273.61 1039.18 L275.3 1035.03" fill="none" stroke="#757575" stroke-width="4.6" stroke-linejoin="round" stroke-linecap="butt"/>
<path d="M153.5 1230.5 L186.57 1230.5 L186.61 1229.98 L186.71 1228.67 L186.84 1226.85 L187.01 1224.85 L187.22 1222.9 L187.46 1221.05 L187.72 1219.26 L188.02 1217.62 L188.34 1216.11 L188.69 1214.68 L189.06 1213.26 L189.46 1211.8 L189.88 1210.26 L190.32 1208.63 L190.79 1206.91 L191.28 1205.13 L191.79 1203.32 L192.32 1201.49 L192.87 1199.65 L193.45 1197.82 L194.04 1196 L194.66 1194.19 L195.29 1192.37 L195.95 1190.57 L196.62 1188.77 L197.32 1186.97 L198.03 1185.18 L198.76 1183.39 L199.51 1181.6 L200.28 1179.8 L201.06 1177.99 L201.87 1176.18 L202.69 1174.35 L203.53 1172.51 L204.38 1170.65 L205.26 1168.78 L206.15 1166.9 L207.06 1165 L207.98 1163.09 L208.92 1161.18 L209.88 1159.25 L210.86 1157.32 L211.85 1155.39 L212.86 1153.47 L213.88 1151.54 L214.92 1149.59 L215.97 1147.64 L217.05 1145.66 L218.13 1143.65 L219.24 1141.61 L220.35 1139.53 L221.49 1137.41 L222.64 1135.25 L223.8 1133.06 L224.98 1130.84 L226.18 1128.6 L227.39 1126.35 L228.61 1124.09 L229.85 1121.83 L231.11 1119.56 L232.37 1117.31 L233.66 1115.07 L234.96 1112.86 L236.27 1110.64 L237.6 1108.43 L238.94 1106.21 L240.3 1103.97 L241.67 1101.71 L243.05 1099.41 L244.45 1097.07 L245.86 1094.67 L247.29 1092.21 L248.73 1089.71 L250.18 1087.16 L251.65 1084.57 L253.13 1081.93 L254.63 1079.24 L256.14 1076.5 L257.66 1073.74 L259.2 1070.93 L260.75 1068.05 L262.31 1065.08 L263.89 1062.02 L265.48 1058.85 L267.08 1055.57 L268.7 1052.13 L270.33 1048.43 L271.97 1044.45 L273.63 1040.24 L275.3 1036.08" fill="none" stroke="#6f6f6f" stroke-width="4.6" stroke-linejoin="round" stroke-linecap="butt"/>
<path d="M153.5 1230.5 L187.66 1230.5 L187.7 1229.96 L187.8 1228.62 L187.93 1226.75 L188.1 1224.69 L188.3 1222.72 L188.54 1220.86 L188.8 1219.06 L189.09 1217.42 L189.41 1215.9 L189.75 1214.46 L190.12 1213.04 L190.51 1211.58 L190.93 1210.04 L191.37 1208.41 L191.83 1206.7 L192.31 1204.94 L192.82 1203.14 L193.34 1201.33 L193.89 1199.5 L194.46 1197.67 L195.04 1195.86 L195.65 1194.06 L196.28 1192.25 L196.93 1190.46 L197.59 1188.67 L198.28 1186.89 L198.98 1185.11 L199.7 1183.33 L200.44 1181.55 L201.2 1179.77 L201.98 1177.97 L202.77 1176.17 L203.58 1174.35 L204.41 1172.53 L205.26 1170.68 L206.12 1168.83 L207 1166.96 L207.9 1165.08 L208.81 1163.18 L209.74 1161.27 L210.69 1159.36 L211.65 1157.44 L212.63 1155.53 L213.62 1153.62 L214.64 1151.7 L215.66 1149.77 L216.7 1147.82 L217.76 1145.85 L218.84 1143.86 L219.93 1141.84 L221.03 1139.78 L222.15 1137.67 L223.29 1135.53 L224.44 1133.36 L225.6 1131.16 L226.78 1128.95 L227.98 1126.71 L229.19 1124.47 L230.41 1122.23 L231.65 1119.99 L232.9 1117.76 L234.17 1115.54 L235.45 1113.34 L236.75 1111.15 L238.06 1108.95 L239.39 1106.75 L240.73 1104.52 L242.08 1102.28 L243.45 1100.01 L244.83 1097.69 L246.22 1095.31 L247.63 1092.88 L249.06 1090.41 L250.49 1087.89 L251.94 1085.32 L253.41 1082.71 L254.88 1080.05 L256.38 1077.34 L257.88 1074.61 L259.4 1071.83 L260.93 1068.99 L262.47 1066.06 L264.03 1063.03 L265.6 1059.9 L267.18 1056.65 L268.78 1053.23 L270.39 1049.54 L272.02 1045.56 L273.65 1041.33 L275.3 1037.15" fill="none" stroke="#696969" stroke-width="4.6" stroke-linejoin="round" stroke-linecap="butt"/>
<path d="M153.5 1230.5 L188.78 1230.5 L188.82 1229.95 L188.92 1228.56 L189.05 1226.64 L189.22 1224.54 L189.42 1222.53 L189.65 1220.66 L189.91 1218.85 L190.2 1217.2 L190.51 1215.68 L190.85 1214.24 L191.21 1212.81 L191.6 1211.35 L192.01 1209.82 L192.44 1208.2 L192.9 1206.5 L193.37 1204.74 L193.87 1202.96 L194.39 1201.16 L194.93 1199.34 L195.49 1197.53 L196.07 1195.72 L196.67 1193.92 L197.29 1192.13 L197.93 1190.34 L198.59 1188.56 L199.26 1186.79 L199.96 1185.03 L200.67 1183.27 L201.4 1181.5 L202.15 1179.73 L202.91 1177.95 L203.7 1176.16 L204.5 1174.36 L205.32 1172.54 L206.15 1170.72 L207 1168.87 L207.87 1167.02 L208.76 1165.15 L209.66 1163.27 L210.58 1161.38 L211.51 1159.47 L212.46 1157.57 L213.43 1155.67 L214.41 1153.77 L215.41 1151.86 L216.42 1149.95 L217.45 1148.01 L218.5 1146.06 L219.56 1144.08 L220.63 1142.07 L221.73 1140.03 L222.83 1137.94 L223.95 1135.82 L225.09 1133.67 L226.24 1131.49 L227.4 1129.3 L228.58 1127.09 L229.78 1124.87 L230.98 1122.65 L232.21 1120.43 L233.45 1118.22 L234.7 1116.02 L235.96 1113.84 L237.24 1111.66 L238.54 1109.49 L239.85 1107.3 L241.17 1105.09 L242.5 1102.87 L243.85 1100.62 L245.22 1098.32 L246.6 1095.97 L247.99 1093.57 L249.39 1091.12 L250.81 1088.63 L252.24 1086.1 L253.69 1083.51 L255.15 1080.88 L256.62 1078.21 L258.1 1075.5 L259.6 1072.76 L261.11 1069.95 L262.64 1067.06 L264.17 1064.07 L265.72 1060.97 L267.29 1057.75 L268.87 1054.36 L270.45 1050.68 L272.06 1046.69 L273.67 1042.44 L275.3 1038.25" fill="none" stroke="#646464" stroke-width="4.6" stroke-linejoin="round" stroke-linecap="butt"/>
<path d="M153.5 1230.5 L189.93 1230.5 L189.97 1229.93 L190.06 1228.5 L190.19 1226.52 L190.36 1224.38 L190.56 1222.34 L190.79 1220.46 L191.04 1218.64 L191.33 1216.98 L191.63 1215.46 L191.97 1214.01 L192.33 1212.58 L192.71 1211.12 L193.11 1209.59 L193.54 1207.97 L193.99 1206.28 L194.46 1204.54 L194.95 1202.77 L195.46 1200.99 L196 1199.18 L196.55 1197.38 L197.12 1195.58 L197.71 1193.79 L198.33 1192 L198.96 1190.23 L199.6 1188.46 L200.27 1186.7 L200.96 1184.95 L201.66 1183.2 L202.38 1181.45 L203.12 1179.69 L203.88 1177.93 L204.65 1176.15 L205.44 1174.36 L206.25 1172.56 L207.07 1170.75 L207.91 1168.92 L208.77 1167.08 L209.64 1165.23 L210.53 1163.36 L211.44 1161.48 L212.36 1159.59 L213.3 1157.7 L214.25 1155.81 L215.22 1153.93 L216.21 1152.03 L217.21 1150.13 L218.22 1148.21 L219.25 1146.27 L220.3 1144.3 L221.36 1142.31 L222.44 1140.28 L223.53 1138.21 L224.63 1136.11 L225.75 1133.98 L226.89 1131.83 L228.04 1129.65 L229.2 1127.47 L230.38 1125.27 L231.57 1123.07 L232.78 1120.88 L234 1118.69 L235.24 1116.51 L236.49 1114.35 L237.75 1112.19 L239.03 1110.03 L240.32 1107.86 L241.62 1105.68 L242.94 1103.48 L244.27 1101.25 L245.62 1098.97 L246.98 1096.65 L248.35 1094.27 L249.74 1091.85 L251.14 1089.39 L252.55 1086.89 L253.97 1084.33 L255.41 1081.73 L256.87 1079.09 L258.33 1076.42 L259.81 1073.71 L261.3 1070.94 L262.8 1068.08 L264.32 1065.13 L265.85 1062.07 L267.4 1058.88 L268.95 1055.51 L270.52 1051.84 L272.1 1047.85 L273.69 1043.59 L275.3 1039.38" fill="none" stroke="#5e5e5e" stroke-width="4.6" stroke-linejoin="round" stroke-linecap="butt"/>
<path d="M153.5 1230.5 L191.11 1230.5 L191.15 1229.91 L191.24 1228.44 L191.37 1226.41 L191.53 1224.21 L191.73 1222.15 L191.95 1220.25 L192.2 1218.42 L192.48 1216.76 L192.79 1215.23 L193.12 1213.78 L193.47 1212.34 L193.85 1210.88 L194.25 1209.35 L194.67 1207.74 L195.11 1206.07 L195.58 1204.34 L196.06 1202.59 L196.57 1200.82 L197.09 1199.02 L197.64 1197.22 L198.2 1195.43 L198.78 1193.65 L199.39 1191.87 L200.01 1190.11 L200.65 1188.35 L201.31 1186.61 L201.98 1184.87 L202.67 1183.13 L203.39 1181.4 L204.11 1179.65 L204.86 1177.9 L205.62 1176.14 L206.4 1174.37 L207.2 1172.58 L208.01 1170.78 L208.84 1168.97 L209.69 1167.14 L210.55 1165.3 L211.43 1163.45 L212.32 1161.59 L213.23 1159.71 L214.15 1157.84 L215.09 1155.96 L216.05 1154.09 L217.02 1152.21 L218.01 1150.32 L219.01 1148.41 L220.03 1146.48 L221.06 1144.53 L222.1 1142.55 L223.17 1140.54 L224.24 1138.49 L225.33 1136.41 L226.44 1134.3 L227.56 1132.17 L228.69 1130.02 L229.84 1127.86 L231 1125.69 L232.18 1123.51 L233.37 1121.34 L234.57 1119.17 L235.79 1117.01 L237.02 1114.87 L238.27 1112.74 L239.53 1110.59 L240.8 1108.44 L242.09 1106.28 L243.39 1104.1 L244.7 1101.89 L246.03 1099.64 L247.37 1097.34 L248.72 1094.99 L250.09 1092.6 L251.47 1090.17 L252.86 1087.7 L254.27 1085.17 L255.69 1082.6 L257.12 1079.99 L258.56 1077.36 L260.02 1074.69 L261.49 1071.95 L262.98 1069.13 L264.47 1066.22 L265.98 1063.2 L267.5 1060.04 L269.04 1056.7 L270.58 1053.04 L272.14 1049.04 L273.72 1044.76 L275.3 1040.54" fill="none" stroke="#595959" stroke-width="4.6" stroke-linejoin="round" stroke-linecap="butt"/>
<path d="M153.5 1230.5 L192.31 1230.5 L192.35 1229.9 L192.44 1228.38 L192.57 1226.29 L192.73 1224.04 L192.92 1221.95 L193.14 1220.03 L193.39 1218.2 L193.67 1216.53 L193.97 1215 L194.29 1213.54 L194.64 1212.1 L195.01 1210.63 L195.41 1209.11 L195.82 1207.51 L196.26 1205.84 L196.72 1204.13 L197.19 1202.39 L197.69 1200.64 L198.21 1198.85 L198.75 1197.06 L199.3 1195.28 L199.88 1193.51 L200.47 1191.74 L201.09 1189.98 L201.72 1188.24 L202.36 1186.51 L203.03 1184.78 L203.71 1183.06 L204.42 1181.34 L205.13 1179.61 L205.87 1177.88 L206.62 1176.13 L207.39 1174.37 L208.17 1172.6 L208.97 1170.82 L209.79 1169.02 L210.62 1167.21 L211.47 1165.38 L212.34 1163.54 L213.22 1161.7 L214.12 1159.84 L215.03 1157.97 L215.96 1156.11 L216.9 1154.25 L217.85 1152.39 L218.83 1150.51 L219.81 1148.61 L220.82 1146.7 L221.83 1144.77 L222.87 1142.8 L223.91 1140.81 L224.97 1138.78 L226.05 1136.72 L227.14 1134.63 L228.24 1132.52 L229.36 1130.4 L230.49 1128.26 L231.63 1126.11 L232.79 1123.96 L233.97 1121.81 L235.15 1119.66 L236.35 1117.53 L237.57 1115.41 L238.8 1113.29 L240.04 1111.17 L241.29 1109.03 L242.56 1106.89 L243.84 1104.73 L245.14 1102.54 L246.45 1100.32 L247.77 1098.05 L249.1 1095.73 L250.45 1093.37 L251.81 1090.97 L253.18 1088.52 L254.57 1086.03 L255.97 1083.49 L257.38 1080.92 L258.8 1078.32 L260.24 1075.68 L261.69 1072.98 L263.15 1070.21 L264.63 1067.33 L266.12 1064.35 L267.62 1061.23 L269.13 1057.91 L270.65 1054.26 L272.19 1050.26 L273.74 1045.96 L275.3 1041.72" fill="none" stroke="#535353" stroke-width="4.6" stroke-linejoin="round" stroke-linecap="butt"/>
<path d="M153.5 1230.5 L193.55 1230.5 L193.58 1229.88 L193.67 1228.32 L193.8 1226.17 L193.96 1223.87 L194.15 1221.74 L194.36 1219.82 L194.61 1217.97 L194.88 1216.3 L195.18 1214.76 L195.5 1213.3 L195.84 1211.85 L196.21 1210.38 L196.59 1208.86 L197 1207.27 L197.43 1205.62 L197.88 1203.92 L198.35 1202.19 L198.85 1200.45 L199.36 1198.68 L199.88 1196.9 L200.43 1195.13 L201 1193.36 L201.59 1191.6 L202.19 1189.86 L202.81 1188.13 L203.45 1186.41 L204.1 1184.7 L204.78 1182.99 L205.47 1181.29 L206.18 1179.57 L206.9 1177.85 L207.64 1176.12 L208.4 1174.38 L209.17 1172.62 L209.96 1170.85 L210.76 1169.07 L211.59 1167.27 L212.42 1165.46 L213.27 1163.64 L214.14 1161.81 L215.03 1159.96 L215.92 1158.12 L216.84 1156.27 L217.77 1154.42 L218.71 1152.57 L219.67 1150.7 L220.64 1148.82 L221.63 1146.92 L222.63 1145.01 L223.64 1143.06 L224.67 1141.08 L225.72 1139.07 L226.78 1137.03 L227.85 1134.97 L228.94 1132.88 L230.04 1130.78 L231.15 1128.66 L232.28 1126.54 L233.42 1124.42 L234.58 1122.29 L235.75 1120.17 L236.93 1118.06 L238.13 1115.96 L239.34 1113.86 L240.56 1111.75 L241.8 1109.64 L243.05 1107.52 L244.31 1105.38 L245.59 1103.22 L246.87 1101.02 L248.18 1098.77 L249.49 1096.48 L250.82 1094.15 L252.16 1091.78 L253.51 1089.37 L254.88 1086.91 L256.26 1084.41 L257.65 1081.86 L259.05 1079.3 L260.46 1076.7 L261.89 1074.04 L263.33 1071.31 L264.79 1068.47 L266.25 1065.53 L267.73 1062.45 L269.22 1059.15 L270.72 1055.51 L272.24 1051.51 L273.76 1047.19 L275.3 1042.93" fill="none" stroke="#4e4e4e" stroke-width="4.6" stroke-linejoin="round" stroke-linecap="butt"/>
<path d="M153.5 1230.5 L194.81 1230.5 L194.84 1229.86 L194.93 1228.26 L195.05 1226.05 L195.21 1223.7 L195.4 1221.54 L195.61 1219.59 L195.85 1217.74 L196.12 1216.06 L196.41 1214.51 L196.73 1213.05 L197.07 1211.6 L197.43 1210.13 L197.81 1208.61 L198.21 1207.02 L198.63 1205.38 L199.08 1203.7 L199.54 1201.99 L200.02 1200.26 L200.53 1198.51 L201.05 1196.74 L201.59 1194.97 L202.15 1193.21 L202.72 1191.46 L203.32 1189.73 L203.93 1188.01 L204.56 1186.3 L205.2 1184.61 L205.87 1182.92 L206.55 1181.23 L207.24 1179.53 L207.95 1177.83 L208.68 1176.11 L209.43 1174.38 L210.19 1172.64 L210.97 1170.89 L211.76 1169.12 L212.57 1167.34 L213.39 1165.55 L214.23 1163.74 L215.09 1161.92 L215.95 1160.09 L216.84 1158.26 L217.74 1156.43 L218.65 1154.59 L219.58 1152.75 L220.52 1150.9 L221.48 1149.04 L222.45 1147.15 L223.44 1145.25 L224.44 1143.32 L225.46 1141.36 L226.48 1139.37 L227.53 1137.35 L228.58 1135.31 L229.65 1133.25 L230.74 1131.17 L231.83 1129.08 L232.95 1126.99 L234.07 1124.89 L235.21 1122.78 L236.36 1120.68 L237.52 1118.6 L238.7 1116.52 L239.89 1114.44 L241.1 1112.35 L242.32 1110.26 L243.55 1108.16 L244.79 1106.04 L246.04 1103.9 L247.31 1101.73 L248.59 1099.51 L249.89 1097.25 L251.2 1094.95 L252.52 1092.62 L253.85 1090.24 L255.19 1087.82 L256.55 1085.34 L257.92 1082.83 L259.3 1080.31 L260.69 1077.75 L262.1 1075.13 L263.52 1072.43 L264.95 1069.64 L266.39 1066.74 L267.85 1063.69 L269.31 1060.42 L270.79 1056.79 L272.28 1052.78 L273.79 1048.44 L275.3 1044.17" fill="none" stroke="#484848" stroke-width="4.6" stroke-linejoin="round" stroke-linecap="butt"/>
<path d="M153.5 1230.5 L196.1 1230.5 L196.13 1229.85 L196.22 1228.19 L196.34 1225.92 L196.49 1223.51 L196.68 1221.32 L196.89 1219.36 L197.13 1217.5 L197.39 1215.81 L197.68 1214.26 L197.99 1212.79 L198.32 1211.34 L198.67 1209.87 L199.05 1208.35 L199.44 1206.77 L199.86 1205.14 L200.3 1203.47 L200.75 1201.78 L201.23 1200.07 L201.72 1198.33 L202.24 1196.57 L202.77 1194.81 L203.32 1193.06 L203.88 1191.32 L204.47 1189.6 L205.07 1187.89 L205.69 1186.2 L206.32 1184.52 L206.98 1182.84 L207.65 1181.17 L208.33 1179.49 L209.03 1177.8 L209.75 1176.1 L210.48 1174.39 L211.23 1172.67 L212 1170.93 L212.78 1169.18 L213.57 1167.41 L214.38 1165.63 L215.21 1163.84 L216.05 1162.04 L216.91 1160.23 L217.78 1158.41 L218.66 1156.59 L219.56 1154.77 L220.47 1152.94 L221.4 1151.11 L222.34 1149.26 L223.3 1147.39 L224.27 1145.5 L225.26 1143.59 L226.25 1141.65 L227.27 1139.68 L228.29 1137.68 L229.33 1135.67 L230.38 1133.63 L231.45 1131.58 L232.53 1129.51 L233.62 1127.44 L234.73 1125.36 L235.85 1123.29 L236.98 1121.21 L238.13 1119.15 L239.29 1117.09 L240.46 1115.03 L241.65 1112.97 L242.84 1110.9 L244.05 1108.81 L245.28 1106.72 L246.51 1104.6 L247.76 1102.46 L249.02 1100.27 L250.3 1098.04 L251.58 1095.77 L252.88 1093.47 L254.19 1091.13 L255.51 1088.74 L256.85 1086.3 L258.2 1083.82 L259.56 1081.33 L260.93 1078.81 L262.31 1076.23 L263.71 1073.58 L265.11 1070.83 L266.53 1067.97 L267.97 1064.96 L269.41 1061.72 L270.86 1058.1 L272.33 1054.09 L273.81 1049.73 L275.3 1045.43" fill="none" stroke="#434343" stroke-width="4.6" stroke-linejoin="round" stroke-linecap="butt"/>
<path d="M153.5 1230.5 L197.41 1230.5 L197.45 1229.83 L197.53 1228.13 L197.65 1225.79 L197.8 1223.33 L197.98 1221.1 L198.19 1219.13 L198.43 1217.26 L198.68 1215.56 L198.97 1214.01 L199.27 1212.53 L199.6 1211.07 L199.95 1209.6 L200.32 1208.09 L200.71 1206.52 L201.12 1204.9 L201.55 1203.25 L201.99 1201.57 L202.46 1199.87 L202.95 1198.15 L203.45 1196.4 L203.97 1194.64 L204.51 1192.9 L205.07 1191.17 L205.65 1189.46 L206.24 1187.77 L206.85 1186.09 L207.47 1184.43 L208.11 1182.77 L208.77 1181.11 L209.44 1179.45 L210.13 1177.77 L210.84 1176.09 L211.56 1174.4 L212.3 1172.69 L213.05 1170.97 L213.82 1169.23 L214.6 1167.48 L215.4 1165.72 L216.21 1163.94 L217.04 1162.16 L217.88 1160.36 L218.73 1158.56 L219.6 1156.76 L220.49 1154.95 L221.39 1153.14 L222.3 1151.32 L223.22 1149.48 L224.16 1147.63 L225.12 1145.76 L226.09 1143.86 L227.07 1141.94 L228.06 1139.99 L229.07 1138.02 L230.1 1136.03 L231.13 1134.01 L232.18 1131.99 L233.24 1129.95 L234.32 1127.9 L235.41 1125.85 L236.51 1123.8 L237.62 1121.75 L238.75 1119.71 L239.89 1117.67 L241.04 1115.64 L242.21 1113.6 L243.38 1111.54 L244.57 1109.48 L245.78 1107.41 L246.99 1105.32 L248.22 1103.2 L249.46 1101.04 L250.71 1098.85 L251.98 1096.61 L253.25 1094.34 L254.54 1092.03 L255.84 1089.68 L257.16 1087.27 L258.48 1084.84 L259.82 1082.38 L261.17 1079.9 L262.53 1077.36 L263.9 1074.75 L265.28 1072.05 L266.68 1069.23 L268.09 1066.26 L269.51 1063.04 L270.94 1059.44 L272.38 1055.42 L273.83 1051.04 L275.3 1046.73" fill="none" stroke="#3d3d3d" stroke-width="4.6" stroke-linejoin="round" stroke-linecap="butt"/>
<path d="M153.5 1230.5 L198.76 1230.5 L198.79 1229.81 L198.88 1228.06 L198.99 1225.66 L199.14 1223.14 L199.32 1220.88 L199.52 1218.89 L199.75 1217.01 L200.01 1215.31 L200.28 1213.75 L200.58 1212.27 L200.91 1210.8 L201.25 1209.33 L201.61 1207.82 L201.99 1206.26 L202.4 1204.65 L202.82 1203.01 L203.26 1201.35 L203.72 1199.67 L204.2 1197.96 L204.69 1196.22 L205.21 1194.48 L205.74 1192.74 L206.28 1191.03 L206.85 1189.32 L207.43 1187.64 L208.03 1185.98 L208.64 1184.33 L209.27 1182.69 L209.92 1181.05 L210.58 1179.4 L211.26 1177.75 L211.95 1176.08 L212.66 1174.4 L213.39 1172.71 L214.12 1171 L214.88 1169.29 L215.65 1167.55 L216.43 1165.81 L217.23 1164.05 L218.04 1162.28 L218.87 1160.5 L219.71 1158.71 L220.56 1156.93 L221.43 1155.13 L222.32 1153.34 L223.21 1151.53 L224.12 1149.71 L225.05 1147.87 L225.99 1146.02 L226.94 1144.14 L227.9 1142.24 L228.88 1140.31 L229.87 1138.36 L230.88 1136.39 L231.89 1134.41 L232.92 1132.41 L233.97 1130.39 L235.02 1128.38 L236.09 1126.35 L237.18 1124.33 L238.27 1122.3 L239.38 1120.28 L240.5 1118.27 L241.63 1116.26 L242.78 1114.24 L243.93 1112.21 L245.1 1110.17 L246.29 1108.12 L247.48 1106.06 L248.69 1103.96 L249.91 1101.83 L251.14 1099.67 L252.38 1097.47 L253.63 1095.23 L254.9 1092.96 L256.18 1090.64 L257.47 1088.27 L258.77 1085.87 L260.09 1083.46 L261.41 1081.01 L262.75 1078.52 L264.1 1075.95 L265.46 1073.29 L266.83 1070.52 L268.21 1067.58 L269.61 1064.4 L271.01 1060.8 L272.43 1056.78 L273.86 1052.38 L275.3 1048.05" fill="none" stroke="#383838" stroke-width="4.6" stroke-linejoin="round" stroke-linecap="butt"/>
<path d="M153.5 1230.5 L200.13 1230.5 L200.17 1229.79 L200.25 1227.99 L200.36 1225.53 L200.51 1222.95 L200.68 1220.65 L200.88 1218.65 L201.11 1216.75 L201.36 1215.05 L201.63 1213.48 L201.92 1212 L202.24 1210.53 L202.58 1209.05 L202.93 1207.54 L203.31 1205.99 L203.7 1204.4 L204.12 1202.77 L204.55 1201.13 L205 1199.47 L205.47 1197.77 L205.96 1196.04 L206.46 1194.31 L206.98 1192.58 L207.52 1190.87 L208.08 1189.18 L208.65 1187.52 L209.24 1185.87 L209.84 1184.24 L210.46 1182.61 L211.09 1180.99 L211.74 1179.36 L212.41 1177.72 L213.09 1176.07 L213.79 1174.41 L214.5 1172.73 L215.22 1171.04 L215.96 1169.34 L216.72 1167.63 L217.49 1165.9 L218.27 1164.15 L219.07 1162.4 L219.88 1160.64 L220.71 1158.87 L221.55 1157.1 L222.4 1155.32 L223.27 1153.54 L224.15 1151.75 L225.04 1149.94 L225.95 1148.12 L226.87 1146.29 L227.8 1144.43 L228.75 1142.55 L229.71 1140.64 L230.69 1138.71 L231.67 1136.77 L232.67 1134.81 L233.68 1132.83 L234.71 1130.85 L235.75 1128.86 L236.8 1126.86 L237.86 1124.87 L238.94 1122.87 L240.02 1120.87 L241.12 1118.88 L242.24 1116.89 L243.36 1114.89 L244.5 1112.88 L245.65 1110.86 L246.81 1108.84 L247.98 1106.8 L249.16 1104.74 L250.36 1102.64 L251.57 1100.51 L252.79 1098.34 L254.02 1096.14 L255.27 1093.9 L256.52 1091.62 L257.79 1089.28 L259.07 1086.92 L260.36 1084.55 L261.66 1082.15 L262.97 1079.7 L264.3 1077.18 L265.63 1074.56 L266.98 1071.83 L268.34 1068.94 L269.71 1065.78 L271.09 1062.2 L272.48 1058.17 L273.89 1053.75 L275.3 1049.39" fill="none" stroke="#323232" stroke-width="4.6" stroke-linejoin="round" stroke-linecap="butt"/>
<path d="M153.5 1230.5 L201.53 1230.5 L201.57 1229.77 L201.65 1227.92 L201.76 1225.39 L201.9 1222.75 L202.07 1220.42 L202.27 1218.4 L202.49 1216.5 L202.74 1214.78 L203 1213.21 L203.29 1211.72 L203.6 1210.24 L203.93 1208.77 L204.28 1207.26 L204.65 1205.72 L205.04 1204.14 L205.45 1202.53 L205.87 1200.9 L206.31 1199.26 L206.77 1197.57 L207.25 1195.86 L207.75 1194.13 L208.26 1192.42 L208.79 1190.72 L209.33 1189.04 L209.89 1187.39 L210.47 1185.76 L211.06 1184.14 L211.67 1182.53 L212.29 1180.93 L212.93 1179.31 L213.58 1177.69 L214.25 1176.06 L214.93 1174.41 L215.63 1172.76 L216.34 1171.08 L217.07 1169.4 L217.81 1167.7 L218.56 1165.99 L219.33 1164.26 L220.12 1162.53 L220.91 1160.78 L221.72 1159.03 L222.55 1157.27 L223.39 1155.51 L224.24 1153.75 L225.1 1151.97 L225.98 1150.18 L226.87 1148.38 L227.77 1146.56 L228.69 1144.72 L229.62 1142.86 L230.56 1140.98 L231.52 1139.07 L232.49 1137.15 L233.47 1135.22 L234.46 1133.27 L235.47 1131.31 L236.48 1129.35 L237.52 1127.38 L238.56 1125.41 L239.61 1123.44 L240.68 1121.47 L241.76 1119.5 L242.85 1117.53 L243.96 1115.56 L245.07 1113.57 L246.2 1111.58 L247.34 1109.58 L248.49 1107.57 L249.65 1105.53 L250.83 1103.46 L252.01 1101.36 L253.21 1099.24 L254.42 1097.07 L255.64 1094.87 L256.87 1092.62 L258.12 1090.32 L259.37 1088 L260.64 1085.67 L261.91 1083.31 L263.2 1080.9 L264.5 1078.43 L265.81 1075.86 L267.14 1073.17 L268.47 1070.32 L269.81 1067.19 L271.17 1063.62 L272.53 1059.58 L273.91 1055.14 L275.3 1050.77" fill="none" stroke="#2c2c2c" stroke-width="4.6" stroke-linejoin="round" stroke-linecap="butt"/>
<path d="M153.5 1230.5 L202.96 1230.5 L202.99 1229.75 L203.07 1227.85 L203.18 1225.25 L203.32 1222.56 L203.49 1220.19 L203.68 1218.14 L203.9 1216.23 L204.14 1214.51 L204.4 1212.93 L204.69 1211.44 L204.99 1209.96 L205.31 1208.48 L205.66 1206.97 L206.02 1205.44 L206.4 1203.88 L206.8 1202.28 L207.22 1200.67 L207.65 1199.05 L208.1 1197.38 L208.57 1195.67 L209.05 1193.95 L209.56 1192.25 L210.07 1190.56 L210.61 1188.9 L211.16 1187.26 L211.72 1185.64 L212.3 1184.04 L212.9 1182.45 L213.51 1180.86 L214.14 1179.27 L214.78 1177.66 L215.43 1176.04 L216.1 1174.42 L216.79 1172.78 L217.48 1171.13 L218.2 1169.46 L218.92 1167.78 L219.66 1166.08 L220.42 1164.38 L221.19 1162.66 L221.97 1160.93 L222.76 1159.19 L223.57 1157.45 L224.39 1155.71 L225.23 1153.96 L226.07 1152.2 L226.93 1150.42 L227.81 1148.64 L228.69 1146.83 L229.59 1145.02 L230.5 1143.18 L231.43 1141.32 L232.37 1139.44 L233.32 1137.54 L234.28 1135.63 L235.25 1133.72 L236.24 1131.79 L237.24 1129.85 L238.25 1127.92 L239.27 1125.97 L240.3 1124.03 L241.35 1122.08 L242.41 1120.14 L243.48 1118.19 L244.56 1116.24 L245.66 1114.27 L246.76 1112.3 L247.88 1110.33 L249.01 1108.35 L250.15 1106.34 L251.3 1104.3 L252.46 1102.24 L253.64 1100.14 L254.82 1098.02 L256.02 1095.85 L257.23 1093.64 L258.45 1091.38 L259.68 1089.1 L260.92 1086.81 L262.17 1084.49 L263.44 1082.13 L264.71 1079.7 L266 1077.18 L267.29 1074.54 L268.6 1071.73 L269.92 1068.63 L271.25 1065.07 L272.59 1061.03 L273.94 1056.57 L275.3 1052.17" fill="none" stroke="#272727" stroke-width="4.6" stroke-linejoin="round" stroke-linecap="butt"/>
<path d="M153.5 1230.5 L204.42 1230.5 L204.45 1229.73 L204.53 1227.78 L204.64 1225.11 L204.77 1222.35 L204.94 1219.94 L205.13 1217.89 L205.34 1215.96 L205.58 1214.23 L205.83 1212.65 L206.11 1211.15 L206.41 1209.66 L206.72 1208.18 L207.06 1206.68 L207.41 1205.16 L207.79 1203.61 L208.18 1202.03 L208.59 1200.44 L209.01 1198.83 L209.45 1197.17 L209.91 1195.48 L210.39 1193.77 L210.88 1192.08 L211.39 1190.4 L211.91 1188.75 L212.45 1187.12 L213 1185.52 L213.57 1183.94 L214.16 1182.36 L214.75 1180.8 L215.37 1179.22 L216 1177.63 L216.64 1176.03 L217.29 1174.43 L217.96 1172.8 L218.65 1171.17 L219.35 1169.52 L220.06 1167.86 L220.78 1166.18 L221.52 1164.49 L222.28 1162.79 L223.04 1161.08 L223.82 1159.36 L224.61 1157.64 L225.42 1155.91 L226.23 1154.17 L227.06 1152.43 L227.91 1150.67 L228.76 1148.9 L229.63 1147.12 L230.51 1145.32 L231.41 1143.5 L232.31 1141.66 L233.23 1139.81 L234.16 1137.94 L235.1 1136.06 L236.06 1134.17 L237.02 1132.27 L238 1130.37 L238.99 1128.46 L240 1126.54 L241.01 1124.62 L242.04 1122.7 L243.07 1120.79 L244.12 1118.86 L245.18 1116.93 L246.25 1114.99 L247.34 1113.04 L248.43 1111.1 L249.54 1109.14 L250.65 1107.16 L251.78 1105.16 L252.92 1103.13 L254.07 1101.07 L255.24 1098.98 L256.41 1096.85 L257.59 1094.68 L258.79 1092.46 L259.99 1090.22 L261.21 1087.97 L262.44 1085.7 L263.68 1083.38 L264.93 1081 L266.18 1078.53 L267.46 1075.93 L268.74 1073.16 L270.03 1070.09 L271.33 1066.55 L272.64 1062.5 L273.97 1058.02 L275.3 1053.6" fill="none" stroke="#212121" stroke-width="4.6" stroke-linejoin="round" stroke-linecap="butt"/>
<path d="M153.5 1230.5 L205.9 1230.5 L205.94 1229.71 L206.01 1227.7 L206.12 1224.96 L206.25 1222.14 L206.41 1219.7 L206.6 1217.62 L206.81 1215.69 L207.04 1213.95 L207.29 1212.36 L207.56 1210.85 L207.85 1209.36 L208.16 1207.88 L208.49 1206.38 L208.84 1204.87 L209.2 1203.33 L209.59 1201.77 L209.98 1200.2 L210.4 1198.61 L210.83 1196.97 L211.28 1195.28 L211.75 1193.59 L212.23 1191.9 L212.73 1190.23 L213.24 1188.6 L213.77 1186.98 L214.31 1185.4 L214.87 1183.83 L215.44 1182.28 L216.02 1180.73 L216.62 1179.17 L217.24 1177.6 L217.87 1176.02 L218.51 1174.43 L219.17 1172.83 L219.84 1171.21 L220.52 1169.58 L221.22 1167.94 L221.93 1166.28 L222.65 1164.61 L223.39 1162.93 L224.14 1161.23 L224.9 1159.53 L225.67 1157.82 L226.46 1156.11 L227.26 1154.39 L228.08 1152.66 L228.9 1150.92 L229.74 1149.17 L230.59 1147.41 L231.45 1145.63 L232.33 1143.83 L233.21 1142.02 L234.11 1140.19 L235.02 1138.35 L235.95 1136.49 L236.88 1134.63 L237.83 1132.76 L238.78 1130.89 L239.75 1129.01 L240.74 1127.12 L241.73 1125.23 L242.73 1123.34 L243.75 1121.45 L244.77 1119.55 L245.81 1117.64 L246.86 1115.72 L247.92 1113.8 L248.99 1111.88 L250.08 1109.95 L251.17 1108 L252.28 1106.03 L253.39 1104.04 L254.52 1102.02 L255.66 1099.97 L256.8 1097.88 L257.96 1095.74 L259.13 1093.56 L260.31 1091.36 L261.51 1089.15 L262.71 1086.93 L263.92 1084.66 L265.14 1082.33 L266.38 1079.9 L267.62 1077.36 L268.87 1074.63 L270.14 1071.59 L271.41 1068.06 L272.7 1064 L273.99 1059.5 L275.3 1055.06" fill="none" stroke="#1c1c1c" stroke-width="4.6" stroke-linejoin="round" stroke-linecap="butt"/>
<path d="M153.5 1230.5 L207.42 1230.5 L207.45 1229.69 L207.52 1227.62 L207.63 1224.82 L207.76 1221.93 L207.91 1219.45 L208.1 1217.35 L208.3 1215.41 L208.52 1213.66 L208.77 1212.07 L209.04 1210.55 L209.32 1209.06 L209.62 1207.57 L209.95 1206.08 L210.29 1204.57 L210.64 1203.05 L211.02 1201.51 L211.41 1199.95 L211.82 1198.38 L212.24 1196.76 L212.68 1195.09 L213.13 1193.4 L213.61 1191.72 L214.09 1190.07 L214.59 1188.44 L215.11 1186.85 L215.64 1185.28 L216.18 1183.73 L216.74 1182.19 L217.32 1180.66 L217.9 1179.12 L218.5 1177.57 L219.12 1176.01 L219.75 1174.44 L220.39 1172.85 L221.05 1171.25 L221.71 1169.64 L222.4 1168.02 L223.09 1166.38 L223.8 1164.72 L224.52 1163.06 L225.25 1161.39 L226 1159.71 L226.76 1158.02 L227.53 1156.32 L228.31 1154.62 L229.11 1152.9 L229.91 1151.18 L230.73 1149.44 L231.56 1147.7 L232.41 1145.94 L233.26 1144.17 L234.13 1142.38 L235.01 1140.57 L235.9 1138.76 L236.8 1136.94 L237.72 1135.1 L238.64 1133.26 L239.58 1131.42 L240.53 1129.57 L241.49 1127.71 L242.46 1125.85 L243.44 1123.99 L244.44 1122.12 L245.44 1120.24 L246.46 1118.36 L247.48 1116.47 L248.52 1114.57 L249.57 1112.67 L250.63 1110.77 L251.7 1108.86 L252.78 1106.92 L253.87 1104.96 L254.97 1102.98 L256.08 1100.97 L257.21 1098.92 L258.34 1096.82 L259.49 1094.68 L260.64 1092.52 L261.81 1090.36 L262.98 1088.18 L264.17 1085.96 L265.36 1083.67 L266.57 1081.3 L267.79 1078.8 L269.01 1076.12 L270.25 1073.11 L271.5 1069.59 L272.76 1065.53 L274.02 1061.01 L275.3 1056.55" fill="none" stroke="#161616" stroke-width="4.6" stroke-linejoin="round" stroke-linecap="butt"/>
<path d="M153.5 1230.5 L208.96 1230.5 L208.99 1229.67 L209.06 1227.55 L209.16 1224.67 L209.29 1221.72 L209.44 1219.19 L209.62 1217.08 L209.82 1215.12 L210.04 1213.37 L210.28 1211.77 L210.54 1210.25 L210.82 1208.75 L211.12 1207.26 L211.43 1205.77 L211.76 1204.27 L212.11 1202.77 L212.48 1201.24 L212.86 1199.71 L213.26 1198.15 L213.67 1196.54 L214.1 1194.89 L214.55 1193.21 L215.01 1191.54 L215.48 1189.9 L215.97 1188.28 L216.47 1186.7 L216.99 1185.15 L217.53 1183.62 L218.07 1182.1 L218.63 1180.59 L219.21 1179.07 L219.79 1177.54 L220.39 1175.99 L221.01 1174.45 L221.64 1172.88 L222.28 1171.3 L222.93 1169.71 L223.6 1168.1 L224.28 1166.48 L224.97 1164.85 L225.67 1163.2 L226.39 1161.55 L227.12 1159.88 L227.86 1158.21 L228.61 1156.53 L229.38 1154.85 L230.15 1153.15 L230.94 1151.44 L231.74 1149.72 L232.56 1148 L233.38 1146.26 L234.22 1144.51 L235.07 1142.74 L235.93 1140.96 L236.8 1139.18 L237.68 1137.39 L238.57 1135.58 L239.48 1133.78 L240.39 1131.96 L241.32 1130.14 L242.26 1128.32 L243.21 1126.48 L244.17 1124.65 L245.14 1122.8 L246.12 1120.95 L247.11 1119.09 L248.11 1117.22 L249.13 1115.35 L250.15 1113.48 L251.19 1111.61 L252.23 1109.73 L253.29 1107.83 L254.36 1105.91 L255.43 1103.96 L256.52 1101.99 L257.62 1099.98 L258.73 1097.93 L259.85 1095.82 L260.97 1093.71 L262.11 1091.59 L263.26 1089.45 L264.42 1087.28 L265.59 1085.05 L266.77 1082.73 L267.96 1080.28 L269.16 1077.64 L270.37 1074.66 L271.58 1071.16 L272.81 1067.09 L274.05 1062.54 L275.3 1058.06" fill="none" stroke="#111111" stroke-width="4.6" stroke-linejoin="round" stroke-linecap="butt"/>
<path d="M153.5 1230.5 L210.53 1230.5 L210.56 1229.65 L210.63 1227.47 L210.73 1224.51 L210.85 1221.5 L211 1218.93 L211.17 1216.8 L211.37 1214.83 L211.58 1213.07 L211.82 1211.47 L212.07 1209.94 L212.34 1208.43 L212.63 1206.94 L212.94 1205.46 L213.27 1203.97 L213.61 1202.48 L213.96 1200.97 L214.34 1199.45 L214.73 1197.92 L215.13 1196.33 L215.55 1194.68 L215.98 1193.01 L216.43 1191.35 L216.9 1189.72 L217.37 1188.12 L217.87 1186.56 L218.37 1185.02 L218.89 1183.51 L219.43 1182.01 L219.97 1180.52 L220.53 1179.02 L221.11 1177.51 L221.69 1175.98 L222.29 1174.45 L222.91 1172.91 L223.53 1171.34 L224.17 1169.77 L224.82 1168.19 L225.48 1166.58 L226.16 1164.97 L226.85 1163.34 L227.54 1161.71 L228.26 1160.06 L228.98 1158.41 L229.72 1156.75 L230.46 1155.08 L231.22 1153.4 L231.99 1151.71 L232.77 1150.01 L233.57 1148.3 L234.37 1146.59 L235.19 1144.86 L236.02 1143.12 L236.86 1141.37 L237.71 1139.61 L238.57 1137.85 L239.44 1136.07 L240.32 1134.3 L241.22 1132.51 L242.12 1130.73 L243.04 1128.93 L243.96 1127.13 L244.9 1125.32 L245.85 1123.5 L246.81 1121.68 L247.78 1119.84 L248.76 1118 L249.75 1116.15 L250.75 1114.31 L251.76 1112.47 L252.78 1110.62 L253.81 1108.75 L254.85 1106.87 L255.9 1104.96 L256.96 1103.03 L258.04 1101.06 L259.12 1099.05 L260.21 1096.99 L261.31 1094.91 L262.42 1092.84 L263.55 1090.75 L264.68 1088.63 L265.82 1086.45 L266.97 1084.18 L268.13 1081.78 L269.3 1079.18 L270.48 1076.24 L271.67 1072.75 L272.87 1068.68 L274.08 1064.11 L275.3 1059.6" fill="none" stroke="#0b0b0b" stroke-width="4.6" stroke-linejoin="round" stroke-linecap="butt"/>
<path d="M153.5 1230.5 L212.12 1230.5 L212.15 1229.63 L212.22 1227.39 L212.32 1224.36 L212.44 1221.27 L212.59 1218.67 L212.76 1216.52 L212.95 1214.54 L213.16 1212.77 L213.38 1211.16 L213.63 1209.62 L213.9 1208.11 L214.18 1206.62 L214.48 1205.14 L214.79 1203.66 L215.13 1202.18 L215.48 1200.69 L215.84 1199.19 L216.22 1197.68 L216.61 1196.1 L217.02 1194.47 L217.45 1192.81 L217.88 1191.16 L218.34 1189.55 L218.8 1187.96 L219.28 1186.41 L219.78 1184.89 L220.28 1183.4 L220.8 1181.92 L221.34 1180.45 L221.88 1178.97 L222.44 1177.47 L223.02 1175.97 L223.6 1174.46 L224.2 1172.93 L224.81 1171.39 L225.43 1169.84 L226.06 1168.27 L226.71 1166.69 L227.37 1165.09 L228.04 1163.49 L228.72 1161.87 L229.42 1160.24 L230.12 1158.61 L230.84 1156.96 L231.57 1155.31 L232.31 1153.65 L233.06 1151.98 L233.82 1150.3 L234.6 1148.61 L235.38 1146.92 L236.18 1145.21 L236.99 1143.5 L237.8 1141.77 L238.63 1140.05 L239.47 1138.31 L240.32 1136.57 L241.19 1134.83 L242.06 1133.08 L242.94 1131.32 L243.83 1129.55 L244.74 1127.78 L245.65 1126 L246.58 1124.21 L247.51 1122.41 L248.46 1120.6 L249.41 1118.78 L250.38 1116.96 L251.35 1115.15 L252.34 1113.34 L253.33 1111.52 L254.34 1109.69 L255.36 1107.84 L256.38 1105.98 L257.42 1104.08 L258.46 1102.16 L259.52 1100.19 L260.58 1098.17 L261.66 1096.14 L262.74 1094.11 L263.84 1092.07 L264.94 1090 L266.05 1087.87 L267.18 1085.65 L268.31 1083.31 L269.45 1080.76 L270.6 1077.85 L271.76 1074.37 L272.93 1070.29 L274.11 1065.7 L275.3 1061.17" fill="none" stroke="#060606" stroke-width="4.6" stroke-linejoin="round" stroke-linecap="butt"/>
<path d="M153.5 1230.5 L213.75 1230.5 L213.78 1229.61 L213.84 1227.31 L213.94 1224.2 L214.06 1221.05 L214.2 1218.4 L214.37 1216.23 L214.55 1214.24 L214.75 1212.46 L214.98 1210.84 L215.22 1209.3 L215.48 1207.78 L215.75 1206.29 L216.04 1204.81 L216.35 1203.34 L216.68 1201.88 L217.01 1200.41 L217.37 1198.93 L217.74 1197.44 L218.12 1195.88 L218.52 1194.26 L218.93 1192.61 L219.36 1190.97 L219.8 1189.37 L220.26 1187.79 L220.72 1186.26 L221.2 1184.76 L221.7 1183.29 L222.21 1181.83 L222.73 1180.37 L223.26 1178.91 L223.8 1177.44 L224.36 1175.96 L224.93 1174.47 L225.51 1172.96 L226.11 1171.44 L226.71 1169.9 L227.33 1168.36 L227.96 1166.8 L228.6 1165.22 L229.26 1163.64 L229.92 1162.04 L230.6 1160.43 L231.28 1158.81 L231.98 1157.19 L232.69 1155.55 L233.41 1153.91 L234.15 1152.26 L234.89 1150.6 L235.64 1148.93 L236.41 1147.26 L237.19 1145.57 L237.97 1143.88 L238.77 1142.19 L239.58 1140.49 L240.4 1138.79 L241.22 1137.08 L242.06 1135.36 L242.91 1133.65 L243.77 1131.92 L244.64 1130.19 L245.52 1128.45 L246.41 1126.69 L247.31 1124.93 L248.23 1123.16 L249.15 1121.37 L250.08 1119.58 L251.02 1117.79 L251.97 1116 L252.93 1114.22 L253.9 1112.44 L254.88 1110.65 L255.87 1108.84 L256.87 1107.01 L257.88 1105.16 L258.9 1103.28 L259.92 1101.35 L260.96 1099.37 L262.01 1097.39 L263.07 1095.41 L264.13 1093.42 L265.21 1091.4 L266.29 1089.32 L267.38 1087.16 L268.49 1084.86 L269.6 1082.36 L270.72 1079.49 L271.85 1076.02 L272.99 1071.94 L274.14 1067.32 L275.3 1062.76" fill="none" stroke="#000000" stroke-width="4.6" stroke-linejoin="round" stroke-linecap="butt"/>
<line x1="147.4" y1="1012.4" x2="147.4" y2="1230.5" stroke="#000" stroke-width="3.33" stroke-linecap="square"/>
<line x1="147.4" y1="1230.5" x2="281.1" y2="1230.5" stroke="#000" stroke-width="3.33" stroke-linecap="square"/>
<line x1="147.4" y1="1230.5" x2="161.98" y2="1230.5" stroke="#000" stroke-width="3.33" stroke-linecap="butt"/>
<text transform="translate(117.48 1240.4) scale(0.9960 1)" font-size="26.55">0</text>
<line x1="147.4" y1="1139.33" x2="161.98" y2="1139.33" stroke="#000" stroke-width="3.33" stroke-linecap="butt"/>
<text transform="translate(101.85 1149.23) scale(1.0307 1)" font-size="26.55">50</text>
<line x1="147.4" y1="1048.15" x2="161.98" y2="1048.15" stroke="#000" stroke-width="3.33" stroke-linecap="butt"/>
<text transform="translate(85.76 1058.05) scale(1.0493 1)" font-size="26.55">100</text>
<line x1="153.5" y1="1230.5" x2="153.5" y2="1215.92" stroke="#000" stroke-width="3.33" stroke-linecap="butt"/>
<text transform="translate(146.11 1264) scale(0.9960 1)" font-size="26.55">0</text>
<line x1="275.3" y1="1230.5" x2="275.3" y2="1215.92" stroke="#000" stroke-width="3.33" stroke-linecap="butt"/>
<text transform="translate(268.21 1264) scale(0.9472 1)" font-size="26.55">1</text>
<text transform="translate(123.85 1307.8) scale(1.0780 1)" font-size="30.97">Current [nA]</text>
<text transform="translate(61.1 0) rotate(-90) translate(-1232.18 0) scale(1.0455 1)" font-size="30.97">Frequency [Hz]</text>
<path d="M447.77 139.41 L448.68 141.87 L449.92 145.17 L451.4 149.12 L453.03 153.54 L454.72 158.21 L456.4 162.95 L458.04 167.79 L459.71 172.89 L461.45 178.25 L463.29 183.87 L465.25 189.76 L467.38 195.9 L469.69 202.49 L472.15 209.56 L474.74 216.89 L477.44 224.26 L480.22 231.46 L483.07 238.27 L486.16 244.92 L489.52 251.64 L492.98 258.18 L496.32 264.31 L499.36 269.78 L501.9 274.36 L503.77 277.7 L505.1 279.94 L506.12 281.52 L507.08 282.9 L508.2 284.55 L509.75 286.91 L511.74 290.08 L513.99 293.71 L516.42 297.6 L518.93 301.56 L521.44 305.38 L523.87 308.88 L526.21 312.07 L528.52 315.1 L530.83 318 L533.17 320.79 L535.55 323.5 L537.99 326.14 L540.55 328.73 L543.22 331.25 L545.94 333.69 L548.63 336.02 L551.23 338.22 L553.68 340.26 L556 342.14 L558.25 343.87 L560.4 345.46 L562.46 346.95 L564.41 348.34 L566.24 349.68 L568 350.98 L569.72 352.23 L571.34 353.4 L572.77 354.44 L573.97 355.31 L574.87 355.95" fill="none" stroke="#5a3a9f" stroke-width="3.75" stroke-linejoin="round" stroke-linecap="butt" stroke-opacity="0.5" clip-path="url(#clipmid0)"/>
<path d="M442.28 147.26 L443.23 149.51 L444.48 152.49 L446 156.09 L447.74 160.16 L449.65 164.59 L451.69 169.23 L453.94 174.25 L456.46 179.81 L459.14 185.7 L461.92 191.78 L464.69 197.85 L467.38 203.75 L469.96 209.48 L472.5 215.2 L475.03 220.91 L477.61 226.65 L480.28 232.43 L483.07 238.27 L486.1 244.38 L489.35 250.76 L492.68 257.2 L495.98 263.43 L499.09 269.23 L501.9 274.36 L504.32 278.67 L506.44 282.32 L508.38 285.54 L510.27 288.54 L512.25 291.54 L514.46 294.76 L516.89 298.23 L519.45 301.79 L522.11 305.35 L524.8 308.82 L527.5 312.12 L530.15 315.16 L532.76 317.91 L535.38 320.44 L537.99 322.81 L540.61 325.04 L543.22 327.18 L545.84 329.28 L548.48 331.33 L551.16 333.29 L553.83 335.16 L556.47 336.95 L559.05 338.65 L561.53 340.26 L564.04 341.84 L566.64 343.4 L569.18 344.87 L571.5 346.19 L573.44 347.29 L574.87 348.11" fill="none" stroke="#893678" stroke-width="3.75" stroke-linejoin="round" stroke-linecap="butt" stroke-opacity="0.5" clip-path="url(#clipmid0)"/>
<path d="M453.26 179.43 L454.78 182.56 L456.86 186.87 L459.34 191.98 L462.04 197.53 L464.77 203.15 L467.38 208.46 L469.87 213.53 L472.38 218.68 L474.93 223.9 L477.55 229.17 L480.26 234.49 L483.07 239.84 L486.16 245.48 L489.52 251.49 L492.98 257.54 L496.32 263.32 L499.36 268.51 L501.9 272.79 L503.77 275.94 L505.1 278.17 L506.12 279.8 L507.08 281.19 L508.2 282.66 L509.75 284.56 L511.74 286.89 L513.99 289.38 L516.42 291.96 L518.93 294.55 L521.44 297.08 L523.87 299.46 L526.21 301.73 L528.52 303.94 L530.83 306.08 L533.17 308.15 L535.55 310.13 L537.99 312.02 L540.45 313.77 L542.9 315.39 L545.4 316.92 L547.99 318.41 L550.73 319.9 L553.68 321.43 L557.14 323.11 L561.12 324.92 L565.26 326.73 L569.17 328.41 L572.5 329.82 L574.87 330.85" fill="none" stroke="#138b9b" stroke-width="3.75" stroke-linejoin="round" stroke-linecap="butt" stroke-opacity="0.5" clip-path="url(#clipmid0)"/>
<path d="M442.28 192.76 L443.23 194.91 L444.48 197.82 L446 201.3 L447.74 205.14 L449.65 209.16 L451.69 213.16 L453.94 217.32 L456.46 221.82 L459.14 226.5 L461.92 231.18 L464.69 235.68 L467.38 239.84 L469.96 243.64 L472.5 247.22 L475.03 250.63 L477.61 253.9 L480.28 257.09 L483.07 260.24 L486.16 263.43 L489.52 266.66 L492.98 269.8 L496.32 272.73 L499.36 275.34 L501.9 277.5 L503.7 279.07 L504.87 280.11 L505.73 280.83 L506.61 281.42 L507.84 282.07 L509.75 282.99 L512.39 284.19 L515.5 285.52 L518.97 286.91 L522.65 288.31 L526.42 289.64 L530.15 290.83 L533.92 291.91 L537.85 292.93 L541.87 293.87 L545.9 294.76 L549.86 295.57 L553.68 296.33 L557.6 297.02 L561.7 297.66 L565.75 298.24 L569.46 298.74 L572.59 299.15 L574.87 299.46" fill="none" stroke="#4b8a1b" stroke-width="3.75" stroke-linejoin="round" stroke-linecap="butt" stroke-opacity="0.5" clip-path="url(#clipmid0)"/>
<path d="M445.41 222.58 L445.99 223.48 L446.69 224.61 L447.57 226.01 L448.67 227.69 L450.03 229.68 L451.69 231.99 L453.76 234.83 L456.22 238.21 L458.95 241.9 L461.8 245.65 L464.66 249.23 L467.38 252.39 L469.96 255.14 L472.5 257.65 L475.03 259.99 L477.61 262.21 L480.28 264.37 L483.07 266.51 L486.16 268.69 L489.52 270.87 L492.98 272.99 L496.32 274.97 L499.36 276.76 L501.9 278.28 L503.7 279.46 L504.87 280.32 L505.73 280.98 L506.61 281.57 L507.84 282.2 L509.75 282.99 L512.14 283.95 L514.72 284.99 L517.64 286.08 L521.08 287.17 L525.19 288.25 L530.15 289.27 L536.71 290.29 L544.91 291.36 L553.78 292.4 L562.37 293.36 L569.72 294.17 L574.87 294.76" fill="none" stroke="#2062a8" stroke-width="3.75" stroke-linejoin="round" stroke-linecap="butt" stroke-opacity="0.5" clip-path="url(#clipmid0)"/>
<path d="M442.28 249.25 L443.23 249.71 L444.48 250.3 L446 251.02 L447.74 251.87 L449.65 252.85 L451.69 253.96 L453.94 255.27 L456.46 256.78 L459.14 258.42 L461.92 260.12 L464.69 261.8 L467.38 263.38 L469.96 264.87 L472.5 266.34 L475.03 267.79 L477.61 269.22 L480.28 270.62 L483.07 272.01 L486.16 273.41 L489.52 274.85 L492.98 276.27 L496.32 277.61 L499.36 278.82 L501.9 279.85 L503.7 280.63 L504.87 281.19 L505.73 281.62 L506.61 282 L507.84 282.43 L509.75 282.99 L512.14 283.67 L514.72 284.41 L517.64 285.2 L521.08 286.01 L525.19 286.85 L530.15 287.7 L536.71 288.63 L544.91 289.67 L553.78 290.74 L562.37 291.74 L569.72 292.58 L574.87 293.19" fill="none" stroke="#a9b722" stroke-width="3.75" stroke-linejoin="round" stroke-linecap="butt" stroke-opacity="0.5" clip-path="url(#clipmid0)"/>
<path d="M441.49 231.21 L442.54 232.44 L443.93 234.11 L445.61 236.11 L447.51 238.33 L449.56 240.65 L451.69 242.98 L453.99 245.41 L456.51 248.06 L459.19 250.82 L461.95 253.58 L464.7 256.23 L467.38 258.67 L469.96 260.88 L472.5 262.97 L475.03 264.94 L477.61 266.83 L480.28 268.66 L483.07 270.44 L486.16 272.21 L489.52 273.98 L492.98 275.68 L496.32 277.26 L499.36 278.67 L501.9 279.85 L503.7 280.73 L504.87 281.33 L505.73 281.76 L506.61 282.12 L507.84 282.49 L509.75 282.99 L512.39 283.62 L515.5 284.3 L518.97 285 L522.65 285.69 L526.42 286.34 L530.15 286.91 L533.92 287.4 L537.85 287.84 L541.87 288.24 L545.9 288.6 L549.86 288.94 L553.68 289.27 L557.6 289.59 L561.7 289.9 L565.75 290.2 L569.46 290.46 L572.59 290.67 L574.87 290.83" fill="none" stroke="#f3821f" stroke-width="8.5" stroke-linejoin="round" stroke-linecap="butt" clip-path="url(#clipmid0)"/>
<line x1="441.5" y1="139.2" x2="441.5" y2="357.3" stroke="#000" stroke-width="3.33" stroke-linecap="square"/>
<line x1="441.5" y1="170.2" x2="456.08" y2="170.2" stroke="#000" stroke-width="3.33" stroke-linecap="butt"/>
<text transform="translate(387.67 180.1) scale(1.0468 1)" font-size="26.55">0.4</text>
<line x1="441.5" y1="226.2" x2="456.08" y2="226.2" stroke="#000" stroke-width="3.33" stroke-linecap="butt"/>
<text transform="translate(387.69 236.1) scale(1.0323 1)" font-size="26.55">0.2</text>
<line x1="441.5" y1="282.2" x2="456.08" y2="282.2" stroke="#000" stroke-width="3.33" stroke-linecap="butt"/>
<text transform="translate(387.67 292.1) scale(1.0476 1)" font-size="26.55">0.0</text>
<line x1="441.5" y1="338.2" x2="456.08" y2="338.2" stroke="#000" stroke-width="3.33" stroke-linecap="butt"/>
<text transform="translate(367.35 348.1) scale(1.1178 1)" font-size="26.55">−0.2</text>
<line x1="441.5" y1="357.3" x2="441.5" y2="342.72" stroke="#000" stroke-width="3.33" stroke-linecap="butt"/>
<text transform="translate(416.24 390.8) scale(1.1366 1)" font-size="26.55">−10</text>
<line x1="508.25" y1="357.3" x2="508.25" y2="342.72" stroke="#000" stroke-width="3.33" stroke-linecap="butt"/>
<text transform="translate(500.86 390.8) scale(0.9960 1)" font-size="26.55">0</text>
<text transform="translate(559.78 390.8) scale(1.0362 1)" font-size="26.55">10</text>
<rect x="441.5" y="349.4" width="133.5" height="8" fill="url(#gbar)" fill-opacity="0.8"/>
<line x1="575" y1="357.3" x2="575" y2="342.72" stroke="#000" stroke-width="3.33" stroke-linecap="butt"/>
<text transform="translate(358.4 0) rotate(-90) translate(-370.41 0) scale(1.0344 1)" font-size="30.97">Δ Rheobase (nA)</text>
<text transform="translate(472.89 435.8) scale(0.9798 1)" font-size="30.97">ΔV</text>
<text transform="translate(513.71 440.1) scale(1.0404 1)" font-size="21.66">1/2</text>
<path d="M441.5 627.52 L444.84 627.46 L448.18 627.45 L451.51 627.49 L454.85 627.59 L458.19 627.74 L461.52 627.94 L464.86 628.2 L468.2 628.51 L471.54 628.87 L474.88 629.28 L478.21 629.75 L481.55 630.26 L484.89 630.83 L488.23 631.46 L491.56 632.13 L494.9 632.86 L498.24 633.64 L501.57 634.48 L504.91 635.36 L508.25 636.3 L511.59 637.29 L514.92 638.33 L518.26 639.43 L521.6 640.58 L524.94 641.78 L528.27 643.03 L531.61 644.34 L534.95 645.7 L538.29 647.11 L541.62 648.57 L544.96 650.09 L548.3 651.66 L551.64 653.28 L554.98 654.95 L558.31 656.68 L561.65 658.46 L564.99 660.29 L568.33 662.18 L571.66 664.11 L575 666.1" fill="none" stroke="#4b8a1b" stroke-width="3.75" stroke-linejoin="round" stroke-linecap="butt" stroke-opacity="0.5" clip-path="url(#clipmid1)"/>
<path d="M441.5 626.98 L444.84 627.07 L448.18 627.2 L451.51 627.37 L454.85 627.58 L458.19 627.83 L461.52 628.12 L464.86 628.45 L468.2 628.82 L471.54 629.22 L474.88 629.67 L478.21 630.16 L481.55 630.68 L484.89 631.25 L488.23 631.85 L491.56 632.49 L494.9 633.18 L498.24 633.9 L501.57 634.66 L504.91 635.46 L508.25 636.3 L511.59 637.18 L514.92 638.1 L518.26 639.06 L521.6 640.06 L524.94 641.09 L528.27 642.17 L531.61 643.29 L534.95 644.44 L538.29 645.64 L541.62 646.87 L544.96 648.14 L548.3 649.46 L551.64 650.81 L554.98 652.2 L558.31 653.63 L561.65 655.1 L564.99 656.61 L568.33 658.16 L571.66 659.75 L575 661.38" fill="none" stroke="#2062a8" stroke-width="3.75" stroke-linejoin="round" stroke-linecap="butt" stroke-opacity="0.5" clip-path="url(#clipmid1)"/>
<path d="M441.5 630.51 L444.84 630.5 L448.18 630.53 L451.51 630.58 L454.85 630.67 L458.19 630.79 L461.52 630.93 L464.86 631.11 L468.2 631.32 L471.54 631.57 L474.88 631.84 L478.21 632.15 L481.55 632.48 L484.89 632.85 L488.23 633.25 L491.56 633.68 L494.9 634.14 L498.24 634.63 L501.57 635.16 L504.91 635.71 L508.25 636.3 L511.59 636.92 L514.92 637.57 L518.26 638.25 L521.6 638.96 L524.94 639.7 L528.27 640.48 L531.61 641.28 L534.95 642.12 L538.29 642.99 L541.62 643.89 L544.96 644.82 L548.3 645.78 L551.64 646.78 L554.98 647.8 L558.31 648.86 L561.65 649.95 L564.99 651.06 L568.33 652.21 L571.66 653.4 L575 654.61" fill="none" stroke="#f3821f" stroke-width="3.75" stroke-linejoin="round" stroke-linecap="butt" stroke-opacity="0.5" clip-path="url(#clipmid1)"/>
<path d="M441.5 623.49 L444.84 624.11 L448.18 624.72 L451.51 625.34 L454.85 625.97 L458.19 626.59 L461.52 627.22 L464.86 627.85 L468.2 628.48 L471.54 629.12 L474.88 629.76 L478.21 630.4 L481.55 631.04 L484.89 631.69 L488.23 632.34 L491.56 632.99 L494.9 633.65 L498.24 634.31 L501.57 634.97 L504.91 635.63 L508.25 636.3 L511.59 636.97 L514.92 637.64 L518.26 638.32 L521.6 638.99 L524.94 639.68 L528.27 640.36 L531.61 641.04 L534.95 641.73 L538.29 642.43 L541.62 643.12 L544.96 643.82 L548.3 644.52 L551.64 645.22 L554.98 645.92 L558.31 646.63 L561.65 647.34 L564.99 648.06 L568.33 648.77 L571.66 649.49 L575 650.22" fill="none" stroke="#a9b722" stroke-width="3.75" stroke-linejoin="round" stroke-linecap="butt" stroke-opacity="0.5" clip-path="url(#clipmid1)"/>
<path d="M441.5 787.69 L444.84 777.94 L448.18 768.42 L451.51 759.13 L454.85 750.07 L458.19 741.24 L461.52 732.64 L464.86 724.26 L468.2 716.12 L471.54 708.21 L474.88 700.52 L478.21 693.07 L481.55 685.84 L484.89 678.85 L488.23 672.08 L491.56 665.54 L494.9 659.24 L498.24 653.16 L501.57 647.31 L504.91 641.69 L508.25 636.3 L511.59 631.14 L514.92 626.21 L518.26 621.51 L521.6 617.04 L524.94 612.79 L528.27 608.78 L531.61 605 L534.95 601.44 L538.29 598.12 L541.62 595.02 L544.96 592.16 L548.3 589.52 L551.64 587.12 L554.98 584.94 L558.31 582.99 L561.65 581.27 L564.99 579.78 L568.33 578.53 L571.66 577.5 L575 576.7" fill="none" stroke="#5a3a9f" stroke-width="3.75" stroke-linejoin="round" stroke-linecap="butt" stroke-opacity="0.5" clip-path="url(#clipmid1)"/>
<path d="M442.28 767.42 L443.23 764.98 L444.48 761.72 L446 757.81 L447.74 753.41 L449.65 748.71 L451.69 743.88 L453.94 738.73 L456.46 733.07 L459.14 727.11 L461.92 721.04 L464.69 715.06 L467.38 709.36 L470 703.87 L472.61 698.43 L475.23 693.08 L477.84 687.86 L480.46 682.81 L483.07 677.98 L485.76 673.3 L488.54 668.74 L491.31 664.34 L494 660.19 L496.51 656.35 L498.76 652.87 L500.64 649.9 L502.19 647.41 L503.57 645.22 L504.93 643.17 L506.41 641.07 L508.18 638.75 L510.24 636.19 L512.48 633.52 L514.85 630.8 L517.3 628.11 L519.8 625.51 L522.3 623.06 L524.89 620.71 L527.62 618.41 L530.39 616.19 L533.11 614.11 L535.68 612.2 L537.99 610.5 L540.13 609.02 L542.18 607.71 L544.07 606.58 L545.75 605.62 L547.15 604.84 L548.19 604.23 L555.25 609.72 L564.67 624.63 L574.87 638.75" fill="none" stroke="#893678" stroke-width="3" stroke-linejoin="round" stroke-linecap="butt" stroke-opacity="0.5" clip-path="url(#clipmid1)"/>
<path d="M441.5 616.02 L444.84 615.75 L448.18 615.61 L451.51 615.6 L454.85 615.73 L458.19 616 L461.52 616.4 L464.86 616.94 L468.2 617.62 L471.54 618.43 L474.88 619.37 L478.21 620.45 L481.55 621.67 L484.89 623.02 L488.23 624.51 L491.56 626.14 L494.9 627.9 L498.24 629.8 L501.57 631.83 L504.91 634 L508.25 636.3 L511.59 638.74 L514.92 641.31 L518.26 644.03 L521.6 646.87 L524.94 649.86 L528.27 652.97 L531.61 656.23 L534.95 659.62 L538.29 663.14 L541.62 666.81 L544.96 670.6 L548.3 674.54 L551.64 678.6 L554.98 682.81 L558.31 687.15 L561.65 691.63 L564.99 696.24 L568.33 700.99 L571.66 705.87 L575 710.89" fill="none" stroke="#138b9b" stroke-width="8.5" stroke-linejoin="round" stroke-linecap="butt" clip-path="url(#clipmid1)"/>
<line x1="441.5" y1="575.8" x2="441.5" y2="793.9" stroke="#000" stroke-width="3.33" stroke-linecap="square"/>
<line x1="441.5" y1="636.3" x2="456.08" y2="636.3" stroke="#000" stroke-width="3.33" stroke-linecap="butt"/>
<text transform="translate(371.76 646.2) scale(1.0565 1)" font-size="26.55">0.00</text>
<line x1="441.5" y1="718.4" x2="456.08" y2="718.4" stroke="#000" stroke-width="3.33" stroke-linecap="butt"/>
<text transform="translate(351.46 728.3) scale(1.1075 1)" font-size="26.55">−0.02</text>
<line x1="459.06" y1="793.9" x2="459.06" y2="785.57" stroke="#000" stroke-width="2.5" stroke-linecap="butt"/>
<line x1="473.9" y1="793.9" x2="473.9" y2="785.57" stroke="#000" stroke-width="2.5" stroke-linecap="butt"/>
<line x1="486.76" y1="793.9" x2="486.76" y2="785.57" stroke="#000" stroke-width="2.5" stroke-linecap="butt"/>
<line x1="498.1" y1="793.9" x2="498.1" y2="785.57" stroke="#000" stroke-width="2.5" stroke-linecap="butt"/>
<line x1="441.5" y1="793.9" x2="441.5" y2="779.32" stroke="#000" stroke-width="3.33" stroke-linecap="butt"/>
<text transform="translate(422.15 827.4) scale(1.0352 1)" font-size="26.55">0.5</text>
<line x1="508.25" y1="793.9" x2="508.25" y2="779.32" stroke="#000" stroke-width="3.33" stroke-linecap="butt"/>
<text transform="translate(489.04 827.4) scale(1.0431 1)" font-size="26.55">1.0</text>
<text transform="translate(555.54 827.4) scale(1.0502 1)" font-size="26.55">2.0</text>
<rect x="441.5" y="786" width="133.5" height="8" fill="url(#gbar2)" fill-opacity="0.8"/>
<line x1="575" y1="793.9" x2="575" y2="779.32" stroke="#000" stroke-width="3.33" stroke-linecap="butt"/>
<text transform="translate(343.1 0) rotate(-90) translate(-807.01 0) scale(1.0344 1)" font-size="30.97">Δ Rheobase (nA)</text>
<text transform="translate(469.92 873) scale(1.0897 1)" font-size="30.97">k/k</text>
<text transform="translate(514.09 876.8) scale(0.9695 1)" font-size="21.66">WT</text>
<path d="M441.5 1151.45 L444.84 1151.48 L448.18 1151.49 L451.51 1151.47 L454.85 1151.43 L458.19 1151.37 L461.52 1151.28 L464.86 1151.16 L468.2 1151.02 L471.54 1150.86 L474.88 1150.67 L478.21 1150.45 L481.55 1150.21 L484.89 1149.95 L488.23 1149.66 L491.56 1149.34 L494.9 1149 L498.24 1148.64 L501.57 1148.25 L504.91 1147.84 L508.25 1147.4 L511.59 1146.94 L514.92 1146.45 L518.26 1145.94 L521.6 1145.4 L524.94 1144.84 L528.27 1144.25 L531.61 1143.64 L534.95 1143 L538.29 1142.34 L541.62 1141.65 L544.96 1140.94 L548.3 1140.21 L551.64 1139.45 L554.98 1138.66 L558.31 1137.85 L561.65 1137.01 L564.99 1136.15 L568.33 1135.27 L571.66 1134.36 L575 1133.43" fill="none" stroke="#a9b722" stroke-width="3.75" stroke-linejoin="round" stroke-linecap="butt" stroke-opacity="0.5" clip-path="url(#clipmid2)"/>
<path d="M441.5 1154.63 L444.84 1154.31 L448.18 1154 L451.51 1153.67 L454.85 1153.35 L458.19 1153.01 L461.52 1152.67 L464.86 1152.33 L468.2 1151.98 L471.54 1151.63 L474.88 1151.27 L478.21 1150.91 L481.55 1150.54 L484.89 1150.16 L488.23 1149.78 L491.56 1149.4 L494.9 1149.01 L498.24 1148.62 L501.57 1148.22 L504.91 1147.81 L508.25 1147.4 L511.59 1146.98 L514.92 1146.56 L518.26 1146.14 L521.6 1145.71 L524.94 1145.27 L528.27 1144.83 L531.61 1144.38 L534.95 1143.93 L538.29 1143.48 L541.62 1143.01 L544.96 1142.55 L548.3 1142.07 L551.64 1141.6 L554.98 1141.11 L558.31 1140.63 L561.65 1140.13 L564.99 1139.64 L568.33 1139.13 L571.66 1138.62 L575 1138.11" fill="none" stroke="#ebd532" stroke-width="3.75" stroke-linejoin="round" stroke-linecap="butt" stroke-opacity="0.5" clip-path="url(#clipmid2)"/>
<path d="M441.5 1162.41 L444.84 1161.95 L448.18 1161.46 L451.51 1160.95 L454.85 1160.4 L458.19 1159.82 L461.52 1159.21 L464.86 1158.56 L468.2 1157.89 L471.54 1157.19 L474.88 1156.45 L478.21 1155.69 L481.55 1154.89 L484.89 1154.06 L488.23 1153.2 L491.56 1152.31 L494.9 1151.39 L498.24 1150.44 L501.57 1149.46 L504.91 1148.44 L508.25 1147.4 L511.59 1146.32 L514.92 1145.22 L518.26 1144.08 L521.6 1142.91 L524.94 1141.71 L528.27 1140.48 L531.61 1139.22 L534.95 1137.93 L538.29 1136.61 L541.62 1135.25 L544.96 1133.87 L548.3 1132.45 L551.64 1131 L554.98 1129.53 L558.31 1128.02 L561.65 1126.48 L564.99 1124.91 L568.33 1123.3 L571.66 1121.67 L575 1120.01" fill="none" stroke="#0b7a36" stroke-width="3.75" stroke-linejoin="round" stroke-linecap="butt" stroke-opacity="0.5" clip-path="url(#clipmid2)"/>
<path d="M441.5 1160.82 L444.84 1160.55 L448.18 1160.24 L451.51 1159.89 L454.85 1159.5 L458.19 1159.06 L461.52 1158.59 L464.86 1158.06 L468.2 1157.5 L471.54 1156.89 L474.88 1156.24 L478.21 1155.55 L481.55 1154.82 L484.89 1154.04 L488.23 1153.22 L491.56 1152.36 L494.9 1151.45 L498.24 1150.5 L501.57 1149.51 L504.91 1148.48 L508.25 1147.4 L511.59 1146.28 L514.92 1145.12 L518.26 1143.91 L521.6 1142.67 L524.94 1141.38 L528.27 1140.05 L531.61 1138.67 L534.95 1137.25 L538.29 1135.79 L541.62 1134.29 L544.96 1132.74 L548.3 1131.15 L551.64 1129.52 L554.98 1127.85 L558.31 1126.13 L561.65 1124.37 L564.99 1122.57 L568.33 1120.73 L571.66 1118.84 L575 1116.91" fill="none" stroke="#4b8a1b" stroke-width="3.75" stroke-linejoin="round" stroke-linecap="butt" stroke-opacity="0.5" clip-path="url(#clipmid2)"/>
<path d="M441.5 1166.38 L444.84 1166.19 L448.18 1165.92 L451.51 1165.56 L454.85 1165.13 L458.19 1164.62 L461.52 1164.04 L464.86 1163.37 L468.2 1162.62 L471.54 1161.79 L474.88 1160.88 L478.21 1159.89 L481.55 1158.82 L484.89 1157.67 L488.23 1156.44 L491.56 1155.14 L494.9 1153.75 L498.24 1152.28 L501.57 1150.73 L504.91 1149.11 L508.25 1147.4 L511.59 1145.61 L514.92 1143.75 L518.26 1141.8 L521.6 1139.77 L524.94 1137.67 L528.27 1135.48 L531.61 1133.22 L534.95 1130.87 L538.29 1128.45 L541.62 1125.94 L544.96 1123.36 L548.3 1120.69 L551.64 1117.95 L554.98 1115.12 L558.31 1112.22 L561.65 1109.24 L564.99 1106.17 L568.33 1103.03 L571.66 1099.81 L575 1096.5" fill="none" stroke="#c72a1d" stroke-width="3.75" stroke-linejoin="round" stroke-linecap="butt" stroke-opacity="0.5" clip-path="url(#clipmid2)"/>
<path d="M441.5 1169.47 L444.84 1168.96 L448.18 1168.39 L451.51 1167.75 L454.85 1167.05 L458.19 1166.29 L461.52 1165.47 L464.86 1164.58 L468.2 1163.64 L471.54 1162.63 L474.88 1161.55 L478.21 1160.42 L481.55 1159.22 L484.89 1157.96 L488.23 1156.64 L491.56 1155.26 L494.9 1153.81 L498.24 1152.3 L501.57 1150.73 L504.91 1149.1 L508.25 1147.4 L511.59 1145.64 L514.92 1143.82 L518.26 1141.94 L521.6 1139.99 L524.94 1137.99 L528.27 1135.92 L531.61 1133.78 L534.95 1131.59 L538.29 1129.33 L541.62 1127.01 L544.96 1124.63 L548.3 1122.19 L551.64 1119.68 L554.98 1117.11 L558.31 1114.48 L561.65 1111.79 L564.99 1109.04 L568.33 1106.22 L571.66 1103.34 L575 1100.4" fill="none" stroke="#d32d50" stroke-width="3.75" stroke-linejoin="round" stroke-linecap="butt" stroke-opacity="0.5" clip-path="url(#clipmid2)"/>
<path d="M441.5 1172.65 L444.84 1172.11 L448.18 1171.49 L451.51 1170.8 L454.85 1170.03 L458.19 1169.19 L461.52 1168.27 L464.86 1167.27 L468.2 1166.2 L471.54 1165.05 L474.88 1163.83 L478.21 1162.53 L481.55 1161.15 L484.89 1159.7 L488.23 1158.17 L491.56 1156.56 L494.9 1154.88 L498.24 1153.13 L501.57 1151.29 L504.91 1149.38 L508.25 1147.4 L511.59 1145.34 L514.92 1143.2 L518.26 1140.99 L521.6 1138.7 L524.94 1136.34 L528.27 1133.9 L531.61 1131.38 L534.95 1128.79 L538.29 1126.12 L541.62 1123.37 L544.96 1120.55 L548.3 1117.65 L551.64 1114.68 L554.98 1111.63 L558.31 1108.51 L561.65 1105.31 L564.99 1102.03 L568.33 1098.67 L571.66 1095.25 L575 1091.74" fill="none" stroke="#f3821f" stroke-width="3.75" stroke-linejoin="round" stroke-linecap="butt" stroke-opacity="0.5" clip-path="url(#clipmid2)"/>
<path d="M441.5 1193.85 L444.84 1192.04 L448.18 1190.18 L451.51 1188.27 L454.85 1186.3 L458.19 1184.28 L461.52 1182.2 L464.86 1180.07 L468.2 1177.88 L471.54 1175.64 L474.88 1173.34 L478.21 1170.99 L481.55 1168.59 L484.89 1166.13 L488.23 1163.62 L491.56 1161.05 L494.9 1158.43 L498.24 1155.75 L501.57 1153.02 L504.91 1150.24 L508.25 1147.4 L511.59 1144.51 L514.92 1141.56 L518.26 1138.56 L521.6 1135.5 L524.94 1132.39 L528.27 1129.22 L531.61 1126 L534.95 1122.73 L538.29 1119.4 L541.62 1116.02 L544.96 1112.58 L548.3 1109.09 L551.64 1105.54 L554.98 1101.94 L558.31 1098.29 L561.65 1094.58 L564.99 1090.81 L568.33 1086.99 L571.66 1083.12 L575 1079.2" fill="none" stroke="#893678" stroke-width="3.75" stroke-linejoin="round" stroke-linecap="butt" stroke-opacity="0.5" clip-path="url(#clipmid2)"/>
<path d="M441.5 1185.91 L444.84 1185.12 L448.18 1184.21 L451.51 1183.17 L454.85 1182.02 L458.19 1180.76 L461.52 1179.37 L464.86 1177.86 L468.2 1176.23 L471.54 1174.49 L474.88 1172.62 L478.21 1170.63 L481.55 1168.53 L484.89 1166.31 L488.23 1163.96 L491.56 1161.5 L494.9 1158.92 L498.24 1156.22 L501.57 1153.4 L504.91 1150.46 L508.25 1147.4 L511.59 1144.22 L514.92 1140.92 L518.26 1137.51 L521.6 1133.97 L524.94 1130.32 L528.27 1126.54 L531.61 1122.65 L534.95 1118.63 L538.29 1114.5 L541.62 1110.25 L544.96 1105.88 L548.3 1101.39 L551.64 1096.78 L554.98 1092.05 L558.31 1087.2 L561.65 1082.23 L564.99 1077.15 L568.33 1071.94 L571.66 1066.62 L575 1061.17" fill="none" stroke="#2062a8" stroke-width="3.75" stroke-linejoin="round" stroke-linecap="butt" stroke-opacity="0.5" clip-path="url(#clipmid2)"/>
<path d="M441.5 1195.44 L444.84 1194.11 L448.18 1192.67 L451.51 1191.12 L454.85 1189.45 L458.19 1187.67 L461.52 1185.78 L464.86 1183.77 L468.2 1181.65 L471.54 1179.42 L474.88 1177.08 L478.21 1174.62 L481.55 1172.05 L484.89 1169.36 L488.23 1166.56 L491.56 1163.65 L494.9 1160.63 L498.24 1157.49 L501.57 1154.24 L504.91 1150.88 L508.25 1147.4 L511.59 1143.81 L514.92 1140.11 L518.26 1136.29 L521.6 1132.36 L524.94 1128.32 L528.27 1124.16 L531.61 1119.89 L534.95 1115.51 L538.29 1111.02 L541.62 1106.41 L544.96 1101.69 L548.3 1096.85 L551.64 1091.91 L554.98 1086.85 L558.31 1081.67 L561.65 1076.38 L564.99 1070.98 L568.33 1065.47 L571.66 1059.84 L575 1054.11" fill="none" stroke="#5a3a9f" stroke-width="3.75" stroke-linejoin="round" stroke-linecap="butt" stroke-opacity="0.5" clip-path="url(#clipmid2)"/>
<path d="M441.5 1212.51 L444.84 1210.78 L448.18 1208.89 L451.51 1206.84 L454.85 1204.63 L458.19 1202.26 L461.52 1199.73 L464.86 1197.04 L468.2 1194.18 L471.54 1191.17 L474.88 1187.99 L478.21 1184.66 L481.55 1181.16 L484.89 1177.5 L488.23 1173.69 L491.56 1169.71 L494.9 1165.57 L498.24 1161.27 L501.57 1156.8 L504.91 1152.18 L508.25 1147.4 L511.59 1142.46 L514.92 1137.35 L518.26 1132.09 L521.6 1126.66 L524.94 1121.07 L528.27 1115.33 L531.61 1109.42 L534.95 1103.35 L538.29 1097.12 L541.62 1090.73 L544.96 1084.18 L548.3 1077.46 L551.64 1070.59 L554.98 1063.56 L558.31 1056.36 L561.65 1049.01 L564.99 1041.49 L568.33 1033.81 L571.66 1025.98 L575 1017.98" fill="none" stroke="#138b9b" stroke-width="3.75" stroke-linejoin="round" stroke-linecap="butt" stroke-opacity="0.5" clip-path="url(#clipmid2)"/>
<path d="M441.5 1227.04 L444.84 1224.38 L448.18 1221.59 L451.51 1218.66 L454.85 1215.58 L458.19 1212.37 L461.52 1209.02 L464.86 1205.52 L468.2 1201.89 L471.54 1198.12 L474.88 1194.21 L478.21 1190.15 L481.55 1185.96 L484.89 1181.63 L488.23 1177.16 L491.56 1172.55 L494.9 1167.8 L498.24 1162.91 L501.57 1157.88 L504.91 1152.71 L508.25 1147.4 L511.59 1141.95 L514.92 1136.36 L518.26 1130.63 L521.6 1124.76 L524.94 1118.76 L528.27 1112.61 L531.61 1106.32 L534.95 1099.89 L538.29 1093.33 L541.62 1086.62 L544.96 1079.77 L548.3 1072.79 L551.64 1065.66 L554.98 1058.39 L558.31 1050.99 L561.65 1043.44 L564.99 1035.76 L568.33 1027.93 L571.66 1019.97 L575 1011.86" fill="none" stroke="#40a987" stroke-width="8.5" stroke-linejoin="round" stroke-linecap="butt" clip-path="url(#clipmid2)"/>
<line x1="441.5" y1="1012.4" x2="441.5" y2="1230.5" stroke="#000" stroke-width="3.33" stroke-linecap="square"/>
<line x1="441.5" y1="1068" x2="456.08" y2="1068" stroke="#000" stroke-width="3.33" stroke-linecap="butt"/>
<text transform="translate(387.68 1077.9) scale(1.0376 1)" font-size="26.55">0.1</text>
<line x1="441.5" y1="1147.4" x2="456.08" y2="1147.4" stroke="#000" stroke-width="3.33" stroke-linecap="butt"/>
<text transform="translate(387.67 1157.3) scale(1.0476 1)" font-size="26.55">0.0</text>
<line x1="441.5" y1="1226.8" x2="456.08" y2="1226.8" stroke="#000" stroke-width="3.33" stroke-linecap="butt"/>
<text transform="translate(367.35 1236.7) scale(1.1213 1)" font-size="26.55">−0.1</text>
<line x1="459.06" y1="1230.5" x2="459.06" y2="1222.17" stroke="#000" stroke-width="2.5" stroke-linecap="butt"/>
<line x1="473.9" y1="1230.5" x2="473.9" y2="1222.17" stroke="#000" stroke-width="2.5" stroke-linecap="butt"/>
<line x1="486.76" y1="1230.5" x2="486.76" y2="1222.17" stroke="#000" stroke-width="2.5" stroke-linecap="butt"/>
<line x1="498.1" y1="1230.5" x2="498.1" y2="1222.17" stroke="#000" stroke-width="2.5" stroke-linecap="butt"/>
<line x1="441.5" y1="1230.5" x2="441.5" y2="1215.92" stroke="#000" stroke-width="3.33" stroke-linecap="butt"/>
<text transform="translate(422.15 1264) scale(1.0352 1)" font-size="26.55">0.5</text>
<line x1="508.25" y1="1230.5" x2="508.25" y2="1215.92" stroke="#000" stroke-width="3.33" stroke-linecap="butt"/>
<text transform="translate(489.04 1264) scale(1.0431 1)" font-size="26.55">1.0</text>
<text transform="translate(555.54 1264) scale(1.0502 1)" font-size="26.55">2.0</text>
<rect x="441.5" y="1222.6" width="133.5" height="8" fill="url(#gbar2)" fill-opacity="0.8"/>
<line x1="575" y1="1230.5" x2="575" y2="1215.92" stroke="#000" stroke-width="3.33" stroke-linecap="butt"/>
<text transform="translate(358.4 0) rotate(-90) translate(-1243.61 0) scale(1.0344 1)" font-size="30.97">Δ Rheobase (nA)</text>
<text transform="translate(467.89 1309.6) scale(1.0719 1)" font-size="30.97">g/g</text>
<text transform="translate(515.79 1312.8) scale(0.9695 1)" font-size="21.66">WT</text>
<text transform="translate(1305.86 102.8) scale(1.0330 1)" font-size="30.97">Shift (ΔV</text>
<text transform="translate(1432.91 107.1) scale(1.0404 1)" font-size="21.66">1/2</text>
<text transform="translate(1467.75 102.8) scale(0.8072 1)" font-size="30.97">)</text>
<line x1="735.6" y1="149" x2="2047" y2="149" stroke="#000" stroke-width="2.08" stroke-linecap="butt" stroke-dasharray="2.08 3.44"/>
<line x1="735.6" y1="347.1" x2="2047" y2="347.1" stroke="#000" stroke-width="2.08" stroke-linecap="butt" stroke-dasharray="2.08 3.44"/>
<line x1="735.6" y1="248.05" x2="2047" y2="248.05" stroke="#b40000" stroke-width="2.08" stroke-linecap="butt" stroke-dasharray="2.08 3.44"/>
<rect x="1316" y="140.2" width="150.2" height="215.1" fill="none" stroke="#000" stroke-width="3.8"/>
<line x1="829.3" y1="357.3" x2="829.3" y2="342.72" stroke="#000" stroke-width="3.33" stroke-linecap="butt"/>
<line x1="1016.68" y1="357.3" x2="1016.68" y2="342.72" stroke="#000" stroke-width="3.33" stroke-linecap="butt"/>
<line x1="1204.06" y1="357.3" x2="1204.06" y2="342.72" stroke="#000" stroke-width="3.33" stroke-linecap="butt"/>
<line x1="1391.44" y1="357.3" x2="1391.44" y2="342.72" stroke="#000" stroke-width="3.33" stroke-linecap="butt"/>
<line x1="1578.82" y1="357.3" x2="1578.82" y2="342.72" stroke="#000" stroke-width="3.33" stroke-linecap="butt"/>
<line x1="1766.2" y1="357.3" x2="1766.2" y2="342.72" stroke="#000" stroke-width="3.33" stroke-linecap="butt"/>
<line x1="1953.58" y1="357.3" x2="1953.58" y2="342.72" stroke="#000" stroke-width="3.33" stroke-linecap="butt"/>
<line x1="736.3" y1="149" x2="736.3" y2="347.1" stroke="#000" stroke-width="3.33" stroke-linecap="square"/>
<line x1="736.3" y1="149" x2="750.88" y2="149" stroke="#000" stroke-width="3.33" stroke-linecap="butt"/>
<text transform="translate(706.68 158.9) scale(0.9472 1)" font-size="26.55">1</text>
<line x1="736.3" y1="248.05" x2="750.88" y2="248.05" stroke="#000" stroke-width="3.33" stroke-linecap="butt"/>
<text transform="translate(706.38 257.95) scale(0.9960 1)" font-size="26.55">0</text>
<line x1="736.3" y1="347.1" x2="750.88" y2="347.1" stroke="#000" stroke-width="3.33" stroke-linecap="butt"/>
<text transform="translate(685.96 357) scale(1.1541 1)" font-size="26.55">−1</text>
<text transform="translate(660.5 0) rotate(-90) translate(-317.02 0) scale(1.0245 1)" font-size="30.97">Kendall</text>
<text transform="translate(660.5 0) rotate(-90) translate(-203.54 0) scale(1.2638 1)" font-size="30.97" font-style="italic">τ</text>
<circle cx="757.3" cy="148.7" r="4.5" fill="#c72a1d"/>
<path d="M769.9 144.4L774.5 153.2L765.3 153.2Z" fill="#0b7a36"/>
<path d="M782.2 142.5L788.4 148.7L782.2 154.9L776 148.7Z" fill="#5a3a9f"/>
<path d="M794.4 144.4L799 153.2L789.8 153.2Z" fill="#138b9b"/>
<path d="M806.7 142.5L812.9 148.7L806.7 154.9L800.5 148.7Z" fill="#f3821f"/>
<path d="M818.8 142.5L825 148.7L818.8 154.9L812.6 148.7Z" fill="#4b8a1b"/>
<rect x="825.2" y="149.5" width="8.8" height="8.8" fill="#d32d50"/>
<path d="M839.4 144.4L844 153.2L834.8 153.2Z" fill="#a9b722"/>
<circle cx="851.5" cy="148.7" r="4.5" fill="#40a987"/>
<rect x="859.5" y="144.3" width="8.8" height="8.8" fill="#2062a8"/>
<rect x="872" y="144.3" width="8.8" height="8.8" fill="#893678"/>
<circle cx="888.4" cy="148.7" r="4.5" fill="#ebd532"/>
<circle cx="957" cy="339.7" r="4.5" fill="#c72a1d"/>
<circle cx="967.4" cy="344.3" r="4.5" fill="#ebd532"/>
<rect x="975.1" y="342" width="8.8" height="8.8" fill="#893678"/>
<path d="M991.9 340.2L998.1 346.4L991.9 352.6L985.7 346.4Z" fill="#5a3a9f"/>
<path d="M1004.2 343L1008.8 351.8L999.6 351.8Z" fill="#138b9b"/>
<path d="M1016.3 343L1020.9 351.8L1011.7 351.8Z" fill="#a9b722"/>
<rect x="1012.1" y="331.6" width="8.8" height="8.8" fill="#d32d50"/>
<rect x="1024.1" y="343" width="8.8" height="8.8" fill="#2062a8"/>
<circle cx="1041" cy="346.6" r="4.5" fill="#40a987"/>
<path d="M1053.3 340.2L1059.5 346.4L1053.3 352.6L1047.1 346.4Z" fill="#4b8a1b"/>
<path d="M1065.5 340L1071.7 346.2L1065.5 352.4L1059.3 346.2Z" fill="#f3821f"/>
<path d="M1076.4 338L1081 346.8L1071.8 346.8Z" fill="#0b7a36"/>
<rect x="1199.1" y="284.1" width="8.8" height="8.8" fill="#2062a8"/>
<path d="M1192.1 309L1196.7 317.8L1187.5 317.8Z" fill="#138b9b"/>
<circle cx="1203.5" cy="315.8" r="4.5" fill="#40a987"/>
<rect x="1199.1" y="323" width="8.8" height="8.8" fill="#d32d50"/>
<rect x="1169.1" y="331.6" width="8.8" height="8.8" fill="#893678"/>
<path d="M1189.9 329.6L1196.1 335.8L1189.9 342L1183.7 335.8Z" fill="#5a3a9f"/>
<circle cx="1201.6" cy="338.3" r="4.5" fill="#c72a1d"/>
<path d="M1180.1 337.5L1186.3 343.7L1180.1 349.9L1173.9 343.7Z" fill="#4b8a1b"/>
<circle cx="1191.4" cy="347.3" r="4.5" fill="#ebd532"/>
<path d="M1203.5 343.3L1208.1 352.1L1198.9 352.1Z" fill="#a9b722"/>
<path d="M1215.2 337.8L1221.4 344L1215.2 350.2L1209 344Z" fill="#f3821f"/>
<path d="M1227.3 338.1L1231.9 346.9L1222.7 346.9Z" fill="#0b7a36"/>
<path d="M1354.2 340.8L1360.4 347L1354.2 353.2L1348 347Z" fill="#5a3a9f"/>
<path d="M1366.2 342.6L1370.8 351.4L1361.6 351.4Z" fill="#138b9b"/>
<path d="M1378.5 342.6L1383.1 351.4L1373.9 351.4Z" fill="#a9b722"/>
<path d="M1390.9 340.8L1397.1 347L1390.9 353.2L1384.7 347Z" fill="#4b8a1b"/>
<path d="M1403.4 340.8L1409.6 347L1403.4 353.2L1397.2 347Z" fill="#f3821f"/>
<rect x="1411" y="342.6" width="8.8" height="8.8" fill="#2062a8"/>
<rect x="1423" y="342.6" width="8.8" height="8.8" fill="#893678"/>
<path d="M1541.4 142.5L1547.6 148.7L1541.4 154.9L1535.2 148.7Z" fill="#5a3a9f"/>
<path d="M1553.6 144.5L1558.2 153.3L1549 153.3Z" fill="#138b9b"/>
<path d="M1565.9 144.5L1570.5 153.3L1561.3 153.3Z" fill="#a9b722"/>
<path d="M1578.2 142.5L1584.4 148.7L1578.2 154.9L1572 148.7Z" fill="#4b8a1b"/>
<path d="M1590.6 142.5L1596.8 148.7L1590.6 154.9L1584.4 148.7Z" fill="#f3821f"/>
<rect x="1598.1" y="144.1" width="8.8" height="8.8" fill="#2062a8"/>
<rect x="1611.1" y="144.1" width="8.8" height="8.8" fill="#893678"/>
<path d="M1740.8 340.8L1747 347L1740.8 353.2L1734.6 347Z" fill="#5a3a9f"/>
<path d="M1753.1 342.6L1757.7 351.4L1748.5 351.4Z" fill="#138b9b"/>
<circle cx="1765.6" cy="347" r="4.5" fill="#40a987"/>
<rect x="1773.1" y="342.6" width="8.8" height="8.8" fill="#d32d50"/>
<path d="M1928.2 142.6L1934.4 148.8L1928.2 155L1922 148.8Z" fill="#5a3a9f"/>
<path d="M1940.5 144.4L1945.1 153.2L1935.9 153.2Z" fill="#138b9b"/>
<circle cx="1952.7" cy="148.8" r="4.5" fill="#40a987"/>
<rect x="1960.6" y="144.4" width="8.8" height="8.8" fill="#d32d50"/>
<text transform="translate(808.73 390.8) scale(0.9240 1)" font-size="26.55">Na </text>
<text transform="translate(767.65 418.9) scale(1.1008 1)" font-size="26.55">activation</text>
<text transform="translate(996.11 390.8) scale(0.9240 1)" font-size="26.55">Na </text>
<text transform="translate(943.78 418.9) scale(1.0994 1)" font-size="26.55">inactivation</text>
<text transform="translate(1192.25 390.8) scale(0.9500 1)" font-size="26.55">K </text>
<text transform="translate(1142.41 418.9) scale(1.1008 1)" font-size="26.55">activation</text>
<text transform="translate(1356.26 390.8) scale(0.9500 1)" font-size="26.55">K</text>
<text transform="translate(1372.35 394.6) scale(0.9561 1)" font-size="18.58">V</text>
<text transform="translate(1385.88 390.8) scale(1.0328 1)" font-size="26.55">1.1</text>
<text transform="translate(1329.79 420.8) scale(1.1008 1)" font-size="26.55">activation</text>
<text transform="translate(1543.64 390.8) scale(0.9500 1)" font-size="26.55">K</text>
<text transform="translate(1559.73 394.6) scale(0.9561 1)" font-size="18.58">V</text>
<text transform="translate(1573.26 390.8) scale(1.0328 1)" font-size="26.55">1.1</text>
<text transform="translate(1505.92 420.8) scale(1.0994 1)" font-size="26.55">inactivation</text>
<text transform="translate(1753.8 390.8) scale(0.9489 1)" font-size="26.55">A </text>
<text transform="translate(1704.55 418.9) scale(1.1008 1)" font-size="26.55">activation</text>
<text transform="translate(1941.18 390.8) scale(0.9489 1)" font-size="26.55">A </text>
<text transform="translate(1880.68 418.9) scale(1.0994 1)" font-size="26.55">inactivation</text>
<text transform="translate(1326.4 539.8) scale(1.0410 1)" font-size="30.97">Slope (k)</text>
<line x1="735.6" y1="585.6" x2="2047" y2="585.6" stroke="#000" stroke-width="2.08" stroke-linecap="butt" stroke-dasharray="2.08 3.44"/>
<line x1="735.6" y1="783.7" x2="2047" y2="783.7" stroke="#000" stroke-width="2.08" stroke-linecap="butt" stroke-dasharray="2.08 3.44"/>
<line x1="735.6" y1="684.65" x2="2047" y2="684.65" stroke="#b40000" stroke-width="2.08" stroke-linecap="butt" stroke-dasharray="2.08 3.44"/>
<rect x="1503.1" y="576.9" width="149.8" height="215.7" fill="none" stroke="#000" stroke-width="3.8"/>
<line x1="829.3" y1="793.9" x2="829.3" y2="779.32" stroke="#000" stroke-width="3.33" stroke-linecap="butt"/>
<line x1="1016.68" y1="793.9" x2="1016.68" y2="779.32" stroke="#000" stroke-width="3.33" stroke-linecap="butt"/>
<line x1="1204.06" y1="793.9" x2="1204.06" y2="779.32" stroke="#000" stroke-width="3.33" stroke-linecap="butt"/>
<line x1="1391.44" y1="793.9" x2="1391.44" y2="779.32" stroke="#000" stroke-width="3.33" stroke-linecap="butt"/>
<line x1="1578.82" y1="793.9" x2="1578.82" y2="779.32" stroke="#000" stroke-width="3.33" stroke-linecap="butt"/>
<line x1="1766.2" y1="793.9" x2="1766.2" y2="779.32" stroke="#000" stroke-width="3.33" stroke-linecap="butt"/>
<line x1="1953.58" y1="793.9" x2="1953.58" y2="779.32" stroke="#000" stroke-width="3.33" stroke-linecap="butt"/>
<line x1="736.3" y1="585.6" x2="736.3" y2="783.7" stroke="#000" stroke-width="3.33" stroke-linecap="square"/>
<line x1="736.3" y1="585.6" x2="750.88" y2="585.6" stroke="#000" stroke-width="3.33" stroke-linecap="butt"/>
<text transform="translate(706.68 595.5) scale(0.9472 1)" font-size="26.55">1</text>
<line x1="736.3" y1="684.65" x2="750.88" y2="684.65" stroke="#000" stroke-width="3.33" stroke-linecap="butt"/>
<text transform="translate(706.38 694.55) scale(0.9960 1)" font-size="26.55">0</text>
<line x1="736.3" y1="783.7" x2="750.88" y2="783.7" stroke="#000" stroke-width="3.33" stroke-linecap="butt"/>
<text transform="translate(685.96 793.6) scale(1.1541 1)" font-size="26.55">−1</text>
<text transform="translate(660.5 0) rotate(-90) translate(-753.62 0) scale(1.0245 1)" font-size="30.97">Kendall</text>
<text transform="translate(660.5 0) rotate(-90) translate(-640.14 0) scale(1.2638 1)" font-size="30.97" font-style="italic">τ</text>
<rect x="751.6" y="776.9" width="8.8" height="8.8" fill="#d32d50"/>
<circle cx="767.6" cy="783.7" r="4.5" fill="#ebd532"/>
<rect x="775.4" y="779.1" width="8.8" height="8.8" fill="#893678"/>
<rect x="788" y="779.1" width="8.8" height="8.8" fill="#2062a8"/>
<circle cx="804.6" cy="783.7" r="4.5" fill="#40a987"/>
<path d="M816.8 779.6L821.4 788.4L812.2 788.4Z" fill="#a9b722"/>
<path d="M829.2 777.5L835.4 783.7L829.2 789.9L823 783.7Z" fill="#4b8a1b"/>
<path d="M841.3 777.5L847.5 783.7L841.3 789.9L835.1 783.7Z" fill="#f3821f"/>
<path d="M853.7 779.6L858.3 788.4L849.1 788.4Z" fill="#138b9b"/>
<path d="M866 777.5L872.2 783.7L866 789.9L859.8 783.7Z" fill="#5a3a9f"/>
<path d="M878.3 779.6L882.9 788.4L873.7 788.4Z" fill="#0b7a36"/>
<circle cx="890.5" cy="783.7" r="4.5" fill="#c72a1d"/>
<path d="M982.3 581.2L986.9 590L977.7 590Z" fill="#138b9b"/>
<path d="M994.4 580.9L1000.6 587.1L994.4 593.3L988.2 587.1Z" fill="#4b8a1b"/>
<circle cx="1005.4" cy="591.1" r="4.5" fill="#c72a1d"/>
<circle cx="1014.9" cy="585.3" r="4.5" fill="#40a987"/>
<path d="M1016.4 591L1021 599.8L1011.8 599.8Z" fill="#0b7a36"/>
<circle cx="1025.9" cy="589.1" r="4.5" fill="#ebd532"/>
<path d="M1038.3 582.2L1044.5 588.4L1038.3 594.6L1032.1 588.4Z" fill="#f3821f"/>
<path d="M1049.9 581.5L1054.5 590.3L1045.3 590.3Z" fill="#a9b722"/>
<rect x="1057.9" y="581.1" width="8.8" height="8.8" fill="#2062a8"/>
<rect x="1000" y="779.1" width="8.8" height="8.8" fill="#893678"/>
<path d="M1016.3 777.2L1022.5 783.4L1016.3 789.6L1010.1 783.4Z" fill="#5a3a9f"/>
<rect x="1024" y="777.1" width="8.8" height="8.8" fill="#d32d50"/>
<path d="M1179.3 578.8L1185.5 585L1179.3 591.2L1173.1 585Z" fill="#4b8a1b"/>
<path d="M1191.5 579.3L1197.7 585.5L1191.5 591.7L1185.3 585.5Z" fill="#5a3a9f"/>
<path d="M1203.6 580.2L1209.8 586.4L1203.6 592.6L1197.4 586.4Z" fill="#f3821f"/>
<rect x="1211.5" y="582" width="8.8" height="8.8" fill="#893678"/>
<path d="M1228.1 581.1L1232.7 589.9L1223.5 589.9Z" fill="#a9b722"/>
<rect x="1179" y="590" width="8.8" height="8.8" fill="#d32d50"/>
<circle cx="1213.5" cy="596.5" r="4.5" fill="#c72a1d"/>
<path d="M1191.5 596.9L1196.1 605.7L1186.9 605.7Z" fill="#0b7a36"/>
<circle cx="1203.6" cy="602.1" r="4.5" fill="#ebd532"/>
<circle cx="1191.5" cy="614.4" r="4.5" fill="#40a987"/>
<path d="M1203.6 610.6L1208.2 619.4L1199 619.4Z" fill="#138b9b"/>
<path d="M1354.2 578.8L1360.4 585L1354.2 591.2L1348 585Z" fill="#5a3a9f"/>
<path d="M1366.4 580.6L1371 589.4L1361.8 589.4Z" fill="#138b9b"/>
<path d="M1378.4 580.6L1383 589.4L1373.8 589.4Z" fill="#a9b722"/>
<path d="M1390.9 578.8L1397.1 585L1390.9 591.2L1384.7 585Z" fill="#4b8a1b"/>
<path d="M1403.3 578.8L1409.5 585L1403.3 591.2L1397.1 585Z" fill="#f3821f"/>
<rect x="1411" y="580.6" width="8.8" height="8.8" fill="#2062a8"/>
<rect x="1423.1" y="580.6" width="8.8" height="8.8" fill="#893678"/>
<path d="M1578.4 578.9L1584.6 585.1L1578.4 591.3L1572.2 585.1Z" fill="#5a3a9f"/>
<rect x="1574" y="604.8" width="8.8" height="8.8" fill="#893678"/>
<path d="M1553.5 779.2L1558.1 788L1548.9 788Z" fill="#138b9b"/>
<path d="M1566.1 779.2L1570.7 788L1561.5 788Z" fill="#a9b722"/>
<path d="M1578.4 777.4L1584.6 783.6L1578.4 789.8L1572.2 783.6Z" fill="#4b8a1b"/>
<path d="M1590.7 777.4L1596.9 783.6L1590.7 789.8L1584.5 783.6Z" fill="#f3821f"/>
<rect x="1598.1" y="778.9" width="8.8" height="8.8" fill="#2062a8"/>
<path d="M1753 581L1757.6 589.8L1748.4 589.8Z" fill="#138b9b"/>
<circle cx="1765.6" cy="585" r="4.5" fill="#40a987"/>
<rect x="1761.2" y="627.8" width="8.8" height="8.8" fill="#d32d50"/>
<path d="M1765.6 777.2L1771.8 783.4L1765.6 789.6L1759.4 783.4Z" fill="#5a3a9f"/>
<rect x="1924" y="581" width="8.8" height="8.8" fill="#d32d50"/>
<circle cx="1940.7" cy="585.2" r="4.5" fill="#40a987"/>
<path d="M1952.7 581.2L1958.9 587.4L1952.7 593.6L1946.5 587.4Z" fill="#5a3a9f"/>
<path d="M1964.5 581.2L1969.1 590L1959.9 590Z" fill="#138b9b"/>
<text transform="translate(808.73 827.4) scale(0.9240 1)" font-size="26.55">Na </text>
<text transform="translate(767.65 855.5) scale(1.1008 1)" font-size="26.55">activation</text>
<text transform="translate(996.11 827.4) scale(0.9240 1)" font-size="26.55">Na </text>
<text transform="translate(943.78 855.5) scale(1.0994 1)" font-size="26.55">inactivation</text>
<text transform="translate(1192.25 827.4) scale(0.9500 1)" font-size="26.55">K </text>
<text transform="translate(1142.41 855.5) scale(1.1008 1)" font-size="26.55">activation</text>
<text transform="translate(1356.26 827.4) scale(0.9500 1)" font-size="26.55">K</text>
<text transform="translate(1372.35 831.2) scale(0.9561 1)" font-size="18.58">V</text>
<text transform="translate(1385.88 827.4) scale(1.0328 1)" font-size="26.55">1.1</text>
<text transform="translate(1329.79 857.4) scale(1.1008 1)" font-size="26.55">activation</text>
<text transform="translate(1543.64 827.4) scale(0.9500 1)" font-size="26.55">K</text>
<text transform="translate(1559.73 831.2) scale(0.9561 1)" font-size="18.58">V</text>
<text transform="translate(1573.26 827.4) scale(1.0328 1)" font-size="26.55">1.1</text>
<text transform="translate(1505.92 857.4) scale(1.0994 1)" font-size="26.55">inactivation</text>
<text transform="translate(1753.8 827.4) scale(0.9489 1)" font-size="26.55">A </text>
<text transform="translate(1704.55 855.5) scale(1.1008 1)" font-size="26.55">activation</text>
<text transform="translate(1941.18 827.4) scale(0.9489 1)" font-size="26.55">A </text>
<text transform="translate(1880.68 855.5) scale(1.0994 1)" font-size="26.55">inactivation</text>
<text transform="translate(1269.95 976.8) scale(1.0556 1)" font-size="30.97">Conductance (g)</text>
<line x1="735.6" y1="1022.2" x2="2047" y2="1022.2" stroke="#000" stroke-width="2.08" stroke-linecap="butt" stroke-dasharray="2.08 3.44"/>
<line x1="735.6" y1="1220.3" x2="2047" y2="1220.3" stroke="#000" stroke-width="2.08" stroke-linecap="butt" stroke-dasharray="2.08 3.44"/>
<line x1="735.6" y1="1121.25" x2="2047" y2="1121.25" stroke="#b40000" stroke-width="2.08" stroke-linecap="butt" stroke-dasharray="2.08 3.44"/>
<rect x="1809.4" y="1012.9" width="210.5" height="215.7" fill="none" stroke="#000" stroke-width="3.8"/>
<line x1="867.3" y1="1230.5" x2="867.3" y2="1215.92" stroke="#000" stroke-width="3.33" stroke-linecap="butt"/>
<line x1="1129.35" y1="1230.5" x2="1129.35" y2="1215.92" stroke="#000" stroke-width="3.33" stroke-linecap="butt"/>
<line x1="1391.4" y1="1230.5" x2="1391.4" y2="1215.92" stroke="#000" stroke-width="3.33" stroke-linecap="butt"/>
<line x1="1653.45" y1="1230.5" x2="1653.45" y2="1215.92" stroke="#000" stroke-width="3.33" stroke-linecap="butt"/>
<line x1="1915.5" y1="1230.5" x2="1915.5" y2="1215.92" stroke="#000" stroke-width="3.33" stroke-linecap="butt"/>
<line x1="736.3" y1="1022.2" x2="736.3" y2="1220.3" stroke="#000" stroke-width="3.33" stroke-linecap="square"/>
<line x1="736.3" y1="1022.2" x2="750.88" y2="1022.2" stroke="#000" stroke-width="3.33" stroke-linecap="butt"/>
<text transform="translate(706.68 1032.1) scale(0.9472 1)" font-size="26.55">1</text>
<line x1="736.3" y1="1121.25" x2="750.88" y2="1121.25" stroke="#000" stroke-width="3.33" stroke-linecap="butt"/>
<text transform="translate(706.38 1131.15) scale(0.9960 1)" font-size="26.55">0</text>
<line x1="736.3" y1="1220.3" x2="750.88" y2="1220.3" stroke="#000" stroke-width="3.33" stroke-linecap="butt"/>
<text transform="translate(685.96 1230.2) scale(1.1541 1)" font-size="26.55">−1</text>
<text transform="translate(660.5 0) rotate(-90) translate(-1190.22 0) scale(1.0245 1)" font-size="30.97">Kendall</text>
<text transform="translate(660.5 0) rotate(-90) translate(-1076.74 0) scale(1.2638 1)" font-size="30.97" font-style="italic">τ</text>
<rect x="789.1" y="1213.6" width="8.8" height="8.8" fill="#d32d50"/>
<circle cx="805" cy="1220.2" r="4.5" fill="#ebd532"/>
<rect x="813.1" y="1216" width="8.8" height="8.8" fill="#893678"/>
<rect x="825.2" y="1216" width="8.8" height="8.8" fill="#2062a8"/>
<circle cx="842" cy="1220.2" r="4.5" fill="#40a987"/>
<path d="M854.2 1216.1L858.8 1224.9L849.6 1224.9Z" fill="#a9b722"/>
<path d="M866.6 1213.8L872.8 1220L866.6 1226.2L860.4 1220Z" fill="#4b8a1b"/>
<path d="M878.8 1213.8L885 1220L878.8 1226.2L872.6 1220Z" fill="#f3821f"/>
<path d="M891.2 1216.1L895.8 1224.9L886.6 1224.9Z" fill="#138b9b"/>
<path d="M903.5 1214L909.7 1220.2L903.5 1226.4L897.3 1220.2Z" fill="#5a3a9f"/>
<path d="M915.6 1216.1L920.2 1224.9L911 1224.9Z" fill="#0b7a36"/>
<circle cx="927.8" cy="1220.2" r="4.5" fill="#c72a1d"/>
<circle cx="1092.7" cy="1021.9" r="4.5" fill="#ebd532"/>
<path d="M1105 1017.8L1109.6 1026.6L1100.4 1026.6Z" fill="#a9b722"/>
<path d="M1117.3 1016.2L1123.5 1022.4L1117.3 1028.6L1111.1 1022.4Z" fill="#4b8a1b"/>
<path d="M1128.7 1019.6L1134.9 1025.8L1128.7 1032L1122.5 1025.8Z" fill="#f3821f"/>
<rect x="1136.1" y="1018" width="8.8" height="8.8" fill="#893678"/>
<rect x="1148.1" y="1018" width="8.8" height="8.8" fill="#d32d50"/>
<path d="M1164.6 1015.7L1170.8 1021.9L1164.6 1028.1L1158.4 1021.9Z" fill="#5a3a9f"/>
<path d="M1118.3 1030.1L1122.9 1038.9L1113.7 1038.9Z" fill="#0b7a36"/>
<circle cx="1128.7" cy="1039" r="4.5" fill="#c72a1d"/>
<path d="M1354.3 1015.6L1360.5 1021.8L1354.3 1028L1348.1 1021.8Z" fill="#5a3a9f"/>
<path d="M1366.4 1017.4L1371 1026.2L1361.8 1026.2Z" fill="#138b9b"/>
<path d="M1378.6 1017.4L1383.2 1026.2L1374 1026.2Z" fill="#a9b722"/>
<path d="M1391 1015.6L1397.2 1021.8L1391 1028L1384.8 1021.8Z" fill="#4b8a1b"/>
<path d="M1403.3 1015.6L1409.5 1021.8L1403.3 1028L1397.1 1021.8Z" fill="#f3821f"/>
<rect x="1411.1" y="1017.4" width="8.8" height="8.8" fill="#2062a8"/>
<rect x="1423.1" y="1017.4" width="8.8" height="8.8" fill="#893678"/>
<path d="M1628.5 1015.7L1634.7 1021.9L1628.5 1028.1L1622.3 1021.9Z" fill="#5a3a9f"/>
<path d="M1640.6 1017.6L1645.2 1026.4L1636 1026.4Z" fill="#138b9b"/>
<circle cx="1653" cy="1021.9" r="4.5" fill="#40a987"/>
<rect x="1661.1" y="1017.6" width="8.8" height="8.8" fill="#d32d50"/>
<circle cx="1841.5" cy="1022" r="4.5" fill="#c72a1d"/>
<path d="M1853.8 1017.6L1858.4 1026.4L1849.2 1026.4Z" fill="#0b7a36"/>
<path d="M1866.1 1015.8L1872.3 1022L1866.1 1028.2L1859.9 1022Z" fill="#5a3a9f"/>
<rect x="1874" y="1017.6" width="8.8" height="8.8" fill="#2062a8"/>
<circle cx="1890.7" cy="1022" r="4.5" fill="#40a987"/>
<path d="M1903 1017.6L1907.6 1026.4L1898.4 1026.4Z" fill="#a9b722"/>
<path d="M1915.2 1015.8L1921.4 1022L1915.2 1028.2L1909 1022Z" fill="#4b8a1b"/>
<path d="M1927.5 1015.8L1933.7 1022L1927.5 1028.2L1921.3 1022Z" fill="#f3821f"/>
<path d="M1939.8 1017.6L1944.4 1026.4L1935.2 1026.4Z" fill="#138b9b"/>
<rect x="1948" y="1017.6" width="8.8" height="8.8" fill="#d32d50"/>
<rect x="1960.2" y="1017.6" width="8.8" height="8.8" fill="#893678"/>
<circle cx="1976.6" cy="1022" r="4.5" fill="#ebd532"/>
<text transform="translate(850.7 1264) scale(0.9240 1)" font-size="26.55">Na</text>
<text transform="translate(1121.51 1264) scale(0.9500 1)" font-size="26.55">K</text>
<text transform="translate(1357.92 1264) scale(0.9500 1)" font-size="26.55">K</text>
<text transform="translate(1374.01 1267.8) scale(0.9561 1)" font-size="18.58">V</text>
<text transform="translate(1387.54 1264) scale(1.0328 1)" font-size="26.55">1.1</text>
<text transform="translate(1645.02 1264) scale(0.9489 1)" font-size="26.55">A</text>
<text transform="translate(1886.38 1264) scale(1.0141 1)" font-size="26.55">Leak</text>
<circle cx="423.5" cy="1407.5" r="6.21" fill="#40a987"/>
<text transform="translate(467.12 1415.8) scale(1.0398 1)" font-size="26.55">Model A</text>
<circle cx="423.5" cy="1443.4" r="6.21" fill="#ebd532"/>
<text transform="translate(467.16 1452.1) scale(1.0224 1)" font-size="26.55">Model B</text>
<circle cx="644.3" cy="1407.5" r="6.21" fill="#c72a1d"/>
<text transform="translate(688.39 1415.8) scale(1.0111 1)" font-size="26.55">Model C</text>
<path d="M644.3 1435.3L651.28 1448.9L637.32 1448.9Z" fill="#0b7a36"/>
<text transform="translate(688.34 1452.1) scale(1.0302 1)" font-size="26.55">Model D</text>
<path d="M865.8 1399.4L872.78 1413L858.82 1413Z" fill="#a9b722"/>
<text transform="translate(909.69 1415.8) scale(1.0069 1)" font-size="26.55">Model E</text>
<path d="M865.8 1435.3L872.78 1448.9L858.82 1448.9Z" fill="#138b9b"/>
<text transform="translate(909.69 1452.1) scale(1.0092 1)" font-size="26.55">Model F</text>
<path d="M1084.7 1398.94L1093.26 1407.5L1084.7 1416.06L1076.14 1407.5Z" fill="#f3821f"/>
<text transform="translate(1128.67 1415.8) scale(1.0178 1)" font-size="26.55">Model G</text>
<path d="M1084.7 1434.84L1093.26 1443.4L1084.7 1451.96L1076.14 1443.4Z" fill="#4b8a1b"/>
<text transform="translate(1128.65 1452.1) scale(1.0258 1)" font-size="26.55">Model H</text>
<path d="M1308.1 1398.94L1316.66 1407.5L1308.1 1416.06L1299.54 1407.5Z" fill="#5a3a9f"/>
<text transform="translate(1352.13 1415.8) scale(1.0373 1)" font-size="26.55">Model I</text>
<rect x="1302.03" y="1437.33" width="12.14" height="12.14" fill="#2062a8"/>
<text transform="translate(1352.29 1452.1) scale(0.9629 1)" font-size="26.55">Model J</text>
<rect x="1512.33" y="1401.43" width="12.14" height="12.14" fill="#893678"/>
<text transform="translate(1561.75 1415.8) scale(1.0267 1)" font-size="26.55">Model K</text>
<rect x="1512.33" y="1437.33" width="12.14" height="12.14" fill="#d32d50"/>
<text transform="translate(1561.74 1452.1) scale(1.0327 1)" font-size="26.55">Model L</text>
</svg></body></html>
